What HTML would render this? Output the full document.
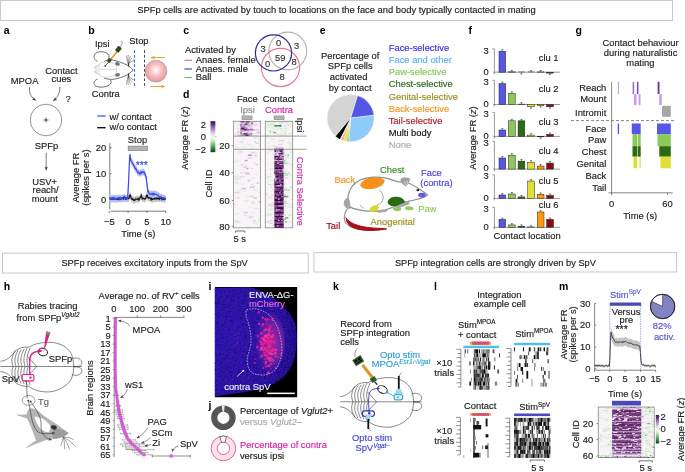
<!DOCTYPE html>
<html><head><meta charset="utf-8"><style>
html,body{margin:0;padding:0;background:#fff;width:685px;height:472px;overflow:hidden}
svg{display:block;font-family:"Liberation Sans",sans-serif;will-change:transform}
</style></head><body>
<svg width="685" height="472" viewBox="0 0 685 472">
<rect x="0.50" y="0.50" width="672.00" height="20.00" fill="none" stroke="#c9c9c9" stroke-width="1"/>
<text x="336.5" y="13.2" text-anchor="middle" font-size="9.37" fill="#222" stroke="#222" stroke-width="0.16">SPFp cells are activated by touch to locations on the face and body typically contacted in mating</text>
<rect x="2.50" y="253.20" width="305.80" height="19.80" fill="none" stroke="#c9c9c9" stroke-width="1"/>
<text x="154.6" y="266.4" text-anchor="middle" font-size="9.27" fill="#222" stroke="#222" stroke-width="0.16">SPFp receives excitatory inputs from the SpV</text>
<rect x="313.90" y="252.60" width="362.70" height="19.40" fill="none" stroke="#c9c9c9" stroke-width="1"/>
<text x="495.4" y="266.0" text-anchor="middle" font-size="9.25" fill="#222" stroke="#222" stroke-width="0.16">SPFp integration cells are strongly driven by SpV</text>
<text x="3.7" y="33.8" text-anchor="start" font-size="10.5" fill="#000" font-weight="bold">a</text>
<text x="88.2" y="33.8" text-anchor="start" font-size="10.5" fill="#000" font-weight="bold">b</text>
<text x="183.2" y="33.8" text-anchor="start" font-size="10.5" fill="#000" font-weight="bold">c</text>
<text x="182.9" y="98" text-anchor="start" font-size="10.5" fill="#000" font-weight="bold">d</text>
<text x="319.8" y="33.8" text-anchor="start" font-size="10.5" fill="#000" font-weight="bold">e</text>
<text x="468.4" y="33.8" text-anchor="start" font-size="10.5" fill="#000" font-weight="bold">f</text>
<text x="575.6" y="33.8" text-anchor="start" font-size="10.5" fill="#000" font-weight="bold">g</text>
<text x="3.8" y="290.2" text-anchor="start" font-size="10.5" fill="#000" font-weight="bold">h</text>
<text x="208.6" y="289.6" text-anchor="start" font-size="10.5" fill="#000" font-weight="bold">i</text>
<text x="208.4" y="409.2" text-anchor="start" font-size="10.5" fill="#000" font-weight="bold">j</text>
<text x="332.9" y="289.7" text-anchor="start" font-size="10.5" fill="#000" font-weight="bold">k</text>
<text x="434.0" y="289.6" text-anchor="start" font-size="10.5" fill="#000" font-weight="bold">l</text>
<text x="559.0" y="289.6" text-anchor="start" font-size="10.5" fill="#000" font-weight="bold">m</text>
<text x="10.8" y="84" text-anchor="start" font-size="9.4" fill="#222" stroke="#222" stroke-width="0.16">MPOA</text>
<text x="61.4" y="74" text-anchor="middle" font-size="9.4" fill="#222" stroke="#222" stroke-width="0.16">Contact</text>
<text x="61.4" y="82.4" text-anchor="middle" font-size="9.4" fill="#222" stroke="#222" stroke-width="0.16">cues</text>
<text x="65.4" y="101.7" text-anchor="start" font-size="9.4" fill="#222" stroke="#222" stroke-width="0.16">?</text>
<defs><marker id="ah" viewBox="0 0 6 6" refX="5" refY="3" markerWidth="4" markerHeight="4" orient="auto"><path d="M0,0 L6,3 L0,6 z" fill="#444"/></marker><marker id="ahs" viewBox="0 0 6 6" refX="5" refY="3" markerWidth="6" markerHeight="6" orient="auto"><path d="M0,0.5 L6,3 L0,5.5 L1.5,3 z" fill="#444"/></marker></defs>
<path d="M29.5,87.2 Q28.5,96 35.6,100.2" fill="none" stroke="#444" stroke-width="0.7" marker-end="url(#ahs)"/>
<path d="M59.8,86.6 Q60.5,95 53.6,100.6" fill="none" stroke="#444" stroke-width="0.7" marker-end="url(#ahs)"/>
<circle cx="46" cy="120" r="15.8" fill="none" stroke="#666" stroke-width="0.7"/>
<line x1="43.6" y1="120" x2="48.4" y2="120" stroke="#222" stroke-width="0.8"/>
<line x1="46" y1="117.6" x2="46" y2="122.4" stroke="#222" stroke-width="0.8"/>
<text x="46.6" y="148.5" text-anchor="middle" font-size="9.4" fill="#222" stroke="#222" stroke-width="0.16">SPFp</text>
<line x1="46.2" y1="152.8" x2="46.2" y2="170" stroke="#444" stroke-width="0.7" marker-end="url(#ahs)"/>
<text x="44.6" y="184.7" text-anchor="middle" font-size="9.4" fill="#222" stroke="#222" stroke-width="0.16">USV+</text>
<text x="45.6" y="193.4" text-anchor="middle" font-size="9.4" fill="#222" stroke="#222" stroke-width="0.16">reach/</text>
<text x="44.8" y="201.7" text-anchor="middle" font-size="9.4" fill="#222" stroke="#222" stroke-width="0.16">mount</text>
<text x="95.0" y="46.8" text-anchor="start" font-size="9.4" fill="#222" stroke="#222" stroke-width="0.16">Ipsi</text>
<text x="129.3" y="44.3" text-anchor="start" font-size="9.4" fill="#222" stroke="#222" stroke-width="0.16">Stop</text>
<text x="91.7" y="96.6" text-anchor="start" font-size="9.4" fill="#222" stroke="#222" stroke-width="0.16">Contra</text>
<path d="M97.5,61.5 C93.5,59.5 92.8,55 96,53 C99.5,51 105,51.3 108,54 C109.6,55.6 109.3,58.5 107.5,60.5" fill="#fff" stroke="#333" stroke-width="0.7"/>
<path d="M97.5,79 C93.5,80.5 92.8,84.5 96,86.2 C99.5,87.8 105,87.5 109,85.2 C111.5,83.8 111.5,81.5 110.5,80" fill="#fff" stroke="#333" stroke-width="0.7"/>
<path d="M104,61.5 C106,60.5 108.5,59.5 111,59.7 C117,60.8 123,63 127,65 C129.5,66.5 131.5,68.2 133.3,70 C131.5,71.8 129.5,73.5 127,75 C123,77 118,78.6 113.2,79.3 C110,79.6 106.5,79 104,78" fill="#fff" stroke="#333" stroke-width="0.7"/>
<g fill="none" stroke="#b4b4b4" stroke-width="0.5">
<path d="M100,63 C104,61.5 110,61.5 114,63.5 C116.5,65 116.8,68 116.6,69.4 C116.8,71 116.5,74 114,75.5 C110,77.5 104,77.5 100,76"/>
<path d="M100,69.4 L116.6,69.4 M100,63 C98.5,66 98.5,72.8 100,76 M93.2,68 C95,67 97,66 98.8,64.5 M93.2,71 C95,72 97,73 98.8,74.5"/>
<path d="M96,65.5 C95,68 95,71 96,73.5 M97.5,64.5 C96.5,68 96.5,71 97.5,74.5"/>
</g>
<ellipse cx="117.5" cy="63.9" rx="2.4" ry="1.7" fill="#707070" transform="rotate(15 117.5 63.9)"/>
<ellipse cx="117.5" cy="74.9" rx="2.4" ry="1.7" fill="#707070" transform="rotate(-15 117.5 74.9)"/>
<path d="M128.6,66.2 C128.2,62 125.4,56.7 127.0,55.2" fill="none" stroke="#222" stroke-width="0.4"/>
<path d="M128.6,66.2 C128.2,62 127.2,56.5 128.8,55.0" fill="none" stroke="#222" stroke-width="0.4"/>
<path d="M128.6,66.2 C128.2,62 129.2,57.3 130.8,55.8" fill="none" stroke="#222" stroke-width="0.4"/>
<path d="M128.6,66.2 C128.2,62 131.0,59.1 132.6,57.6" fill="none" stroke="#222" stroke-width="0.4"/>
<path d="M128.6,66.2 C128.2,62 132.4,61.5 134.0,60.0" fill="none" stroke="#222" stroke-width="0.4"/>
<path d="M128.6,73.8 C128.2,78 125.4,83.3 127.0,84.8" fill="none" stroke="#222" stroke-width="0.4"/>
<path d="M128.6,73.8 C128.2,78 127.2,83.5 128.8,85.0" fill="none" stroke="#222" stroke-width="0.4"/>
<path d="M128.6,73.8 C128.2,78 129.2,82.7 130.8,84.2" fill="none" stroke="#222" stroke-width="0.4"/>
<path d="M128.6,73.8 C128.2,78 131.0,80.9 132.6,82.4" fill="none" stroke="#222" stroke-width="0.4"/>
<path d="M128.6,73.8 C128.2,78 132.4,78.5 134.0,80.0" fill="none" stroke="#222" stroke-width="0.4"/>
<line x1="109.8" y1="60.3" x2="118.0" y2="50.8" stroke="#e0962a" stroke-width="1.6"/>
<rect x="-2.2" y="-3" width="4.4" height="6" rx="1" fill="#2a4a22" transform="translate(118.4 49.3) rotate(40)"/>
<rect x="-1.6" y="-2" width="3.2" height="4" fill="#2a4a22" transform="translate(109.4 60.6) rotate(40)"/>
<line x1="108.6" y1="62.2" x2="105.2" y2="66.0" stroke="#222" stroke-width="0.7"/>
<circle cx="105.1" cy="66.1" r="0.8" fill="#222"/>
<path d="M120.2,46.8 C121.5,45 122.6,43 122.3,41.8 C122,40.8 121,40.9 120.7,41.6" fill="none" stroke="#444" stroke-width="0.5"/>
<line x1="134.5" y1="50.2" x2="134.5" y2="88.0" stroke="#3d6cf0" stroke-width="1.1" stroke-dasharray="2.8,1.9"/>
<line x1="144.5" y1="50.2" x2="144.5" y2="88.0" stroke="#333" stroke-width="0.9" stroke-dasharray="2.8,1.9"/>
<defs><radialGradient id="ball" cx="0.5" cy="0.45" r="0.55"><stop offset="0" stop-color="#fff"/><stop offset="0.5" stop-color="#f7c0c4"/><stop offset="1" stop-color="#ec959c"/></radialGradient></defs>
<circle cx="156" cy="71.2" r="10.9" fill="url(#ball)" stroke="#909090" stroke-width="0.5"/>
<defs><marker id="aho" viewBox="0 0 6 6" refX="5" refY="3" markerWidth="4.5" markerHeight="4.5" orient="auto"><path d="M0,0.5 L6,3 L0,5.5 L1.5,3 z" fill="#f0a030"/></marker></defs>
<line x1="165.0" y1="57.6" x2="151.2" y2="57.6" stroke="#f0a030" stroke-width="1.0" marker-end="url(#aho)"/>
<line x1="150.4" y1="86.5" x2="164.6" y2="86.5" stroke="#f0a030" stroke-width="1.0" marker-end="url(#aho)"/>
<line x1="97.2" y1="116" x2="105.6" y2="116" stroke="#3d6cf0" stroke-width="1.4"/>
<text x="109.5" y="119.9" text-anchor="start" font-size="9.4" fill="#222" stroke="#222" stroke-width="0.16">w/ contact</text>
<line x1="97.2" y1="127.7" x2="105.6" y2="127.7" stroke="#111" stroke-width="1.4"/>
<text x="109.5" y="130.3" text-anchor="start" font-size="9.4" fill="#222" stroke="#222" stroke-width="0.16">w/o contact</text>
<text x="137.5" y="142.9" text-anchor="middle" font-size="9.4" fill="#222" stroke="#222" stroke-width="0.16">Stop</text>
<rect x="128.20" y="146.10" width="19.10" height="4.60" fill="#b3b3b3" stroke="#7a7a7a" stroke-width="0.6"/>
<line x1="109.8" y1="143.3" x2="109.8" y2="209.5" stroke="#444" stroke-width="0.7"/>
<line x1="109.8" y1="147.7" x2="111.6" y2="147.7" stroke="#444" stroke-width="0.7"/>
<text x="106.3" y="151.0" text-anchor="end" font-size="9.4" fill="#222" stroke="#222" stroke-width="0.16">20</text>
<line x1="109.8" y1="173.7" x2="111.6" y2="173.7" stroke="#444" stroke-width="0.7"/>
<text x="106.3" y="177.0" text-anchor="end" font-size="9.4" fill="#222" stroke="#222" stroke-width="0.16">10</text>
<line x1="109.8" y1="199.7" x2="111.6" y2="199.7" stroke="#444" stroke-width="0.7"/>
<text x="106.3" y="203.0" text-anchor="end" font-size="9.4" fill="#222" stroke="#222" stroke-width="0.16">0</text>
<line x1="110.6" y1="211.2" x2="166" y2="211.2" stroke="#444" stroke-width="0.7"/>
<line x1="109.3" y1="211.2" x2="109.3" y2="213" stroke="#444" stroke-width="0.7"/>
<text x="109.3" y="225" text-anchor="middle" font-size="9.4" fill="#222" stroke="#222" stroke-width="0.16">−5</text>
<line x1="128.1" y1="211.2" x2="128.1" y2="213" stroke="#444" stroke-width="0.7"/>
<text x="128.1" y="225" text-anchor="middle" font-size="9.4" fill="#222" stroke="#222" stroke-width="0.16">0</text>
<line x1="146.89999999999998" y1="211.2" x2="146.89999999999998" y2="213" stroke="#444" stroke-width="0.7"/>
<text x="146.89999999999998" y="225" text-anchor="middle" font-size="9.4" fill="#222" stroke="#222" stroke-width="0.16">5</text>
<line x1="165.7" y1="211.2" x2="165.7" y2="213" stroke="#444" stroke-width="0.7"/>
<text x="165.7" y="225" text-anchor="middle" font-size="9.4" fill="#222" stroke="#222" stroke-width="0.16">10</text>
<text x="138.3" y="237.2" text-anchor="middle" font-size="9.4" fill="#222" stroke="#222" stroke-width="0.16">Time (s)</text>
<text transform="translate(78.50,177.6) rotate(-90)" text-anchor="middle" font-size="9.4" fill="#222" stroke="#222" stroke-width="0.16">Average FR</text>
<text transform="translate(89.30,177.6) rotate(-90)" text-anchor="middle" font-size="9.4" fill="#222" stroke="#222" stroke-width="0.16">(spikes per s)</text>
<polygon points="109.3,195.1 109.8,194.8 110.2,195.3 110.7,194.8 111.2,194.8 111.6,195.9 112.1,195.9 112.6,195.0 113.1,194.6 113.5,195.7 114.0,195.4 114.5,195.2 114.9,195.7 115.4,195.7 115.9,195.8 116.3,195.7 116.8,195.4 117.3,195.8 117.8,195.6 118.2,195.0 118.7,196.1 119.2,195.2 119.6,194.8 120.1,195.5 120.6,195.5 121.0,194.6 121.5,195.4 122.0,195.4 122.5,195.0 122.9,194.5 123.4,195.4 123.9,194.5 124.3,193.5 124.8,194.0 125.3,195.4 125.8,194.6 126.2,195.6 126.7,195.3 127.2,194.8 127.6,194.3 128.1,194.9 128.6,195.2 129.0,194.7 129.5,192.6 130.0,191.6 130.4,192.3 130.9,193.8 131.4,195.7 131.9,195.9 132.3,195.4 132.8,196.0 133.3,196.0 133.7,197.1 134.2,197.2 134.7,196.7 135.2,195.7 135.6,196.3 136.1,195.9 136.6,195.7 137.0,195.8 137.5,195.9 138.0,195.2 138.4,196.4 138.9,196.8 139.4,195.4 139.8,194.6 140.3,193.6 140.8,193.6 141.3,192.0 141.7,193.2 142.2,195.5 142.7,195.1 143.1,194.9 143.6,195.2 144.1,195.4 144.5,195.7 145.0,195.6 145.5,195.5 146.0,194.5 146.4,192.5 146.9,191.7 147.4,192.0 147.8,194.4 148.3,194.2 148.8,194.8 149.2,194.5 149.7,194.6 150.2,194.7 150.7,195.3 151.1,196.3 151.6,195.2 152.1,196.2 152.5,196.1 153.0,195.5 153.5,195.6 153.9,195.7 154.4,194.9 154.9,195.3 155.4,195.7 155.8,195.7 156.3,194.7 156.8,195.3 157.2,194.7 157.7,195.3 158.2,195.5 158.6,195.0 159.1,194.6 159.6,195.6 160.1,194.7 160.5,194.5 161.0,194.7 161.5,194.7 161.9,196.0 162.4,195.1 162.9,194.8 163.3,196.1 163.8,195.8 164.3,195.8 164.8,195.4 165.2,195.6 165.7,195.6 165.7,202.3 165.2,202.4 164.8,202.2 164.3,202.6 163.8,202.5 163.3,202.8 162.9,201.5 162.4,201.9 161.9,202.8 161.5,201.5 161.0,201.5 160.5,201.3 160.1,201.5 159.6,202.4 159.1,201.4 158.6,201.8 158.2,202.3 157.7,202.1 157.2,201.5 156.8,202.0 156.3,201.5 155.8,202.5 155.4,202.4 154.9,202.1 154.4,201.6 153.9,202.5 153.5,202.4 153.0,202.2 152.5,202.9 152.1,203.0 151.6,202.0 151.1,203.1 150.7,202.1 150.2,201.5 149.7,201.4 149.2,201.3 148.8,201.5 148.3,200.9 147.8,201.1 147.4,198.8 146.9,198.5 146.4,199.2 146.0,201.3 145.5,202.2 145.0,202.3 144.5,202.4 144.1,202.1 143.6,201.9 143.1,201.7 142.7,201.9 142.2,202.3 141.7,200.0 141.3,198.7 140.8,200.4 140.3,200.4 139.8,201.4 139.4,202.1 138.9,203.5 138.4,203.2 138.0,201.9 137.5,202.6 137.0,202.5 136.6,202.5 136.1,202.7 135.6,203.0 135.2,202.4 134.7,203.5 134.2,203.9 133.7,203.8 133.3,202.8 132.8,202.7 132.3,202.1 131.9,202.6 131.4,202.5 130.9,200.6 130.4,199.0 130.0,198.4 129.5,199.4 129.0,201.5 128.6,202.0 128.1,201.7 127.6,201.1 127.2,201.5 126.7,202.1 126.2,202.4 125.8,201.4 125.3,202.1 124.8,200.7 124.3,200.2 123.9,201.2 123.4,202.2 122.9,201.3 122.5,201.8 122.0,202.2 121.5,202.2 121.0,201.3 120.6,202.3 120.1,202.2 119.6,201.6 119.2,201.9 118.7,202.8 118.2,201.7 117.8,202.4 117.3,202.6 116.8,202.2 116.3,202.5 115.9,202.5 115.4,202.4 114.9,202.5 114.5,202.0 114.0,202.2 113.5,202.5 113.1,201.3 112.6,201.7 112.1,202.7 111.6,202.7 111.2,201.5 110.7,201.6 110.2,202.1 109.8,201.5 109.3,201.8" fill="#c4c4c4"/>
<polygon points="109.3,195.6 109.8,195.2 110.2,195.4 110.7,195.1 111.2,195.1 111.6,195.8 112.1,195.9 112.6,194.8 113.1,195.5 113.5,195.6 114.0,194.6 114.5,195.2 114.9,194.8 115.4,195.2 115.9,195.0 116.3,195.6 116.8,195.0 117.3,194.7 117.8,195.1 118.2,194.8 118.7,194.9 119.2,195.7 119.6,194.8 120.1,195.0 120.6,195.4 121.0,195.7 121.5,194.6 122.0,195.1 122.5,194.8 122.9,194.6 123.4,194.8 123.9,194.5 124.3,195.2 124.8,194.7 125.3,195.1 125.8,194.5 126.2,194.5 126.7,195.6 127.2,195.5 127.6,195.4 128.1,187.0 128.6,178.5 129.0,168.1 129.5,156.8 130.0,151.0 130.4,154.8 130.9,157.4 131.4,157.9 131.9,158.8 132.3,159.3 132.8,160.5 133.3,161.1 133.7,162.1 134.2,162.7 134.7,163.9 135.2,165.3 135.6,165.2 136.1,165.8 136.6,166.7 137.0,167.9 137.5,168.5 138.0,169.4 138.4,168.8 138.9,169.4 139.4,170.0 139.8,170.5 140.3,169.4 140.8,168.9 141.3,169.7 141.7,168.4 142.2,168.5 142.7,168.9 143.1,168.9 143.6,168.6 144.1,168.7 144.5,170.1 145.0,170.4 145.5,172.3 146.0,172.7 146.4,176.4 146.9,180.2 147.4,184.6 147.8,188.2 148.3,188.0 148.8,189.4 149.2,190.2 149.7,190.0 150.2,191.0 150.7,190.8 151.1,190.6 151.6,190.4 152.1,191.1 152.5,191.3 153.0,190.2 153.5,191.0 153.9,190.2 154.4,190.4 154.9,191.1 155.4,191.1 155.8,191.0 156.3,190.9 156.8,191.3 157.2,191.7 157.7,191.9 158.2,191.8 158.6,192.7 159.1,193.2 159.6,193.1 160.1,194.1 160.5,194.1 161.0,193.3 161.5,194.0 161.9,194.1 162.4,194.9 162.9,194.5 163.3,194.4 163.8,195.2 164.3,194.5 164.8,194.6 165.2,195.5 165.7,194.9 165.7,201.6 165.2,202.2 164.8,201.4 164.3,201.3 163.8,202.0 163.3,201.1 162.9,201.2 162.4,201.7 161.9,200.9 161.5,200.8 161.0,200.1 160.5,200.8 160.1,200.8 159.6,199.9 159.1,199.9 158.6,199.5 158.2,198.6 157.7,198.7 157.2,198.5 156.8,198.1 156.3,197.7 155.8,197.8 155.4,197.8 154.9,197.9 154.4,197.1 153.9,197.0 153.5,197.8 153.0,197.0 152.5,198.0 152.1,197.8 151.6,197.2 151.1,197.4 150.7,197.6 150.2,197.7 149.7,196.8 149.2,197.0 148.8,196.2 148.3,194.8 147.8,194.9 147.4,191.4 146.9,187.0 146.4,183.1 146.0,179.4 145.5,179.1 145.0,177.1 144.5,176.8 144.1,175.5 143.6,175.4 143.1,175.7 142.7,175.6 142.2,175.3 141.7,175.1 141.3,176.4 140.8,175.7 140.3,176.2 139.8,177.2 139.4,176.7 138.9,176.1 138.4,175.6 138.0,176.1 137.5,175.2 137.0,174.7 136.6,173.4 136.1,172.6 135.6,171.9 135.2,172.1 134.7,170.6 134.2,169.4 133.7,168.8 133.3,167.8 132.8,167.3 132.3,166.1 131.9,165.6 131.4,164.7 130.9,164.1 130.4,161.5 130.0,157.7 129.5,163.6 129.0,174.8 128.6,185.3 128.1,193.8 127.6,202.1 127.2,202.3 126.7,202.3 126.2,201.3 125.8,201.2 125.3,201.9 124.8,201.4 124.3,202.0 123.9,201.3 123.4,201.6 122.9,201.4 122.5,201.6 122.0,201.9 121.5,201.4 121.0,202.5 120.6,202.1 120.1,201.8 119.6,201.6 119.2,202.5 118.7,201.7 118.2,201.6 117.8,201.9 117.3,201.4 116.8,201.8 116.3,202.4 115.9,201.8 115.4,202.0 114.9,201.5 114.5,202.0 114.0,201.3 113.5,202.3 113.1,202.3 112.6,201.6 112.1,202.6 111.6,202.6 111.2,201.9 110.7,201.9 110.2,202.2 109.8,202.0 109.3,202.4" fill="#b4bcf6"/>
<polyline points="109.3,198.5 109.8,198.2 110.2,198.7 110.7,198.2 111.2,198.2 111.6,199.3 112.1,199.3 112.6,198.4 113.1,197.9 113.5,199.1 114.0,198.8 114.5,198.6 114.9,199.1 115.4,199.0 115.9,199.1 116.3,199.1 116.8,198.8 117.3,199.2 117.8,199.0 118.2,198.3 118.7,199.4 119.2,198.5 119.6,198.2 120.1,198.8 120.6,198.9 121.0,198.0 121.5,198.8 122.0,198.8 122.5,198.4 122.9,197.9 123.4,198.8 123.9,197.8 124.3,196.8 124.8,197.4 125.3,198.7 125.8,198.0 126.2,199.0 126.7,198.7 127.2,198.1 127.6,197.7 128.1,198.3 128.6,198.6 129.0,198.1 129.5,196.0 130.0,195.0 130.4,195.6 130.9,197.2 131.4,199.1 131.9,199.3 132.3,198.8 132.8,199.3 133.3,199.4 133.7,200.5 134.2,200.6 134.7,200.1 135.2,199.1 135.6,199.6 136.1,199.3 136.6,199.1 137.0,199.2 137.5,199.3 138.0,198.5 138.4,199.8 138.9,200.1 139.4,198.7 139.8,198.0 140.3,197.0 140.8,197.0 141.3,195.4 141.7,196.6 142.2,198.9 142.7,198.5 143.1,198.3 143.6,198.6 144.1,198.7 144.5,199.1 145.0,198.9 145.5,198.8 146.0,197.9 146.4,195.8 146.9,195.1 147.4,195.4 147.8,197.7 148.3,197.5 148.8,198.2 149.2,197.9 149.7,198.0 150.2,198.1 150.7,198.7 151.1,199.7 151.6,198.6 152.1,199.6 152.5,199.5 153.0,198.9 153.5,199.0 153.9,199.1 154.4,198.2 154.9,198.7 155.4,199.0 155.8,199.1 156.3,198.1 156.8,198.6 157.2,198.1 157.7,198.7 158.2,198.9 158.6,198.4 159.1,198.0 159.6,199.0 160.1,198.1 160.5,197.9 161.0,198.1 161.5,198.1 161.9,199.4 162.4,198.5 162.9,198.2 163.3,199.5 163.8,199.1 164.3,199.2 164.8,198.8 165.2,199.0 165.7,199.0" fill="none" stroke="#1a1a1a" stroke-width="1.3"/>
<polyline points="109.3,199.0 109.8,198.6 110.2,198.8 110.7,198.5 111.2,198.5 111.6,199.2 112.1,199.3 112.6,198.2 113.1,198.9 113.5,198.9 114.0,197.9 114.5,198.6 114.9,198.1 115.4,198.6 115.9,198.4 116.3,199.0 116.8,198.4 117.3,198.1 117.8,198.5 118.2,198.2 118.7,198.3 119.2,199.1 119.6,198.2 120.1,198.4 120.6,198.8 121.0,199.1 121.5,198.0 122.0,198.5 122.5,198.2 122.9,198.0 123.4,198.2 123.9,197.9 124.3,198.6 124.8,198.0 125.3,198.5 125.8,197.9 126.2,197.9 126.7,198.9 127.2,198.9 127.6,198.8 128.1,190.4 128.6,181.9 129.0,171.5 129.5,160.2 130.0,154.3 130.4,158.1 130.9,160.7 131.4,161.3 131.9,162.2 132.3,162.7 132.8,163.9 133.3,164.4 133.7,165.4 134.2,166.0 134.7,167.2 135.2,168.7 135.6,168.6 136.1,169.2 136.6,170.1 137.0,171.3 137.5,171.9 138.0,172.7 138.4,172.2 138.9,172.7 139.4,173.3 139.8,173.9 140.3,172.8 140.8,172.3 141.3,173.1 141.7,171.8 142.2,171.9 142.7,172.2 143.1,172.3 143.6,172.0 144.1,172.1 144.5,173.5 145.0,173.7 145.5,175.7 146.0,176.0 146.4,179.8 146.9,183.6 147.4,188.0 147.8,191.6 148.3,191.4 148.8,192.8 149.2,193.6 149.7,193.4 150.2,194.4 150.7,194.2 151.1,194.0 151.6,193.8 152.1,194.4 152.5,194.6 153.0,193.6 153.5,194.4 153.9,193.6 154.4,193.8 154.9,194.5 155.4,194.4 155.8,194.4 156.3,194.3 156.8,194.7 157.2,195.1 157.7,195.3 158.2,195.2 158.6,196.1 159.1,196.5 159.6,196.5 160.1,197.4 160.5,197.5 161.0,196.7 161.5,197.4 161.9,197.5 162.4,198.3 162.9,197.9 163.3,197.8 163.8,198.6 164.3,197.9 164.8,198.0 165.2,198.9 165.7,198.2" fill="none" stroke="#3348ee" stroke-width="1.2"/>
<text x="141.8" y="169.4" text-anchor="middle" font-size="10.5" fill="#3348ee" stroke="#3348ee" stroke-width="0.16">***</text>
<text x="184.9" y="53.2" text-anchor="start" font-size="9.4" fill="#222" stroke="#222" stroke-width="0.16">Activated by</text>
<line x1="184.4" y1="60.3" x2="192" y2="60.3" stroke="#e8788a" stroke-width="1.2"/>
<text x="195.8" y="63.0" text-anchor="start" font-size="9.4" fill="#222" stroke="#222" stroke-width="0.16">Anaes. female</text>
<line x1="184.4" y1="69.0" x2="192" y2="69.0" stroke="#3355bb" stroke-width="1.2"/>
<text x="195.8" y="71.6" text-anchor="start" font-size="9.4" fill="#222" stroke="#222" stroke-width="0.16">Anaes. male</text>
<line x1="184.4" y1="77.5" x2="192" y2="77.5" stroke="#999" stroke-width="1.2"/>
<text x="195.8" y="80.2" text-anchor="start" font-size="9.4" fill="#222" stroke="#222" stroke-width="0.16">Ball</text>
<circle cx="287.8" cy="51" r="18.9" fill="none" stroke="#b0b0b0" stroke-width="1.1"/>
<circle cx="280.5" cy="67.5" r="19.1" fill="none" stroke="#e8788a" stroke-width="1.1"/>
<circle cx="273.5" cy="52.9" r="18.1" fill="none" stroke="#2d2d9c" stroke-width="1.2"/>
<text x="263.2" y="52" text-anchor="middle" font-size="9.4" fill="#333" stroke="#333" stroke-width="0.16">3</text>
<text x="278.6" y="46" text-anchor="middle" font-size="9.4" fill="#333" stroke="#333" stroke-width="0.16">0</text>
<text x="296.7" y="49.3" text-anchor="middle" font-size="9.4" fill="#333" stroke="#333" stroke-width="0.16">3</text>
<text x="280.2" y="61" text-anchor="middle" font-size="9.4" fill="#333" stroke="#333" stroke-width="0.16">59</text>
<text x="267.5" y="67.2" text-anchor="middle" font-size="9.4" fill="#333" stroke="#333" stroke-width="0.16">0</text>
<text x="294.2" y="65" text-anchor="middle" font-size="9.4" fill="#333" stroke="#333" stroke-width="0.16">8</text>
<text x="282" y="79.6" text-anchor="middle" font-size="9.4" fill="#333" stroke="#333" stroke-width="0.16">8</text>
<text x="247.3" y="101.8" text-anchor="middle" font-size="9.4" fill="#222" stroke="#222" stroke-width="0.16">Face</text>
<text x="278.8" y="101.8" text-anchor="middle" font-size="9.4" fill="#222" stroke="#222" stroke-width="0.16">Contact</text>
<text x="247.5" y="112.7" text-anchor="middle" font-size="9.4" fill="#888" stroke="#888" stroke-width="0.16">Ipsi</text>
<text x="279" y="112.7" text-anchor="middle" font-size="9.4" fill="#d41fa8" stroke="#d41fa8" stroke-width="0.16">Contra</text>
<rect x="242.00" y="115.90" width="10.10" height="3.80" fill="#b3b3b3" stroke="#7a7a7a" stroke-width="0.5"/>
<rect x="274.00" y="115.90" width="10.10" height="3.80" fill="#b3b3b3" stroke="#7a7a7a" stroke-width="0.5"/>
<defs><linearGradient id="prgn" x1="0" y1="0" x2="0" y2="1"><stop offset="0" stop-color="#40004b"/><stop offset="0.2" stop-color="#8c6bb1"/><stop offset="0.4" stop-color="#e7d4e8"/><stop offset="0.5" stop-color="#f7f7f7"/><stop offset="0.6" stop-color="#d9f0d3"/><stop offset="0.8" stop-color="#5aae61"/><stop offset="1" stop-color="#00441b"/></linearGradient></defs>
<rect x="210.50" y="121.20" width="4.80" height="31.00" fill="url(#prgn)" stroke="none" stroke-width="0.8"/>
<line x1="215.3" y1="124.7" x2="216.5" y2="124.7" stroke="#666" stroke-width="0.5"/>
<text x="206" y="128.0" text-anchor="end" font-size="9.4" fill="#222" stroke="#222" stroke-width="0.16">2</text>
<line x1="215.3" y1="136.5" x2="216.5" y2="136.5" stroke="#666" stroke-width="0.5"/>
<text x="206" y="139.8" text-anchor="end" font-size="9.4" fill="#222" stroke="#222" stroke-width="0.16">0</text>
<line x1="215.3" y1="149.2" x2="216.5" y2="149.2" stroke="#666" stroke-width="0.5"/>
<text x="206" y="152.5" text-anchor="end" font-size="9.4" fill="#222" stroke="#222" stroke-width="0.16">−2</text>
<text transform="translate(187.70,138) rotate(-90)" text-anchor="middle" font-size="9.4" fill="#222" stroke="#222" stroke-width="0.16">Average FR (<tspan font-style="italic">z</tspan>)</text>
<text transform="translate(211.90,183.5) rotate(-90)" text-anchor="middle" font-size="9.4" fill="#222" stroke="#222" stroke-width="0.16">Cell ID</text>
<text x="229.8" y="149.0" text-anchor="end" font-size="9.4" fill="#222" stroke="#222" stroke-width="0.16">20</text>
<line x1="231.6" y1="145.7" x2="233.5" y2="145.7" stroke="#444" stroke-width="0.6"/>
<text x="229.8" y="176.0" text-anchor="end" font-size="9.4" fill="#222" stroke="#222" stroke-width="0.16">40</text>
<line x1="231.6" y1="172.7" x2="233.5" y2="172.7" stroke="#444" stroke-width="0.6"/>
<text x="229.8" y="203.8" text-anchor="end" font-size="9.4" fill="#222" stroke="#222" stroke-width="0.16">60</text>
<line x1="231.6" y1="200.5" x2="233.5" y2="200.5" stroke="#444" stroke-width="0.6"/>
<text x="229.8" y="229.70000000000002" text-anchor="end" font-size="9.4" fill="#222" stroke="#222" stroke-width="0.16">80</text>
<line x1="231.6" y1="226.4" x2="233.5" y2="226.4" stroke="#444" stroke-width="0.6"/>
<rect x="233.50" y="121.20" width="27.20" height="106.70" fill="#f8f4f7" stroke="none" stroke-width="0.8"/>
<rect x="240.55" y="121.20" width="1.06" height="1.38" fill="#5b1567"/>
<rect x="241.56" y="121.20" width="2.06" height="1.38" fill="#40004b"/>
<rect x="243.57" y="121.20" width="1.06" height="1.38" fill="#5b1567"/>
<rect x="245.59" y="121.20" width="1.06" height="1.38" fill="#5b1567"/>
<rect x="246.60" y="121.20" width="3.07" height="1.38" fill="#40004b"/>
<rect x="249.62" y="121.20" width="2.06" height="1.38" fill="#d4bcdc"/>
<rect x="251.63" y="121.20" width="1.06" height="1.38" fill="#e8f4e5"/>
<rect x="252.64" y="121.20" width="4.08" height="1.38" fill="#e7d4e8"/>
<rect x="235.51" y="122.53" width="1.06" height="1.38" fill="#e8f4e5"/>
<rect x="240.55" y="122.53" width="2.06" height="1.38" fill="#d4bcdc"/>
<rect x="243.57" y="122.53" width="1.06" height="1.38" fill="#c2a5cf"/>
<rect x="244.58" y="122.53" width="1.06" height="1.38" fill="#e7d4e8"/>
<rect x="245.59" y="122.53" width="1.06" height="1.38" fill="#762a83"/>
<rect x="246.60" y="122.53" width="1.06" height="1.38" fill="#9c68a9"/>
<rect x="247.60" y="122.53" width="2.06" height="1.38" fill="#c2a5cf"/>
<rect x="249.62" y="122.53" width="1.06" height="1.38" fill="#e7d4e8"/>
<rect x="250.63" y="122.53" width="1.06" height="1.38" fill="#c2a5cf"/>
<rect x="251.63" y="122.53" width="1.06" height="1.38" fill="#40004b"/>
<rect x="238.54" y="123.87" width="2.06" height="1.38" fill="#e7d4e8"/>
<rect x="240.55" y="123.87" width="1.06" height="1.38" fill="#40004b"/>
<rect x="241.56" y="123.87" width="1.06" height="1.38" fill="#e7d4e8"/>
<rect x="242.57" y="123.87" width="1.06" height="1.38" fill="#9c68a9"/>
<rect x="243.57" y="123.87" width="1.06" height="1.38" fill="#d4bcdc"/>
<rect x="244.58" y="123.87" width="1.06" height="1.38" fill="#40004b"/>
<rect x="245.59" y="123.87" width="2.06" height="1.38" fill="#762a83"/>
<rect x="247.60" y="123.87" width="1.06" height="1.38" fill="#9c68a9"/>
<rect x="248.61" y="123.87" width="1.06" height="1.38" fill="#d9f0d3"/>
<rect x="249.62" y="123.87" width="1.06" height="1.38" fill="#c2a5cf"/>
<rect x="250.63" y="123.87" width="1.06" height="1.38" fill="#e7d4e8"/>
<rect x="251.63" y="123.87" width="1.06" height="1.38" fill="#c2a5cf"/>
<rect x="252.64" y="123.87" width="1.06" height="1.38" fill="#e7d4e8"/>
<rect x="253.65" y="123.87" width="2.06" height="1.38" fill="#d4bcdc"/>
<rect x="255.66" y="123.87" width="2.06" height="1.38" fill="#e7d4e8"/>
<rect x="237.53" y="125.20" width="1.06" height="1.38" fill="#d9f0d3"/>
<rect x="238.54" y="125.20" width="1.06" height="1.38" fill="#e8f4e5"/>
<rect x="239.54" y="125.20" width="1.06" height="1.38" fill="#d9f0d3"/>
<rect x="240.55" y="125.20" width="1.06" height="1.38" fill="#762a83"/>
<rect x="241.56" y="125.20" width="2.06" height="1.38" fill="#c2a5cf"/>
<rect x="243.57" y="125.20" width="1.06" height="1.38" fill="#9c68a9"/>
<rect x="244.58" y="125.20" width="1.06" height="1.38" fill="#c2a5cf"/>
<rect x="247.60" y="125.20" width="1.06" height="1.38" fill="#c2a5cf"/>
<rect x="248.61" y="125.20" width="1.06" height="1.38" fill="#9c68a9"/>
<rect x="249.62" y="125.20" width="1.06" height="1.38" fill="#d4bcdc"/>
<rect x="250.63" y="125.20" width="1.06" height="1.38" fill="#c2a5cf"/>
<rect x="251.63" y="125.20" width="1.06" height="1.38" fill="#d4bcdc"/>
<rect x="256.67" y="125.20" width="1.06" height="1.38" fill="#e7d4e8"/>
<rect x="240.55" y="126.53" width="5.09" height="1.38" fill="#9c68a9"/>
<rect x="245.59" y="126.53" width="2.06" height="1.38" fill="#c2a5cf"/>
<rect x="247.60" y="126.53" width="4.08" height="1.38" fill="#e7d4e8"/>
<rect x="251.63" y="126.53" width="1.06" height="1.38" fill="#e8f4e5"/>
<rect x="236.52" y="127.87" width="1.06" height="1.38" fill="#e7d4e8"/>
<rect x="239.54" y="127.87" width="1.06" height="1.38" fill="#e7d4e8"/>
<rect x="240.55" y="127.87" width="1.06" height="1.38" fill="#762a83"/>
<rect x="241.56" y="127.87" width="3.07" height="1.38" fill="#40004b"/>
<rect x="244.58" y="127.87" width="1.06" height="1.38" fill="#c2a5cf"/>
<rect x="245.59" y="127.87" width="1.06" height="1.38" fill="#762a83"/>
<rect x="246.60" y="127.87" width="1.06" height="1.38" fill="#9c68a9"/>
<rect x="247.60" y="127.87" width="2.06" height="1.38" fill="#e7d4e8"/>
<rect x="249.62" y="127.87" width="1.06" height="1.38" fill="#c2a5cf"/>
<rect x="250.63" y="127.87" width="1.06" height="1.38" fill="#d4bcdc"/>
<rect x="251.63" y="127.87" width="1.06" height="1.38" fill="#c2a5cf"/>
<rect x="240.55" y="129.20" width="1.06" height="1.38" fill="#40004b"/>
<rect x="241.56" y="129.20" width="1.06" height="1.38" fill="#9c68a9"/>
<rect x="242.57" y="129.20" width="1.06" height="1.38" fill="#5b1567"/>
<rect x="243.57" y="129.20" width="3.07" height="1.38" fill="#40004b"/>
<rect x="246.60" y="129.20" width="1.06" height="1.38" fill="#762a83"/>
<rect x="247.60" y="129.20" width="1.06" height="1.38" fill="#40004b"/>
<rect x="248.61" y="129.20" width="1.06" height="1.38" fill="#9c68a9"/>
<rect x="249.62" y="129.20" width="1.06" height="1.38" fill="#5b1567"/>
<rect x="250.63" y="129.20" width="1.06" height="1.38" fill="#9c68a9"/>
<rect x="251.63" y="129.20" width="1.06" height="1.38" fill="#5b1567"/>
<rect x="252.64" y="129.20" width="1.06" height="1.38" fill="#d4bcdc"/>
<rect x="253.65" y="129.20" width="1.06" height="1.38" fill="#9c68a9"/>
<rect x="254.66" y="129.20" width="2.06" height="1.38" fill="#e7d4e8"/>
<rect x="256.67" y="129.20" width="2.06" height="1.38" fill="#d4bcdc"/>
<rect x="237.53" y="130.54" width="2.06" height="1.38" fill="#e7d4e8"/>
<rect x="240.55" y="130.54" width="2.06" height="1.38" fill="#c2a5cf"/>
<rect x="242.57" y="130.54" width="1.06" height="1.38" fill="#d4bcdc"/>
<rect x="243.57" y="130.54" width="1.06" height="1.38" fill="#c2a5cf"/>
<rect x="247.60" y="130.54" width="1.06" height="1.38" fill="#c2a5cf"/>
<rect x="248.61" y="130.54" width="3.07" height="1.38" fill="#e7d4e8"/>
<rect x="257.68" y="130.54" width="2.06" height="1.38" fill="#e7d4e8"/>
<rect x="236.52" y="131.87" width="4.08" height="1.38" fill="#e7d4e8"/>
<rect x="240.55" y="131.87" width="1.06" height="1.38" fill="#762a83"/>
<rect x="241.56" y="131.87" width="1.06" height="1.38" fill="#c2a5cf"/>
<rect x="244.58" y="131.87" width="1.06" height="1.38" fill="#e7d4e8"/>
<rect x="245.59" y="131.87" width="1.06" height="1.38" fill="#c2a5cf"/>
<rect x="246.60" y="131.87" width="1.06" height="1.38" fill="#d4bcdc"/>
<rect x="247.60" y="131.87" width="1.06" height="1.38" fill="#c2a5cf"/>
<rect x="249.62" y="131.87" width="1.06" height="1.38" fill="#d4bcdc"/>
<rect x="250.63" y="131.87" width="2.06" height="1.38" fill="#e7d4e8"/>
<rect x="256.67" y="131.87" width="1.06" height="1.38" fill="#c2a5cf"/>
<rect x="257.68" y="131.87" width="2.06" height="1.38" fill="#d4bcdc"/>
<rect x="234.51" y="133.20" width="1.06" height="1.38" fill="#d4bcdc"/>
<rect x="235.51" y="133.20" width="1.06" height="1.38" fill="#efe6f0"/>
<rect x="236.52" y="133.20" width="1.06" height="1.38" fill="#d9f0d3"/>
<rect x="237.53" y="133.20" width="1.06" height="1.38" fill="#e7d4e8"/>
<rect x="240.55" y="133.20" width="1.06" height="1.38" fill="#762a83"/>
<rect x="242.57" y="133.20" width="1.06" height="1.38" fill="#9c68a9"/>
<rect x="243.57" y="133.20" width="2.06" height="1.38" fill="#40004b"/>
<rect x="245.59" y="133.20" width="2.06" height="1.38" fill="#5b1567"/>
<rect x="247.60" y="133.20" width="2.06" height="1.38" fill="#c2a5cf"/>
<rect x="249.62" y="133.20" width="1.06" height="1.38" fill="#9c68a9"/>
<rect x="250.63" y="133.20" width="1.06" height="1.38" fill="#762a83"/>
<rect x="251.63" y="133.20" width="1.06" height="1.38" fill="#d4bcdc"/>
<rect x="252.64" y="133.20" width="4.08" height="1.38" fill="#d9f0d3"/>
<rect x="237.53" y="134.54" width="3.07" height="1.38" fill="#d4bcdc"/>
<rect x="240.55" y="134.54" width="1.06" height="1.38" fill="#9c68a9"/>
<rect x="241.56" y="134.54" width="1.06" height="1.38" fill="#c2a5cf"/>
<rect x="242.57" y="134.54" width="1.06" height="1.38" fill="#762a83"/>
<rect x="243.57" y="134.54" width="1.06" height="1.38" fill="#c2a5cf"/>
<rect x="244.58" y="134.54" width="2.06" height="1.38" fill="#5b1567"/>
<rect x="246.60" y="134.54" width="2.06" height="1.38" fill="#40004b"/>
<rect x="248.61" y="134.54" width="1.06" height="1.38" fill="#762a83"/>
<rect x="249.62" y="134.54" width="1.06" height="1.38" fill="#d4bcdc"/>
<rect x="250.63" y="134.54" width="1.06" height="1.38" fill="#9c68a9"/>
<rect x="251.63" y="134.54" width="1.06" height="1.38" fill="#d4bcdc"/>
<rect x="253.65" y="134.54" width="5.09" height="1.38" fill="#d9f0d3"/>
<rect x="258.69" y="135.87" width="1.06" height="1.38" fill="#e7d4e8"/>
<rect x="259.69" y="135.87" width="1.06" height="1.38" fill="#efe6f0"/>
<rect x="253.65" y="137.21" width="3.07" height="1.38" fill="#e7d4e8"/>
<rect x="258.69" y="137.21" width="2.06" height="1.38" fill="#d9f0d3"/>
<rect x="241.56" y="138.54" width="4.08" height="1.38" fill="#d9f0d3"/>
<rect x="257.68" y="139.87" width="3.07" height="1.38" fill="#d9f0d3"/>
<rect x="239.54" y="141.21" width="4.08" height="1.38" fill="#e7d4e8"/>
<rect x="246.60" y="141.21" width="1.06" height="1.38" fill="#e7d4e8"/>
<rect x="254.66" y="141.21" width="1.06" height="1.38" fill="#d4bcdc"/>
<rect x="255.66" y="142.54" width="1.06" height="1.38" fill="#d4bcdc"/>
<rect x="256.67" y="142.54" width="1.06" height="1.38" fill="#e7d4e8"/>
<rect x="257.68" y="142.54" width="1.06" height="1.38" fill="#d4bcdc"/>
<rect x="247.60" y="143.87" width="3.07" height="1.38" fill="#d9f0d3"/>
<rect x="251.63" y="145.21" width="2.06" height="1.38" fill="#d9f0d3"/>
<rect x="258.69" y="145.21" width="2.06" height="1.38" fill="#e7d4e8"/>
<rect x="236.52" y="146.54" width="1.06" height="1.38" fill="#d4bcdc"/>
<rect x="242.57" y="146.54" width="1.06" height="1.38" fill="#e8f4e5"/>
<rect x="243.57" y="146.54" width="1.06" height="1.38" fill="#d9f0d3"/>
<rect x="244.58" y="146.54" width="2.06" height="1.38" fill="#e8f4e5"/>
<rect x="250.63" y="147.88" width="3.07" height="1.38" fill="#e8f4e5"/>
<rect x="238.54" y="150.54" width="3.07" height="1.38" fill="#e7d4e8"/>
<rect x="238.54" y="151.88" width="4.08" height="1.38" fill="#d9f0d3"/>
<rect x="250.63" y="151.88" width="5.09" height="1.38" fill="#e7d4e8"/>
<rect x="256.67" y="151.88" width="1.06" height="1.38" fill="#d9f0d3"/>
<rect x="257.68" y="151.88" width="2.06" height="1.38" fill="#e8f4e5"/>
<rect x="259.69" y="151.88" width="1.06" height="1.38" fill="#d9f0d3"/>
<rect x="247.60" y="154.54" width="1.06" height="1.38" fill="#d4bcdc"/>
<rect x="248.61" y="154.54" width="1.06" height="1.38" fill="#9c68a9"/>
<rect x="249.62" y="154.54" width="1.06" height="1.38" fill="#762a83"/>
<rect x="250.63" y="154.54" width="2.06" height="1.38" fill="#d4bcdc"/>
<rect x="254.66" y="154.54" width="2.06" height="1.38" fill="#e7d4e8"/>
<rect x="256.67" y="154.54" width="2.06" height="1.38" fill="#efe6f0"/>
<rect x="254.66" y="155.88" width="2.06" height="1.38" fill="#d9f0d3"/>
<rect x="259.69" y="155.88" width="1.06" height="1.38" fill="#e7d4e8"/>
<rect x="247.60" y="157.21" width="5.09" height="1.38" fill="#e7d4e8"/>
<rect x="259.69" y="158.55" width="1.06" height="1.38" fill="#d4bcdc"/>
<rect x="236.52" y="159.88" width="2.06" height="1.38" fill="#d9f0d3"/>
<rect x="244.58" y="159.88" width="3.07" height="1.38" fill="#c2a5cf"/>
<rect x="233.50" y="161.21" width="4.08" height="1.38" fill="#d9f0d3"/>
<rect x="253.65" y="162.55" width="1.06" height="1.38" fill="#efe6f0"/>
<rect x="254.66" y="162.55" width="1.06" height="1.38" fill="#e7d4e8"/>
<rect x="240.55" y="163.88" width="3.07" height="1.38" fill="#e7d4e8"/>
<rect x="255.66" y="163.88" width="1.06" height="1.38" fill="#e7d4e8"/>
<rect x="256.67" y="163.88" width="1.06" height="1.38" fill="#d4bcdc"/>
<rect x="238.54" y="165.21" width="5.09" height="1.38" fill="#e8f4e5"/>
<rect x="245.59" y="165.21" width="1.06" height="1.38" fill="#d4bcdc"/>
<rect x="242.57" y="166.55" width="1.06" height="1.38" fill="#e8f4e5"/>
<rect x="243.57" y="166.55" width="1.06" height="1.38" fill="#d4bcdc"/>
<rect x="244.58" y="166.55" width="1.06" height="1.38" fill="#e7d4e8"/>
<rect x="245.59" y="166.55" width="1.06" height="1.38" fill="#d4bcdc"/>
<rect x="246.60" y="166.55" width="1.06" height="1.38" fill="#e8f4e5"/>
<rect x="248.61" y="166.55" width="1.06" height="1.38" fill="#e8f4e5"/>
<rect x="246.60" y="167.88" width="1.06" height="1.38" fill="#9c68a9"/>
<rect x="247.60" y="167.88" width="1.06" height="1.38" fill="#d4bcdc"/>
<rect x="250.63" y="167.88" width="2.06" height="1.38" fill="#e7d4e8"/>
<rect x="241.56" y="169.22" width="1.06" height="1.38" fill="#d9f0d3"/>
<rect x="242.57" y="169.22" width="1.06" height="1.38" fill="#e8f4e5"/>
<rect x="243.57" y="169.22" width="1.06" height="1.38" fill="#d9f0d3"/>
<rect x="259.69" y="170.55" width="1.06" height="1.38" fill="#d9f0d3"/>
<rect x="240.55" y="171.88" width="2.06" height="1.38" fill="#e7d4e8"/>
<rect x="244.58" y="171.88" width="4.08" height="1.38" fill="#e7d4e8"/>
<rect x="244.58" y="173.22" width="1.06" height="1.38" fill="#e7d4e8"/>
<rect x="245.59" y="173.22" width="4.08" height="1.38" fill="#d4bcdc"/>
<rect x="255.66" y="173.22" width="1.06" height="1.38" fill="#e7d4e8"/>
<rect x="235.51" y="174.55" width="3.07" height="1.38" fill="#d9f0d3"/>
<rect x="233.50" y="175.88" width="4.08" height="1.38" fill="#d9f0d3"/>
<rect x="239.54" y="175.88" width="5.09" height="1.38" fill="#e7d4e8"/>
<rect x="236.52" y="177.22" width="4.08" height="1.38" fill="#d9f0d3"/>
<rect x="251.63" y="177.22" width="3.07" height="1.38" fill="#d9f0d3"/>
<rect x="234.51" y="178.55" width="3.07" height="1.38" fill="#e7d4e8"/>
<rect x="238.54" y="178.55" width="1.06" height="1.38" fill="#e8f4e5"/>
<rect x="239.54" y="178.55" width="1.06" height="1.38" fill="#d9f0d3"/>
<rect x="240.55" y="178.55" width="1.06" height="1.38" fill="#e8f4e5"/>
<rect x="247.60" y="179.88" width="2.06" height="1.38" fill="#d4bcdc"/>
<rect x="249.62" y="179.88" width="1.06" height="1.38" fill="#e7d4e8"/>
<rect x="233.50" y="181.22" width="4.08" height="1.38" fill="#d9f0d3"/>
<rect x="235.51" y="182.55" width="3.07" height="1.38" fill="#d9f0d3"/>
<rect x="256.67" y="182.55" width="2.06" height="1.38" fill="#d4bcdc"/>
<rect x="239.54" y="183.89" width="2.06" height="1.38" fill="#e8f4e5"/>
<rect x="241.56" y="183.89" width="1.06" height="1.38" fill="#d9f0d3"/>
<rect x="242.57" y="183.89" width="2.06" height="1.38" fill="#e8f4e5"/>
<rect x="251.63" y="183.89" width="1.06" height="1.38" fill="#d4bcdc"/>
<rect x="252.64" y="183.89" width="1.06" height="1.38" fill="#e7d4e8"/>
<rect x="250.63" y="185.22" width="1.06" height="1.38" fill="#d9f0d3"/>
<rect x="251.63" y="185.22" width="3.07" height="1.38" fill="#e8f4e5"/>
<rect x="254.66" y="185.22" width="1.06" height="1.38" fill="#d9f0d3"/>
<rect x="249.62" y="186.55" width="2.06" height="1.38" fill="#d4bcdc"/>
<rect x="251.63" y="186.55" width="1.06" height="1.38" fill="#e7d4e8"/>
<rect x="252.64" y="186.55" width="2.06" height="1.38" fill="#d4bcdc"/>
<rect x="259.69" y="186.55" width="1.06" height="1.38" fill="#e7d4e8"/>
<rect x="241.56" y="187.89" width="4.08" height="1.38" fill="#d4bcdc"/>
<rect x="259.69" y="187.89" width="1.06" height="1.38" fill="#d9f0d3"/>
<rect x="239.54" y="189.22" width="1.06" height="1.38" fill="#e7d4e8"/>
<rect x="252.64" y="189.22" width="5.09" height="1.38" fill="#d9f0d3"/>
<rect x="236.52" y="190.56" width="2.06" height="1.38" fill="#d9f0d3"/>
<rect x="243.57" y="190.56" width="1.06" height="1.38" fill="#e7d4e8"/>
<rect x="244.58" y="190.56" width="1.06" height="1.38" fill="#efe6f0"/>
<rect x="234.51" y="191.89" width="5.09" height="1.38" fill="#e7d4e8"/>
<rect x="258.69" y="191.89" width="2.06" height="1.38" fill="#e7d4e8"/>
<rect x="249.62" y="194.56" width="4.08" height="1.38" fill="#e8f4e5"/>
<rect x="234.51" y="195.89" width="2.06" height="1.38" fill="#e8f4e5"/>
<rect x="245.59" y="195.89" width="3.07" height="1.38" fill="#d9f0d3"/>
<rect x="249.62" y="195.89" width="4.08" height="1.38" fill="#e7d4e8"/>
<rect x="259.69" y="195.89" width="1.06" height="1.38" fill="#e7d4e8"/>
<rect x="236.52" y="197.22" width="3.07" height="1.38" fill="#e7d4e8"/>
<rect x="253.65" y="197.22" width="3.07" height="1.38" fill="#d4bcdc"/>
<rect x="244.58" y="199.89" width="4.08" height="1.38" fill="#d9f0d3"/>
<rect x="245.59" y="201.23" width="2.06" height="1.38" fill="#e8f4e5"/>
<rect x="251.63" y="201.23" width="2.06" height="1.38" fill="#e7d4e8"/>
<rect x="258.69" y="201.23" width="2.06" height="1.38" fill="#d4bcdc"/>
<rect x="251.63" y="202.56" width="1.06" height="1.38" fill="#efe6f0"/>
<rect x="252.64" y="202.56" width="2.06" height="1.38" fill="#e7d4e8"/>
<rect x="233.50" y="203.89" width="2.06" height="1.38" fill="#e7d4e8"/>
<rect x="248.61" y="206.56" width="1.06" height="1.38" fill="#d9f0d3"/>
<rect x="249.62" y="206.56" width="2.06" height="1.38" fill="#e8f4e5"/>
<rect x="237.53" y="207.89" width="2.06" height="1.38" fill="#e8f4e5"/>
<rect x="254.66" y="207.89" width="2.06" height="1.38" fill="#e7d4e8"/>
<rect x="257.68" y="207.89" width="1.06" height="1.38" fill="#e7d4e8"/>
<rect x="258.69" y="207.89" width="2.06" height="1.38" fill="#efe6f0"/>
<rect x="259.69" y="210.56" width="1.06" height="1.38" fill="#d4bcdc"/>
<rect x="243.57" y="211.89" width="1.06" height="1.38" fill="#d4bcdc"/>
<rect x="244.58" y="211.89" width="1.06" height="1.38" fill="#e7d4e8"/>
<rect x="245.59" y="211.89" width="2.06" height="1.38" fill="#d4bcdc"/>
<rect x="249.62" y="211.89" width="2.06" height="1.38" fill="#e8f4e5"/>
<rect x="251.63" y="211.89" width="1.06" height="1.38" fill="#d9f0d3"/>
<rect x="253.65" y="211.89" width="1.06" height="1.38" fill="#d9f0d3"/>
<rect x="254.66" y="211.89" width="1.06" height="1.38" fill="#e8f4e5"/>
<rect x="235.51" y="213.23" width="3.07" height="1.38" fill="#d9f0d3"/>
<rect x="243.57" y="214.56" width="3.07" height="1.38" fill="#d9f0d3"/>
<rect x="248.61" y="215.90" width="3.07" height="1.38" fill="#e7d4e8"/>
<rect x="251.63" y="215.90" width="1.06" height="1.38" fill="#efe6f0"/>
<rect x="252.64" y="215.90" width="1.06" height="1.38" fill="#e7d4e8"/>
<rect x="247.60" y="217.23" width="1.06" height="1.38" fill="#efe6f0"/>
<rect x="248.61" y="217.23" width="4.08" height="1.38" fill="#e7d4e8"/>
<rect x="258.69" y="217.23" width="2.06" height="1.38" fill="#d9f0d3"/>
<rect x="234.51" y="219.90" width="3.07" height="1.38" fill="#d9f0d3"/>
<rect x="252.64" y="219.90" width="3.07" height="1.38" fill="#e7d4e8"/>
<rect x="257.68" y="219.90" width="2.06" height="1.38" fill="#d9f0d3"/>
<rect x="235.51" y="221.23" width="5.09" height="1.38" fill="#e7d4e8"/>
<rect x="252.64" y="221.23" width="1.06" height="1.38" fill="#e7d4e8"/>
<rect x="253.65" y="221.23" width="1.06" height="1.38" fill="#efe6f0"/>
<rect x="254.66" y="221.23" width="1.06" height="1.38" fill="#e7d4e8"/>
<rect x="255.66" y="221.23" width="1.06" height="1.38" fill="#efe6f0"/>
<rect x="253.65" y="222.56" width="1.06" height="1.38" fill="#d9f0d3"/>
<rect x="254.66" y="222.56" width="1.06" height="1.38" fill="#e8f4e5"/>
<rect x="255.66" y="222.56" width="1.06" height="1.38" fill="#d9f0d3"/>
<rect x="255.66" y="223.90" width="4.08" height="1.38" fill="#e8f4e5"/>
<rect x="259.69" y="223.90" width="1.06" height="1.38" fill="#d9f0d3"/>
<rect x="234.51" y="225.23" width="4.08" height="1.38" fill="#e8f4e5"/>
<rect x="245.59" y="226.57" width="4.08" height="1.38" fill="#d9f0d3"/>
<rect x="256.67" y="226.57" width="3.07" height="1.38" fill="#e8f4e5"/>
<rect x="265.20" y="121.20" width="27.60" height="106.70" fill="#f8f4f7" stroke="none" stroke-width="0.8"/>
<rect x="265.20" y="121.20" width="1.07" height="1.38" fill="#d9f0d3"/>
<rect x="266.22" y="121.20" width="1.07" height="1.38" fill="#c0e6ba"/>
<rect x="267.24" y="121.20" width="1.07" height="1.38" fill="#d9f0d3"/>
<rect x="268.27" y="121.20" width="1.07" height="1.38" fill="#c0e6ba"/>
<rect x="269.29" y="121.20" width="2.09" height="1.38" fill="#d9f0d3"/>
<rect x="272.36" y="121.20" width="4.14" height="1.38" fill="#d9f0d3"/>
<rect x="278.49" y="121.20" width="5.16" height="1.38" fill="#d9f0d3"/>
<rect x="283.60" y="121.20" width="5.16" height="1.38" fill="#e7d4e8"/>
<rect x="270.31" y="122.53" width="5.16" height="1.38" fill="#d9f0d3"/>
<rect x="279.51" y="122.53" width="1.07" height="1.38" fill="#d9f0d3"/>
<rect x="280.53" y="122.53" width="2.09" height="1.38" fill="#c0e6ba"/>
<rect x="282.58" y="122.53" width="1.07" height="1.38" fill="#d9f0d3"/>
<rect x="286.67" y="122.53" width="1.07" height="1.38" fill="#e8f4e5"/>
<rect x="265.20" y="123.87" width="1.07" height="1.38" fill="#d9f0d3"/>
<rect x="266.22" y="123.87" width="1.07" height="1.38" fill="#e8f4e5"/>
<rect x="267.24" y="123.87" width="3.12" height="1.38" fill="#d9f0d3"/>
<rect x="270.31" y="123.87" width="1.07" height="1.38" fill="#a6dba0"/>
<rect x="271.33" y="123.87" width="3.12" height="1.38" fill="#d9f0d3"/>
<rect x="279.51" y="123.87" width="1.07" height="1.38" fill="#d9f0d3"/>
<rect x="280.53" y="123.87" width="1.07" height="1.38" fill="#c0e6ba"/>
<rect x="286.67" y="123.87" width="3.12" height="1.38" fill="#e7d4e8"/>
<rect x="290.76" y="123.87" width="1.07" height="1.38" fill="#d9f0d3"/>
<rect x="291.78" y="123.87" width="1.07" height="1.38" fill="#e8f4e5"/>
<rect x="266.22" y="125.20" width="1.07" height="1.38" fill="#e8f4e5"/>
<rect x="267.24" y="125.20" width="1.07" height="1.38" fill="#d9f0d3"/>
<rect x="268.27" y="125.20" width="1.07" height="1.38" fill="#e8f4e5"/>
<rect x="270.31" y="125.20" width="1.07" height="1.38" fill="#d9f0d3"/>
<rect x="274.40" y="125.20" width="7.21" height="1.38" fill="#1b7837"/>
<rect x="281.56" y="125.20" width="1.07" height="1.38" fill="#e8f4e5"/>
<rect x="283.60" y="125.20" width="2.09" height="1.38" fill="#e7d4e8"/>
<rect x="287.69" y="125.20" width="4.14" height="1.38" fill="#d9f0d3"/>
<rect x="266.22" y="126.53" width="1.07" height="1.38" fill="#d9f0d3"/>
<rect x="267.24" y="126.53" width="1.07" height="1.38" fill="#e8f4e5"/>
<rect x="268.27" y="126.53" width="2.09" height="1.38" fill="#d9f0d3"/>
<rect x="271.33" y="126.53" width="2.09" height="1.38" fill="#d9f0d3"/>
<rect x="276.44" y="126.53" width="2.09" height="1.38" fill="#d9f0d3"/>
<rect x="271.33" y="127.87" width="1.07" height="1.38" fill="#e8f4e5"/>
<rect x="272.36" y="127.87" width="4.14" height="1.38" fill="#d9f0d3"/>
<rect x="277.47" y="127.87" width="1.07" height="1.38" fill="#e7d4e8"/>
<rect x="279.51" y="127.87" width="3.12" height="1.38" fill="#e7d4e8"/>
<rect x="284.62" y="127.87" width="2.09" height="1.38" fill="#c0e6ba"/>
<rect x="286.67" y="127.87" width="2.09" height="1.38" fill="#e8f4e5"/>
<rect x="276.44" y="129.20" width="1.07" height="1.38" fill="#d9f0d3"/>
<rect x="268.27" y="130.54" width="1.07" height="1.38" fill="#d9f0d3"/>
<rect x="269.29" y="130.54" width="2.09" height="1.38" fill="#a6dba0"/>
<rect x="271.33" y="130.54" width="1.07" height="1.38" fill="#d9f0d3"/>
<rect x="272.36" y="130.54" width="1.07" height="1.38" fill="#c0e6ba"/>
<rect x="280.53" y="130.54" width="2.09" height="1.38" fill="#d9f0d3"/>
<rect x="282.58" y="130.54" width="1.07" height="1.38" fill="#e8f4e5"/>
<rect x="283.60" y="130.54" width="3.12" height="1.38" fill="#d9f0d3"/>
<rect x="291.78" y="130.54" width="1.07" height="1.38" fill="#e8f4e5"/>
<rect x="269.29" y="131.87" width="1.07" height="1.38" fill="#e8f4e5"/>
<rect x="270.31" y="131.87" width="1.07" height="1.38" fill="#c0e6ba"/>
<rect x="271.33" y="131.87" width="1.07" height="1.38" fill="#e8f4e5"/>
<rect x="272.36" y="131.87" width="1.07" height="1.38" fill="#d9f0d3"/>
<rect x="273.38" y="131.87" width="1.07" height="1.38" fill="#c2a5cf"/>
<rect x="274.40" y="131.87" width="1.07" height="1.38" fill="#762a83"/>
<rect x="283.60" y="131.87" width="2.09" height="1.38" fill="#d9f0d3"/>
<rect x="290.76" y="131.87" width="1.07" height="1.38" fill="#e8f4e5"/>
<rect x="291.78" y="131.87" width="1.07" height="1.38" fill="#d9f0d3"/>
<rect x="274.40" y="133.20" width="6.18" height="1.38" fill="#d9f0d3"/>
<rect x="281.56" y="133.20" width="1.07" height="1.38" fill="#e7d4e8"/>
<rect x="284.62" y="133.20" width="2.09" height="1.38" fill="#e7d4e8"/>
<rect x="287.69" y="133.20" width="4.14" height="1.38" fill="#d9f0d3"/>
<rect x="265.20" y="134.54" width="5.16" height="1.38" fill="#d9f0d3"/>
<rect x="273.38" y="134.54" width="1.07" height="1.38" fill="#d9f0d3"/>
<rect x="274.40" y="134.54" width="1.07" height="1.38" fill="#e8f4e5"/>
<rect x="279.51" y="134.54" width="6.18" height="1.38" fill="#d9f0d3"/>
<rect x="288.71" y="134.54" width="1.07" height="1.38" fill="#d9f0d3"/>
<rect x="265.20" y="135.87" width="3.12" height="1.38" fill="#d9f0d3"/>
<rect x="284.62" y="135.87" width="1.07" height="1.38" fill="#d9f0d3"/>
<rect x="285.64" y="135.87" width="4.14" height="1.38" fill="#e8f4e5"/>
<rect x="268.27" y="137.21" width="1.07" height="1.38" fill="#e8f4e5"/>
<rect x="270.31" y="138.54" width="4.14" height="1.38" fill="#d9f0d3"/>
<rect x="274.40" y="138.54" width="1.07" height="1.38" fill="#e8f4e5"/>
<rect x="290.76" y="138.54" width="2.09" height="1.38" fill="#e8f4e5"/>
<rect x="278.49" y="139.87" width="6.18" height="1.38" fill="#e7d4e8"/>
<rect x="287.69" y="139.87" width="1.07" height="1.38" fill="#d9f0d3"/>
<rect x="288.71" y="141.21" width="2.09" height="1.38" fill="#d9f0d3"/>
<rect x="290.76" y="141.21" width="2.09" height="1.38" fill="#e8f4e5"/>
<rect x="268.27" y="142.54" width="1.07" height="1.38" fill="#e7d4e8"/>
<rect x="279.51" y="142.54" width="4.14" height="1.38" fill="#e8f4e5"/>
<rect x="286.67" y="142.54" width="1.07" height="1.38" fill="#d9f0d3"/>
<rect x="287.69" y="142.54" width="1.07" height="1.38" fill="#e8f4e5"/>
<rect x="288.71" y="142.54" width="2.09" height="1.38" fill="#d9f0d3"/>
<rect x="278.49" y="143.87" width="4.14" height="1.38" fill="#e7d4e8"/>
<rect x="290.76" y="143.87" width="2.09" height="1.38" fill="#d9f0d3"/>
<rect x="272.36" y="145.21" width="3.12" height="1.38" fill="#d9f0d3"/>
<rect x="276.44" y="145.21" width="1.07" height="1.38" fill="#e7d4e8"/>
<rect x="288.71" y="145.21" width="1.07" height="1.38" fill="#d9f0d3"/>
<rect x="289.73" y="145.21" width="2.09" height="1.38" fill="#e8f4e5"/>
<rect x="268.27" y="146.54" width="3.12" height="1.38" fill="#d9f0d3"/>
<rect x="274.40" y="146.54" width="9.25" height="1.38" fill="#e7d4e8"/>
<rect x="289.73" y="146.54" width="1.07" height="1.38" fill="#d9f0d3"/>
<rect x="290.76" y="146.54" width="2.09" height="1.38" fill="#e8f4e5"/>
<rect x="274.40" y="147.88" width="9.25" height="1.38" fill="#c2a5cf"/>
<rect x="268.27" y="149.21" width="4.14" height="1.38" fill="#e7d4e8"/>
<rect x="274.40" y="149.21" width="1.07" height="1.38" fill="#40004b"/>
<rect x="275.42" y="149.21" width="1.07" height="1.38" fill="#5b1567"/>
<rect x="276.44" y="149.21" width="1.07" height="1.38" fill="#40004b"/>
<rect x="277.47" y="149.21" width="1.07" height="1.38" fill="#d4bcdc"/>
<rect x="278.49" y="149.21" width="5.16" height="1.38" fill="#40004b"/>
<rect x="270.31" y="150.54" width="1.07" height="1.38" fill="#d9f0d3"/>
<rect x="274.40" y="150.54" width="2.09" height="1.38" fill="#40004b"/>
<rect x="276.44" y="150.54" width="1.07" height="1.38" fill="#d4bcdc"/>
<rect x="277.47" y="150.54" width="1.07" height="1.38" fill="#40004b"/>
<rect x="278.49" y="150.54" width="1.07" height="1.38" fill="#e7d4e8"/>
<rect x="279.51" y="150.54" width="3.12" height="1.38" fill="#40004b"/>
<rect x="282.58" y="150.54" width="1.07" height="1.38" fill="#c2a5cf"/>
<rect x="283.60" y="150.54" width="1.07" height="1.38" fill="#e7d4e8"/>
<rect x="266.22" y="151.88" width="1.07" height="1.38" fill="#e8f4e5"/>
<rect x="267.24" y="151.88" width="1.07" height="1.38" fill="#d9f0d3"/>
<rect x="268.27" y="151.88" width="1.07" height="1.38" fill="#e8f4e5"/>
<rect x="274.40" y="151.88" width="4.14" height="1.38" fill="#d4bcdc"/>
<rect x="278.49" y="151.88" width="1.07" height="1.38" fill="#c2a5cf"/>
<rect x="279.51" y="151.88" width="1.07" height="1.38" fill="#d4bcdc"/>
<rect x="280.53" y="151.88" width="2.09" height="1.38" fill="#9c68a9"/>
<rect x="282.58" y="151.88" width="1.07" height="1.38" fill="#762a83"/>
<rect x="283.60" y="151.88" width="1.07" height="1.38" fill="#e7d4e8"/>
<rect x="287.69" y="151.88" width="2.09" height="1.38" fill="#e8f4e5"/>
<rect x="289.73" y="151.88" width="1.07" height="1.38" fill="#d9f0d3"/>
<rect x="290.76" y="151.88" width="2.09" height="1.38" fill="#e8f4e5"/>
<rect x="272.36" y="153.21" width="1.07" height="1.38" fill="#e7d4e8"/>
<rect x="274.40" y="153.21" width="1.07" height="1.38" fill="#e7d4e8"/>
<rect x="275.42" y="153.21" width="1.07" height="1.38" fill="#40004b"/>
<rect x="276.44" y="153.21" width="2.09" height="1.38" fill="#e7d4e8"/>
<rect x="278.49" y="153.21" width="5.16" height="1.38" fill="#40004b"/>
<rect x="283.60" y="153.21" width="1.07" height="1.38" fill="#d9f0d3"/>
<rect x="272.36" y="154.54" width="1.07" height="1.38" fill="#d9f0d3"/>
<rect x="273.38" y="154.54" width="1.07" height="1.38" fill="#e8f4e5"/>
<rect x="274.40" y="154.54" width="1.07" height="1.38" fill="#9c68a9"/>
<rect x="275.42" y="154.54" width="1.07" height="1.38" fill="#c2a5cf"/>
<rect x="276.44" y="154.54" width="1.07" height="1.38" fill="#e7d4e8"/>
<rect x="277.47" y="154.54" width="1.07" height="1.38" fill="#d4bcdc"/>
<rect x="278.49" y="154.54" width="3.12" height="1.38" fill="#9c68a9"/>
<rect x="281.56" y="154.54" width="1.07" height="1.38" fill="#c2a5cf"/>
<rect x="282.58" y="154.54" width="1.07" height="1.38" fill="#e7d4e8"/>
<rect x="283.60" y="154.54" width="1.07" height="1.38" fill="#a6dba0"/>
<rect x="284.62" y="154.54" width="3.12" height="1.38" fill="#c0e6ba"/>
<rect x="287.69" y="154.54" width="1.07" height="1.38" fill="#60aa6c"/>
<rect x="274.40" y="155.88" width="4.14" height="1.38" fill="#40004b"/>
<rect x="278.49" y="155.88" width="2.09" height="1.38" fill="#5b1567"/>
<rect x="280.53" y="155.88" width="1.07" height="1.38" fill="#d4bcdc"/>
<rect x="281.56" y="155.88" width="2.09" height="1.38" fill="#5b1567"/>
<rect x="265.20" y="157.21" width="1.07" height="1.38" fill="#e8f4e5"/>
<rect x="273.38" y="157.21" width="1.07" height="1.38" fill="#d9f0d3"/>
<rect x="274.40" y="157.21" width="2.09" height="1.38" fill="#40004b"/>
<rect x="276.44" y="157.21" width="1.07" height="1.38" fill="#e7d4e8"/>
<rect x="277.47" y="157.21" width="2.09" height="1.38" fill="#40004b"/>
<rect x="280.53" y="157.21" width="1.07" height="1.38" fill="#5b1567"/>
<rect x="281.56" y="157.21" width="1.07" height="1.38" fill="#efe6f0"/>
<rect x="282.58" y="157.21" width="1.07" height="1.38" fill="#762a83"/>
<rect x="283.60" y="157.21" width="1.07" height="1.38" fill="#d9f0d3"/>
<rect x="285.64" y="157.21" width="4.14" height="1.38" fill="#d9f0d3"/>
<rect x="274.40" y="158.55" width="1.07" height="1.38" fill="#762a83"/>
<rect x="275.42" y="158.55" width="1.07" height="1.38" fill="#5b1567"/>
<rect x="276.44" y="158.55" width="6.18" height="1.38" fill="#40004b"/>
<rect x="282.58" y="158.55" width="1.07" height="1.38" fill="#762a83"/>
<rect x="274.40" y="159.88" width="1.07" height="1.38" fill="#d4bcdc"/>
<rect x="275.42" y="159.88" width="1.07" height="1.38" fill="#c2a5cf"/>
<rect x="276.44" y="159.88" width="1.07" height="1.38" fill="#d4bcdc"/>
<rect x="277.47" y="159.88" width="2.09" height="1.38" fill="#9c68a9"/>
<rect x="279.51" y="159.88" width="1.07" height="1.38" fill="#c2a5cf"/>
<rect x="280.53" y="159.88" width="3.12" height="1.38" fill="#d4bcdc"/>
<rect x="283.60" y="159.88" width="1.07" height="1.38" fill="#60aa6c"/>
<rect x="284.62" y="159.88" width="1.07" height="1.38" fill="#a6dba0"/>
<rect x="274.40" y="161.21" width="3.12" height="1.38" fill="#40004b"/>
<rect x="277.47" y="161.21" width="1.07" height="1.38" fill="#5b1567"/>
<rect x="278.49" y="161.21" width="1.07" height="1.38" fill="#40004b"/>
<rect x="279.51" y="161.21" width="2.09" height="1.38" fill="#762a83"/>
<rect x="281.56" y="161.21" width="2.09" height="1.38" fill="#40004b"/>
<rect x="283.60" y="161.21" width="2.09" height="1.38" fill="#c0e6ba"/>
<rect x="274.40" y="162.55" width="3.12" height="1.38" fill="#40004b"/>
<rect x="277.47" y="162.55" width="1.07" height="1.38" fill="#efe6f0"/>
<rect x="278.49" y="162.55" width="1.07" height="1.38" fill="#5b1567"/>
<rect x="279.51" y="162.55" width="3.12" height="1.38" fill="#40004b"/>
<rect x="282.58" y="162.55" width="1.07" height="1.38" fill="#5b1567"/>
<rect x="283.60" y="162.55" width="1.07" height="1.38" fill="#60aa6c"/>
<rect x="284.62" y="162.55" width="1.07" height="1.38" fill="#a6dba0"/>
<rect x="285.64" y="162.55" width="1.07" height="1.38" fill="#c0e6ba"/>
<rect x="286.67" y="162.55" width="1.07" height="1.38" fill="#a6dba0"/>
<rect x="287.69" y="162.55" width="1.07" height="1.38" fill="#c0e6ba"/>
<rect x="266.22" y="163.88" width="4.14" height="1.38" fill="#e8f4e5"/>
<rect x="271.33" y="163.88" width="2.09" height="1.38" fill="#d9f0d3"/>
<rect x="274.40" y="163.88" width="2.09" height="1.38" fill="#762a83"/>
<rect x="276.44" y="163.88" width="3.12" height="1.38" fill="#5b1567"/>
<rect x="279.51" y="163.88" width="1.07" height="1.38" fill="#9c68a9"/>
<rect x="280.53" y="163.88" width="1.07" height="1.38" fill="#d4bcdc"/>
<rect x="281.56" y="163.88" width="2.09" height="1.38" fill="#9c68a9"/>
<rect x="283.60" y="163.88" width="3.12" height="1.38" fill="#d9f0d3"/>
<rect x="290.76" y="163.88" width="2.09" height="1.38" fill="#e7d4e8"/>
<rect x="274.40" y="165.21" width="9.25" height="1.38" fill="#40004b"/>
<rect x="274.40" y="166.55" width="4.14" height="1.38" fill="#5b1567"/>
<rect x="278.49" y="166.55" width="3.12" height="1.38" fill="#40004b"/>
<rect x="281.56" y="166.55" width="1.07" height="1.38" fill="#5b1567"/>
<rect x="282.58" y="166.55" width="1.07" height="1.38" fill="#40004b"/>
<rect x="270.31" y="167.88" width="4.14" height="1.38" fill="#d9f0d3"/>
<rect x="274.40" y="167.88" width="8.23" height="1.38" fill="#40004b"/>
<rect x="282.58" y="167.88" width="1.07" height="1.38" fill="#5b1567"/>
<rect x="283.60" y="167.88" width="1.07" height="1.38" fill="#d9f0d3"/>
<rect x="284.62" y="167.88" width="2.09" height="1.38" fill="#e8f4e5"/>
<rect x="290.76" y="167.88" width="2.09" height="1.38" fill="#e8f4e5"/>
<rect x="269.29" y="169.22" width="1.07" height="1.38" fill="#e7d4e8"/>
<rect x="274.40" y="169.22" width="1.07" height="1.38" fill="#762a83"/>
<rect x="275.42" y="169.22" width="1.07" height="1.38" fill="#9c68a9"/>
<rect x="276.44" y="169.22" width="2.09" height="1.38" fill="#762a83"/>
<rect x="278.49" y="169.22" width="1.07" height="1.38" fill="#9c68a9"/>
<rect x="279.51" y="169.22" width="1.07" height="1.38" fill="#5b1567"/>
<rect x="280.53" y="169.22" width="1.07" height="1.38" fill="#762a83"/>
<rect x="281.56" y="169.22" width="1.07" height="1.38" fill="#5b1567"/>
<rect x="282.58" y="169.22" width="1.07" height="1.38" fill="#e7d4e8"/>
<rect x="274.40" y="170.55" width="1.07" height="1.38" fill="#40004b"/>
<rect x="275.42" y="170.55" width="2.09" height="1.38" fill="#5b1567"/>
<rect x="277.47" y="170.55" width="1.07" height="1.38" fill="#762a83"/>
<rect x="278.49" y="170.55" width="1.07" height="1.38" fill="#5b1567"/>
<rect x="279.51" y="170.55" width="2.09" height="1.38" fill="#40004b"/>
<rect x="281.56" y="170.55" width="1.07" height="1.38" fill="#5b1567"/>
<rect x="282.58" y="170.55" width="1.07" height="1.38" fill="#9c68a9"/>
<rect x="283.60" y="170.55" width="3.12" height="1.38" fill="#d9f0d3"/>
<rect x="274.40" y="171.88" width="1.07" height="1.38" fill="#40004b"/>
<rect x="275.42" y="171.88" width="1.07" height="1.38" fill="#5b1567"/>
<rect x="276.44" y="171.88" width="1.07" height="1.38" fill="#40004b"/>
<rect x="277.47" y="171.88" width="2.09" height="1.38" fill="#762a83"/>
<rect x="279.51" y="171.88" width="1.07" height="1.38" fill="#d4bcdc"/>
<rect x="280.53" y="171.88" width="1.07" height="1.38" fill="#762a83"/>
<rect x="281.56" y="171.88" width="1.07" height="1.38" fill="#9c68a9"/>
<rect x="282.58" y="171.88" width="1.07" height="1.38" fill="#762a83"/>
<rect x="283.60" y="171.88" width="2.09" height="1.38" fill="#d9f0d3"/>
<rect x="287.69" y="171.88" width="2.09" height="1.38" fill="#e7d4e8"/>
<rect x="269.29" y="173.22" width="2.09" height="1.38" fill="#d9f0d3"/>
<rect x="274.40" y="173.22" width="9.25" height="1.38" fill="#40004b"/>
<rect x="283.60" y="173.22" width="1.07" height="1.38" fill="#a6dba0"/>
<rect x="284.62" y="173.22" width="1.07" height="1.38" fill="#60aa6c"/>
<rect x="285.64" y="173.22" width="4.14" height="1.38" fill="#c0e6ba"/>
<rect x="274.40" y="174.55" width="1.07" height="1.38" fill="#e7d4e8"/>
<rect x="275.42" y="174.55" width="1.07" height="1.38" fill="#40004b"/>
<rect x="276.44" y="174.55" width="1.07" height="1.38" fill="#5b1567"/>
<rect x="277.47" y="174.55" width="2.09" height="1.38" fill="#40004b"/>
<rect x="279.51" y="174.55" width="2.09" height="1.38" fill="#5b1567"/>
<rect x="281.56" y="174.55" width="2.09" height="1.38" fill="#40004b"/>
<rect x="283.60" y="174.55" width="3.12" height="1.38" fill="#c0e6ba"/>
<rect x="286.67" y="174.55" width="1.07" height="1.38" fill="#a6dba0"/>
<rect x="289.73" y="174.55" width="3.12" height="1.38" fill="#e8f4e5"/>
<rect x="266.22" y="175.88" width="6.18" height="1.38" fill="#d9f0d3"/>
<rect x="274.40" y="175.88" width="1.07" height="1.38" fill="#d4bcdc"/>
<rect x="275.42" y="175.88" width="4.14" height="1.38" fill="#40004b"/>
<rect x="279.51" y="175.88" width="1.07" height="1.38" fill="#5b1567"/>
<rect x="280.53" y="175.88" width="1.07" height="1.38" fill="#40004b"/>
<rect x="281.56" y="175.88" width="2.09" height="1.38" fill="#5b1567"/>
<rect x="265.20" y="177.22" width="2.09" height="1.38" fill="#d9f0d3"/>
<rect x="267.24" y="177.22" width="1.07" height="1.38" fill="#e8f4e5"/>
<rect x="268.27" y="177.22" width="2.09" height="1.38" fill="#d9f0d3"/>
<rect x="274.40" y="177.22" width="1.07" height="1.38" fill="#efe6f0"/>
<rect x="275.42" y="177.22" width="1.07" height="1.38" fill="#5b1567"/>
<rect x="276.44" y="177.22" width="2.09" height="1.38" fill="#40004b"/>
<rect x="278.49" y="177.22" width="1.07" height="1.38" fill="#5b1567"/>
<rect x="279.51" y="177.22" width="4.14" height="1.38" fill="#40004b"/>
<rect x="283.60" y="177.22" width="4.14" height="1.38" fill="#e7d4e8"/>
<rect x="274.40" y="178.55" width="1.07" height="1.38" fill="#762a83"/>
<rect x="275.42" y="178.55" width="1.07" height="1.38" fill="#e7d4e8"/>
<rect x="276.44" y="178.55" width="5.16" height="1.38" fill="#762a83"/>
<rect x="281.56" y="178.55" width="1.07" height="1.38" fill="#5b1567"/>
<rect x="282.58" y="178.55" width="1.07" height="1.38" fill="#762a83"/>
<rect x="269.29" y="179.88" width="5.16" height="1.38" fill="#d9f0d3"/>
<rect x="274.40" y="179.88" width="1.07" height="1.38" fill="#40004b"/>
<rect x="275.42" y="179.88" width="1.07" height="1.38" fill="#d4bcdc"/>
<rect x="276.44" y="179.88" width="3.12" height="1.38" fill="#40004b"/>
<rect x="279.51" y="179.88" width="1.07" height="1.38" fill="#c2a5cf"/>
<rect x="280.53" y="179.88" width="3.12" height="1.38" fill="#40004b"/>
<rect x="265.20" y="181.22" width="1.07" height="1.38" fill="#d9f0d3"/>
<rect x="266.22" y="181.22" width="1.07" height="1.38" fill="#e8f4e5"/>
<rect x="267.24" y="181.22" width="1.07" height="1.38" fill="#d9f0d3"/>
<rect x="274.40" y="181.22" width="1.07" height="1.38" fill="#40004b"/>
<rect x="275.42" y="181.22" width="2.09" height="1.38" fill="#5b1567"/>
<rect x="277.47" y="181.22" width="1.07" height="1.38" fill="#40004b"/>
<rect x="278.49" y="181.22" width="1.07" height="1.38" fill="#5b1567"/>
<rect x="279.51" y="181.22" width="1.07" height="1.38" fill="#40004b"/>
<rect x="280.53" y="181.22" width="1.07" height="1.38" fill="#5b1567"/>
<rect x="281.56" y="181.22" width="1.07" height="1.38" fill="#40004b"/>
<rect x="282.58" y="181.22" width="1.07" height="1.38" fill="#5b1567"/>
<rect x="291.78" y="181.22" width="1.07" height="1.38" fill="#e7d4e8"/>
<rect x="274.40" y="182.55" width="2.09" height="1.38" fill="#40004b"/>
<rect x="276.44" y="182.55" width="1.07" height="1.38" fill="#5b1567"/>
<rect x="277.47" y="182.55" width="2.09" height="1.38" fill="#40004b"/>
<rect x="279.51" y="182.55" width="1.07" height="1.38" fill="#5b1567"/>
<rect x="280.53" y="182.55" width="3.12" height="1.38" fill="#40004b"/>
<rect x="283.60" y="182.55" width="2.09" height="1.38" fill="#e7d4e8"/>
<rect x="268.27" y="183.89" width="3.12" height="1.38" fill="#e7d4e8"/>
<rect x="271.33" y="183.89" width="1.07" height="1.38" fill="#efe6f0"/>
<rect x="272.36" y="183.89" width="2.09" height="1.38" fill="#e7d4e8"/>
<rect x="274.40" y="183.89" width="6.18" height="1.38" fill="#40004b"/>
<rect x="280.53" y="183.89" width="1.07" height="1.38" fill="#e7d4e8"/>
<rect x="281.56" y="183.89" width="2.09" height="1.38" fill="#40004b"/>
<rect x="274.40" y="185.22" width="1.07" height="1.38" fill="#5b1567"/>
<rect x="275.42" y="185.22" width="1.07" height="1.38" fill="#762a83"/>
<rect x="276.44" y="185.22" width="1.07" height="1.38" fill="#9c68a9"/>
<rect x="277.47" y="185.22" width="3.12" height="1.38" fill="#c2a5cf"/>
<rect x="280.53" y="185.22" width="1.07" height="1.38" fill="#9c68a9"/>
<rect x="281.56" y="185.22" width="1.07" height="1.38" fill="#5b1567"/>
<rect x="282.58" y="185.22" width="1.07" height="1.38" fill="#762a83"/>
<rect x="270.31" y="186.55" width="2.09" height="1.38" fill="#d9f0d3"/>
<rect x="274.40" y="186.55" width="9.25" height="1.38" fill="#40004b"/>
<rect x="284.62" y="186.55" width="2.09" height="1.38" fill="#d9f0d3"/>
<rect x="289.73" y="186.55" width="3.12" height="1.38" fill="#e7d4e8"/>
<rect x="274.40" y="187.89" width="2.09" height="1.38" fill="#9c68a9"/>
<rect x="276.44" y="187.89" width="2.09" height="1.38" fill="#5b1567"/>
<rect x="278.49" y="187.89" width="1.07" height="1.38" fill="#762a83"/>
<rect x="279.51" y="187.89" width="2.09" height="1.38" fill="#40004b"/>
<rect x="281.56" y="187.89" width="2.09" height="1.38" fill="#5b1567"/>
<rect x="283.60" y="187.89" width="1.07" height="1.38" fill="#e7d4e8"/>
<rect x="284.62" y="187.89" width="1.07" height="1.38" fill="#efe6f0"/>
<rect x="285.64" y="187.89" width="1.07" height="1.38" fill="#e7d4e8"/>
<rect x="274.40" y="189.22" width="1.07" height="1.38" fill="#40004b"/>
<rect x="275.42" y="189.22" width="2.09" height="1.38" fill="#5b1567"/>
<rect x="277.47" y="189.22" width="6.18" height="1.38" fill="#40004b"/>
<rect x="283.60" y="189.22" width="2.09" height="1.38" fill="#c0e6ba"/>
<rect x="285.64" y="189.22" width="1.07" height="1.38" fill="#60aa6c"/>
<rect x="286.67" y="189.22" width="1.07" height="1.38" fill="#c0e6ba"/>
<rect x="287.69" y="189.22" width="2.09" height="1.38" fill="#a6dba0"/>
<rect x="290.76" y="189.22" width="1.07" height="1.38" fill="#d9f0d3"/>
<rect x="291.78" y="189.22" width="1.07" height="1.38" fill="#e8f4e5"/>
<rect x="270.31" y="190.56" width="4.14" height="1.38" fill="#e8f4e5"/>
<rect x="274.40" y="190.56" width="6.18" height="1.38" fill="#40004b"/>
<rect x="280.53" y="190.56" width="1.07" height="1.38" fill="#5b1567"/>
<rect x="281.56" y="190.56" width="2.09" height="1.38" fill="#40004b"/>
<rect x="274.40" y="191.89" width="1.07" height="1.38" fill="#40004b"/>
<rect x="275.42" y="191.89" width="2.09" height="1.38" fill="#5b1567"/>
<rect x="277.47" y="191.89" width="2.09" height="1.38" fill="#40004b"/>
<rect x="279.51" y="191.89" width="1.07" height="1.38" fill="#c2a5cf"/>
<rect x="280.53" y="191.89" width="2.09" height="1.38" fill="#40004b"/>
<rect x="282.58" y="191.89" width="1.07" height="1.38" fill="#5b1567"/>
<rect x="283.60" y="191.89" width="1.07" height="1.38" fill="#d9f0d3"/>
<rect x="286.67" y="191.89" width="2.09" height="1.38" fill="#e8f4e5"/>
<rect x="288.71" y="191.89" width="1.07" height="1.38" fill="#d9f0d3"/>
<rect x="265.20" y="193.22" width="2.09" height="1.38" fill="#e7d4e8"/>
<rect x="267.24" y="193.22" width="1.07" height="1.38" fill="#efe6f0"/>
<rect x="274.40" y="193.22" width="1.07" height="1.38" fill="#5b1567"/>
<rect x="275.42" y="193.22" width="1.07" height="1.38" fill="#40004b"/>
<rect x="276.44" y="193.22" width="1.07" height="1.38" fill="#5b1567"/>
<rect x="277.47" y="193.22" width="2.09" height="1.38" fill="#40004b"/>
<rect x="279.51" y="193.22" width="2.09" height="1.38" fill="#5b1567"/>
<rect x="281.56" y="193.22" width="2.09" height="1.38" fill="#40004b"/>
<rect x="287.69" y="193.22" width="1.07" height="1.38" fill="#efe6f0"/>
<rect x="271.33" y="194.56" width="1.07" height="1.38" fill="#efe6f0"/>
<rect x="272.36" y="194.56" width="1.07" height="1.38" fill="#e7d4e8"/>
<rect x="273.38" y="194.56" width="1.07" height="1.38" fill="#efe6f0"/>
<rect x="274.40" y="194.56" width="2.09" height="1.38" fill="#40004b"/>
<rect x="276.44" y="194.56" width="1.07" height="1.38" fill="#5b1567"/>
<rect x="277.47" y="194.56" width="1.07" height="1.38" fill="#762a83"/>
<rect x="278.49" y="194.56" width="3.12" height="1.38" fill="#5b1567"/>
<rect x="281.56" y="194.56" width="2.09" height="1.38" fill="#40004b"/>
<rect x="283.60" y="194.56" width="2.09" height="1.38" fill="#a6dba0"/>
<rect x="267.24" y="195.89" width="4.14" height="1.38" fill="#e8f4e5"/>
<rect x="271.33" y="195.89" width="1.07" height="1.38" fill="#d9f0d3"/>
<rect x="272.36" y="195.89" width="1.07" height="1.38" fill="#e8f4e5"/>
<rect x="274.40" y="195.89" width="2.09" height="1.38" fill="#5b1567"/>
<rect x="276.44" y="195.89" width="5.16" height="1.38" fill="#40004b"/>
<rect x="281.56" y="195.89" width="1.07" height="1.38" fill="#9c68a9"/>
<rect x="282.58" y="195.89" width="1.07" height="1.38" fill="#762a83"/>
<rect x="283.60" y="195.89" width="1.07" height="1.38" fill="#1b7837"/>
<rect x="284.62" y="195.89" width="2.09" height="1.38" fill="#60aa6c"/>
<rect x="286.67" y="195.89" width="1.07" height="1.38" fill="#1b7837"/>
<rect x="287.69" y="195.89" width="1.07" height="1.38" fill="#a6dba0"/>
<rect x="267.24" y="197.22" width="1.07" height="1.38" fill="#e8f4e5"/>
<rect x="268.27" y="197.22" width="2.09" height="1.38" fill="#d9f0d3"/>
<rect x="270.31" y="197.22" width="1.07" height="1.38" fill="#e8f4e5"/>
<rect x="271.33" y="197.22" width="1.07" height="1.38" fill="#d9f0d3"/>
<rect x="274.40" y="197.22" width="1.07" height="1.38" fill="#40004b"/>
<rect x="276.44" y="197.22" width="7.21" height="1.38" fill="#40004b"/>
<rect x="274.40" y="198.56" width="4.14" height="1.38" fill="#40004b"/>
<rect x="278.49" y="198.56" width="1.07" height="1.38" fill="#e7d4e8"/>
<rect x="279.51" y="198.56" width="4.14" height="1.38" fill="#40004b"/>
<rect x="290.76" y="198.56" width="2.09" height="1.38" fill="#d9f0d3"/>
<rect x="274.40" y="199.89" width="9.25" height="1.38" fill="#40004b"/>
<rect x="283.60" y="199.89" width="2.09" height="1.38" fill="#e7d4e8"/>
<rect x="274.40" y="201.23" width="1.07" height="1.38" fill="#40004b"/>
<rect x="275.42" y="201.23" width="1.07" height="1.38" fill="#5b1567"/>
<rect x="276.44" y="201.23" width="2.09" height="1.38" fill="#40004b"/>
<rect x="278.49" y="201.23" width="1.07" height="1.38" fill="#e7d4e8"/>
<rect x="279.51" y="201.23" width="1.07" height="1.38" fill="#40004b"/>
<rect x="280.53" y="201.23" width="2.09" height="1.38" fill="#5b1567"/>
<rect x="282.58" y="201.23" width="1.07" height="1.38" fill="#40004b"/>
<rect x="283.60" y="201.23" width="1.07" height="1.38" fill="#a6dba0"/>
<rect x="284.62" y="201.23" width="1.07" height="1.38" fill="#c0e6ba"/>
<rect x="285.64" y="201.23" width="1.07" height="1.38" fill="#a6dba0"/>
<rect x="271.33" y="202.56" width="3.12" height="1.38" fill="#e7d4e8"/>
<rect x="274.40" y="202.56" width="9.25" height="1.38" fill="#40004b"/>
<rect x="283.60" y="202.56" width="1.07" height="1.38" fill="#c0e6ba"/>
<rect x="284.62" y="202.56" width="1.07" height="1.38" fill="#a6dba0"/>
<rect x="285.64" y="202.56" width="2.09" height="1.38" fill="#c0e6ba"/>
<rect x="287.69" y="202.56" width="1.07" height="1.38" fill="#d9f0d3"/>
<rect x="268.27" y="203.89" width="3.12" height="1.38" fill="#e7d4e8"/>
<rect x="271.33" y="203.89" width="1.07" height="1.38" fill="#efe6f0"/>
<rect x="272.36" y="203.89" width="2.09" height="1.38" fill="#e7d4e8"/>
<rect x="274.40" y="203.89" width="9.25" height="1.38" fill="#40004b"/>
<rect x="287.69" y="203.89" width="1.07" height="1.38" fill="#e8f4e5"/>
<rect x="288.71" y="203.89" width="2.09" height="1.38" fill="#d9f0d3"/>
<rect x="290.76" y="203.89" width="1.07" height="1.38" fill="#e8f4e5"/>
<rect x="291.78" y="203.89" width="1.07" height="1.38" fill="#d9f0d3"/>
<rect x="268.27" y="205.23" width="1.07" height="1.38" fill="#efe6f0"/>
<rect x="269.29" y="205.23" width="4.14" height="1.38" fill="#e7d4e8"/>
<rect x="274.40" y="205.23" width="1.07" height="1.38" fill="#5b1567"/>
<rect x="275.42" y="205.23" width="3.12" height="1.38" fill="#762a83"/>
<rect x="278.49" y="205.23" width="1.07" height="1.38" fill="#9c68a9"/>
<rect x="280.53" y="205.23" width="1.07" height="1.38" fill="#762a83"/>
<rect x="281.56" y="205.23" width="1.07" height="1.38" fill="#d4bcdc"/>
<rect x="282.58" y="205.23" width="1.07" height="1.38" fill="#9c68a9"/>
<rect x="283.60" y="205.23" width="1.07" height="1.38" fill="#c0e6ba"/>
<rect x="284.62" y="205.23" width="1.07" height="1.38" fill="#a6dba0"/>
<rect x="266.22" y="206.56" width="1.07" height="1.38" fill="#d9f0d3"/>
<rect x="274.40" y="206.56" width="1.07" height="1.38" fill="#40004b"/>
<rect x="275.42" y="206.56" width="1.07" height="1.38" fill="#5b1567"/>
<rect x="276.44" y="206.56" width="7.21" height="1.38" fill="#40004b"/>
<rect x="287.69" y="206.56" width="1.07" height="1.38" fill="#d9f0d3"/>
<rect x="288.71" y="206.56" width="1.07" height="1.38" fill="#e8f4e5"/>
<rect x="289.73" y="206.56" width="3.12" height="1.38" fill="#d9f0d3"/>
<rect x="271.33" y="207.89" width="2.09" height="1.38" fill="#d9f0d3"/>
<rect x="273.38" y="207.89" width="1.07" height="1.38" fill="#e8f4e5"/>
<rect x="274.40" y="207.89" width="2.09" height="1.38" fill="#5b1567"/>
<rect x="276.44" y="207.89" width="7.21" height="1.38" fill="#40004b"/>
<rect x="268.27" y="209.23" width="3.12" height="1.38" fill="#d9f0d3"/>
<rect x="271.33" y="209.23" width="1.07" height="1.38" fill="#e8f4e5"/>
<rect x="272.36" y="209.23" width="1.07" height="1.38" fill="#d9f0d3"/>
<rect x="274.40" y="209.23" width="1.07" height="1.38" fill="#40004b"/>
<rect x="275.42" y="209.23" width="1.07" height="1.38" fill="#5b1567"/>
<rect x="276.44" y="209.23" width="1.07" height="1.38" fill="#e7d4e8"/>
<rect x="277.47" y="209.23" width="1.07" height="1.38" fill="#762a83"/>
<rect x="278.49" y="209.23" width="1.07" height="1.38" fill="#d4bcdc"/>
<rect x="279.51" y="209.23" width="1.07" height="1.38" fill="#40004b"/>
<rect x="280.53" y="209.23" width="1.07" height="1.38" fill="#5b1567"/>
<rect x="281.56" y="209.23" width="2.09" height="1.38" fill="#40004b"/>
<rect x="274.40" y="210.56" width="1.07" height="1.38" fill="#762a83"/>
<rect x="275.42" y="210.56" width="1.07" height="1.38" fill="#9c68a9"/>
<rect x="276.44" y="210.56" width="1.07" height="1.38" fill="#5b1567"/>
<rect x="277.47" y="210.56" width="1.07" height="1.38" fill="#762a83"/>
<rect x="278.49" y="210.56" width="3.12" height="1.38" fill="#5b1567"/>
<rect x="281.56" y="210.56" width="1.07" height="1.38" fill="#9c68a9"/>
<rect x="282.58" y="210.56" width="1.07" height="1.38" fill="#5b1567"/>
<rect x="274.40" y="211.89" width="9.25" height="1.38" fill="#40004b"/>
<rect x="284.62" y="211.89" width="1.07" height="1.38" fill="#d9f0d3"/>
<rect x="267.24" y="213.23" width="6.18" height="1.38" fill="#d9f0d3"/>
<rect x="274.40" y="213.23" width="7.21" height="1.38" fill="#40004b"/>
<rect x="281.56" y="213.23" width="1.07" height="1.38" fill="#5b1567"/>
<rect x="282.58" y="213.23" width="1.07" height="1.38" fill="#40004b"/>
<rect x="266.22" y="214.56" width="5.16" height="1.38" fill="#d9f0d3"/>
<rect x="274.40" y="214.56" width="1.07" height="1.38" fill="#762a83"/>
<rect x="275.42" y="214.56" width="1.07" height="1.38" fill="#9c68a9"/>
<rect x="276.44" y="214.56" width="1.07" height="1.38" fill="#762a83"/>
<rect x="277.47" y="214.56" width="1.07" height="1.38" fill="#9c68a9"/>
<rect x="278.49" y="214.56" width="2.09" height="1.38" fill="#5b1567"/>
<rect x="280.53" y="214.56" width="1.07" height="1.38" fill="#9c68a9"/>
<rect x="281.56" y="214.56" width="1.07" height="1.38" fill="#762a83"/>
<rect x="282.58" y="214.56" width="1.07" height="1.38" fill="#d4bcdc"/>
<rect x="283.60" y="214.56" width="2.09" height="1.38" fill="#c0e6ba"/>
<rect x="287.69" y="214.56" width="5.16" height="1.38" fill="#d9f0d3"/>
<rect x="274.40" y="215.90" width="9.25" height="1.38" fill="#40004b"/>
<rect x="272.36" y="217.23" width="2.09" height="1.38" fill="#e7d4e8"/>
<rect x="274.40" y="217.23" width="1.07" height="1.38" fill="#9c68a9"/>
<rect x="275.42" y="217.23" width="4.14" height="1.38" fill="#40004b"/>
<rect x="279.51" y="217.23" width="1.07" height="1.38" fill="#5b1567"/>
<rect x="280.53" y="217.23" width="2.09" height="1.38" fill="#40004b"/>
<rect x="282.58" y="217.23" width="1.07" height="1.38" fill="#d4bcdc"/>
<rect x="283.60" y="217.23" width="1.07" height="1.38" fill="#a6dba0"/>
<rect x="284.62" y="217.23" width="1.07" height="1.38" fill="#c0e6ba"/>
<rect x="285.64" y="217.23" width="1.07" height="1.38" fill="#60aa6c"/>
<rect x="286.67" y="217.23" width="1.07" height="1.38" fill="#1b7837"/>
<rect x="287.69" y="217.23" width="1.07" height="1.38" fill="#a6dba0"/>
<rect x="274.40" y="218.56" width="1.07" height="1.38" fill="#40004b"/>
<rect x="275.42" y="218.56" width="1.07" height="1.38" fill="#5b1567"/>
<rect x="276.44" y="218.56" width="1.07" height="1.38" fill="#40004b"/>
<rect x="277.47" y="218.56" width="1.07" height="1.38" fill="#5b1567"/>
<rect x="278.49" y="218.56" width="5.16" height="1.38" fill="#40004b"/>
<rect x="283.60" y="218.56" width="1.07" height="1.38" fill="#c0e6ba"/>
<rect x="284.62" y="218.56" width="1.07" height="1.38" fill="#60aa6c"/>
<rect x="291.78" y="218.56" width="1.07" height="1.38" fill="#e7d4e8"/>
<rect x="269.29" y="219.90" width="5.16" height="1.38" fill="#e7d4e8"/>
<rect x="274.40" y="219.90" width="4.14" height="1.38" fill="#40004b"/>
<rect x="278.49" y="219.90" width="1.07" height="1.38" fill="#e7d4e8"/>
<rect x="279.51" y="219.90" width="2.09" height="1.38" fill="#40004b"/>
<rect x="281.56" y="219.90" width="1.07" height="1.38" fill="#d4bcdc"/>
<rect x="282.58" y="219.90" width="1.07" height="1.38" fill="#40004b"/>
<rect x="265.20" y="221.23" width="4.14" height="1.38" fill="#e7d4e8"/>
<rect x="274.40" y="221.23" width="9.25" height="1.38" fill="#40004b"/>
<rect x="283.60" y="221.23" width="1.07" height="1.38" fill="#c0e6ba"/>
<rect x="284.62" y="221.23" width="1.07" height="1.38" fill="#a6dba0"/>
<rect x="285.64" y="221.23" width="1.07" height="1.38" fill="#60aa6c"/>
<rect x="286.67" y="221.23" width="1.07" height="1.38" fill="#c0e6ba"/>
<rect x="287.69" y="221.23" width="1.07" height="1.38" fill="#d9f0d3"/>
<rect x="289.73" y="221.23" width="2.09" height="1.38" fill="#e7d4e8"/>
<rect x="269.29" y="222.56" width="4.14" height="1.38" fill="#e7d4e8"/>
<rect x="274.40" y="222.56" width="3.12" height="1.38" fill="#762a83"/>
<rect x="277.47" y="222.56" width="1.07" height="1.38" fill="#9c68a9"/>
<rect x="278.49" y="222.56" width="1.07" height="1.38" fill="#5b1567"/>
<rect x="279.51" y="222.56" width="4.14" height="1.38" fill="#762a83"/>
<rect x="274.40" y="223.90" width="9.25" height="1.38" fill="#40004b"/>
<rect x="272.36" y="225.23" width="2.09" height="1.38" fill="#e7d4e8"/>
<rect x="274.40" y="225.23" width="3.12" height="1.38" fill="#40004b"/>
<rect x="277.47" y="225.23" width="1.07" height="1.38" fill="#e7d4e8"/>
<rect x="278.49" y="225.23" width="5.16" height="1.38" fill="#40004b"/>
<rect x="290.76" y="225.23" width="2.09" height="1.38" fill="#e8f4e5"/>
<rect x="274.40" y="226.57" width="9.25" height="1.38" fill="#40004b"/>
<rect x="233.50" y="121.20" width="27.20" height="106.70" fill="none" stroke="#666" stroke-width="0.6"/>
<rect x="265.20" y="121.20" width="27.60" height="106.70" fill="none" stroke="#666" stroke-width="0.6"/>
<line x1="233.5" y1="136.1" x2="306.5" y2="136.1" stroke="#777" stroke-width="0.7"/>
<line x1="233.5" y1="149.3" x2="306.5" y2="149.3" stroke="#777" stroke-width="0.7"/>
<text transform="translate(296.90,125) rotate(90)" text-anchor="middle" font-size="9.4" fill="#222" stroke="#222" stroke-width="0.16">Ipsi</text>
<text transform="translate(296.90,191.2) rotate(90)" text-anchor="middle" font-size="9.4" fill="#d41fa8" stroke="#d41fa8" stroke-width="0.16">Contra Selective</text>
<path d="M235.6,232.8 L235.6,231 L244.8,231 L244.8,232.8" fill="none" stroke="#333" stroke-width="0.7"/>
<text x="239.7" y="242" text-anchor="middle" font-size="9.4" fill="#222" stroke="#222" stroke-width="0.16">5 s</text>
<text x="350.2" y="58.6" text-anchor="middle" font-size="9.4" fill="#222" stroke="#222" stroke-width="0.16">Percentage of</text>
<text x="350.2" y="69.3" text-anchor="middle" font-size="9.4" fill="#222" stroke="#222" stroke-width="0.16">SPFp cells</text>
<text x="348.59999999999997" y="80.0" text-anchor="middle" font-size="9.4" fill="#222" stroke="#222" stroke-width="0.16">activated</text>
<text x="350.2" y="90.5" text-anchor="middle" font-size="9.4" fill="#222" stroke="#222" stroke-width="0.16">by contact</text>
<text x="388.7" y="51.0" text-anchor="start" font-size="9.4" fill="#3b2ee0" stroke="#3b2ee0" stroke-width="0.16">Face-selective</text>
<text x="388.7" y="63.15" text-anchor="start" font-size="9.4" fill="#5eaef6" stroke="#5eaef6" stroke-width="0.16">Face and other</text>
<text x="388.7" y="75.3" text-anchor="start" font-size="9.4" fill="#86c95e" stroke="#86c95e" stroke-width="0.16">Paw-selective</text>
<text x="388.7" y="87.45" text-anchor="start" font-size="9.4" fill="#2b6a1c" stroke="#2b6a1c" stroke-width="0.16">Chest-selective</text>
<text x="388.7" y="99.6" text-anchor="start" font-size="9.4" fill="#9c8e22" stroke="#9c8e22" stroke-width="0.16">Genital-selective</text>
<text x="388.7" y="111.75" text-anchor="start" font-size="9.4" fill="#f7951e" stroke="#f7951e" stroke-width="0.16">Back-selective</text>
<text x="388.7" y="123.9" text-anchor="start" font-size="9.4" fill="#b01c2a" stroke="#b01c2a" stroke-width="0.16">Tail-selective</text>
<text x="388.7" y="136.05" text-anchor="start" font-size="9.4" fill="#111" stroke="#111" stroke-width="0.16">Multi body</text>
<text x="388.7" y="148.2" text-anchor="start" font-size="9.4" fill="#aaa" stroke="#aaa" stroke-width="0.16">None</text>
<path d="M350.6,118.1 L357.50,95.53 A23.6,23.6 0 0 1 374.02,115.22 Z" fill="#5555e6" stroke="#fff" stroke-width="0.4"/>
<path d="M350.6,118.1 L374.02,115.22 A23.6,23.6 0 0 1 348.95,141.64 Z" fill="#8ecbfb" stroke="#fff" stroke-width="0.4"/>
<path d="M350.6,118.1 L348.95,141.64 A23.6,23.6 0 0 1 347.32,141.47 Z" fill="#8ccc5a" stroke="#fff" stroke-width="0.4"/>
<path d="M350.6,118.1 L347.32,141.47 A23.6,23.6 0 0 1 346.50,141.34 Z" fill="#2e6a1a" stroke="#fff" stroke-width="0.4"/>
<path d="M350.6,118.1 L346.50,141.34 A23.6,23.6 0 0 1 343.31,140.54 Z" fill="#e4e43a" stroke="#fff" stroke-width="0.4"/>
<path d="M350.6,118.1 L343.31,140.54 A23.6,23.6 0 0 1 342.14,140.13 Z" fill="#f7951e" stroke="#fff" stroke-width="0.4"/>
<path d="M350.6,118.1 L342.14,140.13 A23.6,23.6 0 0 1 341.00,139.66 Z" fill="#d04040" stroke="#fff" stroke-width="0.4"/>
<path d="M350.6,118.1 L341.00,139.66 A23.6,23.6 0 0 1 339.89,139.13 Z" fill="#fff" stroke="#fff" stroke-width="0.4"/>
<path d="M350.6,118.1 L339.89,139.13 A23.6,23.6 0 0 1 335.43,136.18 Z" fill="#000" stroke="none" stroke-width="0.4"/>
<path d="M350.6,118.1 L335.43,136.18 A23.6,23.6 0 0 1 357.50,95.53 Z" fill="#d4d4d4" stroke="#fff" stroke-width="0.4"/>
<text x="392.2" y="172.7" text-anchor="middle" font-size="9.4" fill="#3a8a2a" stroke="#3a8a2a" stroke-width="0.16">Chest</text>
<text x="431.4" y="176.3" text-anchor="middle" font-size="9.4" fill="#4a3ee0" stroke="#4a3ee0" stroke-width="0.16">Face</text>
<text x="436.5" y="185.8" text-anchor="middle" font-size="9.4" fill="#4a3ee0" stroke="#4a3ee0" stroke-width="0.16">(contra)</text>
<text x="344.8" y="183.0" text-anchor="middle" font-size="9.4" fill="#f7951e" stroke="#f7951e" stroke-width="0.16">Back</text>
<text x="427.4" y="211.5" text-anchor="middle" font-size="9.4" fill="#8ccc5a" stroke="#8ccc5a" stroke-width="0.16">Paw</text>
<text x="333.2" y="228.5" text-anchor="middle" font-size="9.4" fill="#9a1020" stroke="#9a1020" stroke-width="0.16">Tail</text>
<text x="392.7" y="224.8" text-anchor="middle" font-size="9.4" fill="#9a9020" stroke="#9a9020" stroke-width="0.16">Anogenital</text>
<path d="M349,207 C344,212 343,219 346,223.5 C350,228 358,230 368,230.3 C376,230.5 382,229.6 387,228.6" fill="none" stroke="#9a9a9a" stroke-width="1.1"/>
<path d="M346.2,218.5 C346.5,224 351,227.5 359,229.3 C367,230.8 377,230.5 386.5,229 C378,228.5 368,228 360,226 C353,224 348.5,222 346.2,218.5 Z" fill="#a8101c" stroke="#a8101c" stroke-width="1.2"/>
<path d="M349,206 C347,200 347.5,193 352,186.5 C356,181 363,178 371,177.3 C379,176.8 387,177.8 394,180.6 C398,182 401,182.5 404,182 C409,182.5 414,185.5 419,189 C423,191.5 426.5,193.5 427.4,195 C425,197.5 421,198.5 416,199.5 C412,200.5 408,201.5 404.5,202 C400,204 396,206 392,207.5 C388,209.5 384,211 378,211.2 C371,211.6 364,211.4 358,209.6 C354,208.8 351,208 349,206 Z" fill="#fff" stroke="#8e8e8e" stroke-width="1.2"/>
<path d="M343.8,204.5 C343.4,200.5 345.5,198.2 348.2,197.8 C349.5,199 350.2,202 350.6,208.6 C347.6,209.2 344.8,207.8 343.8,204.5 Z" fill="#a4a4a4" stroke="none" stroke-width="0.8"/>
<path d="M400.6,181.6 C400,178.6 402,177.4 405.5,177.6 C408,177.6 410,178 410.2,179.5 C409.5,182 407.5,184.5 406,186.5 C404,185.5 402,184 400.6,181.6 Z" fill="#a0a0a0" stroke="none" stroke-width="0.8"/>
<path d="M404.5,181 L406,185.5 M407,180.5 L407.8,184" fill="none" stroke="#fff" stroke-width="0.5"/>
<path d="M379,189.5 C383,193 384.5,197.5 381.8,202 C380.5,204 378.5,205 376.5,205.2" fill="none" stroke="#9a9a9a" stroke-width="0.9"/>
<path d="M360,204.5 C361,206.5 362,207.5 364,208.3" fill="none" stroke="#9a9a9a" stroke-width="0.8"/>
<path d="M396,206.5 C400,204 404,202 408,201.5 L410,203.8 C406,205.5 402,207 398,208.2 Z" fill="#a4a4a4" stroke="none" stroke-width="0.8"/>
<path d="M377,210.8 C381,209.2 385,209 388,210.2 C387,212 383,212.6 378,212.4 Z" fill="#a4a4a4" stroke="none" stroke-width="0.8"/>
<path d="M360.2,185.8 C361,181 366,178.2 372.5,177.6 C378,177.2 383,178 384.5,180.5 C385,183.5 381,186.5 375,188.5 C369,190 363,189.5 360.2,185.8 Z" fill="#f7901a" stroke="none" stroke-width="0.8"/>
<path d="M387.6,202.5 C388,198.5 392,196.6 397,196.8 C401,197 404.5,199.5 405.2,202.3 C402,203.5 399,204.5 396.5,206 C392,206.6 388.2,205.5 387.6,202.5 Z" fill="#2a6a14" stroke="none" stroke-width="0.8"/>
<ellipse cx="397.1" cy="209" rx="4.3" ry="1.9" fill="#8ccc5a" transform="rotate(5 397.1 209)"/>
<ellipse cx="409.2" cy="208.3" rx="4.4" ry="1.9" fill="#8ccc5a" transform="rotate(5 409.2 208.3)"/>
<ellipse cx="374.2" cy="208.6" rx="5" ry="3" fill="#d8d830" transform="rotate(-25 374.2 208.6)"/>
<ellipse cx="421.9" cy="195.1" rx="3.8" ry="2.3" fill="#5a5ae8"/>
<ellipse cx="417.9" cy="190.1" rx="1.5" ry="1.2" fill="#222"/>
<line x1="494.4" y1="48.9" x2="494.4" y2="74.2" stroke="#555" stroke-width="0.6"/>
<line x1="492.4" y1="48.9" x2="494.4" y2="48.9" stroke="#555" stroke-width="0.6"/>
<line x1="493.3" y1="72.2" x2="560.1" y2="72.2" stroke="#555" stroke-width="0.6"/>
<text x="488.6" y="53.5" text-anchor="end" font-size="9.4" fill="#222" stroke="#222" stroke-width="0.16">3</text>
<text x="488.6" y="74.5" text-anchor="end" font-size="9.4" fill="#222" stroke="#222" stroke-width="0.16">0</text>
<rect x="499.00" y="51.23" width="6.70" height="20.97" fill="#5656e8" stroke="#222" stroke-width="0.5"/>
<line x1="502.35" y1="51.23" x2="502.35" y2="49.797999999999995" stroke="#333" stroke-width="0.6"/>
<line x1="501.35" y1="49.797999999999995" x2="503.35" y2="49.797999999999995" stroke="#333" stroke-width="0.6"/>
<rect x="508.50" y="71.81" width="6.70" height="0.39" fill="#8cc85a" stroke="#222" stroke-width="0.5"/>
<line x1="511.85" y1="71.81166666666667" x2="511.85" y2="70.37966666666667" stroke="#333" stroke-width="0.6"/>
<line x1="510.85" y1="70.37966666666667" x2="512.85" y2="70.37966666666667" stroke="#333" stroke-width="0.6"/>
<line x1="518.1" y1="71.9" x2="524.8000000000001" y2="71.9" stroke="#444" stroke-width="0.6"/>
<line x1="521.45" y1="72.433" x2="521.45" y2="73.86500000000001" stroke="#333" stroke-width="0.6"/>
<line x1="520.45" y1="73.86500000000001" x2="522.45" y2="73.86500000000001" stroke="#333" stroke-width="0.6"/>
<line x1="527.7" y1="71.9" x2="534.4000000000001" y2="71.9" stroke="#444" stroke-width="0.6"/>
<line x1="531.0500000000001" y1="72.04466666666667" x2="531.0500000000001" y2="70.61266666666667" stroke="#333" stroke-width="0.6"/>
<line x1="530.0500000000001" y1="70.61266666666667" x2="532.0500000000001" y2="70.61266666666667" stroke="#333" stroke-width="0.6"/>
<rect x="537.30" y="71.89" width="6.70" height="0.31" fill="#ff9a10" stroke="#222" stroke-width="0.5"/>
<line x1="540.65" y1="71.88933333333334" x2="540.65" y2="70.45733333333334" stroke="#333" stroke-width="0.6"/>
<line x1="539.65" y1="70.45733333333334" x2="541.65" y2="70.45733333333334" stroke="#333" stroke-width="0.6"/>
<rect x="546.70" y="72.20" width="6.70" height="0.93" fill="#8a0a10" stroke="#222" stroke-width="0.5"/>
<line x1="550.0500000000001" y1="73.132" x2="550.0500000000001" y2="74.56400000000001" stroke="#333" stroke-width="0.6"/>
<line x1="549.0500000000001" y1="74.56400000000001" x2="551.0500000000001" y2="74.56400000000001" stroke="#333" stroke-width="0.6"/>
<text x="558.6" y="60.599999999999994" text-anchor="end" font-size="9.4" fill="#222" stroke="#222" stroke-width="0.16">clu 1</text>
<line x1="494.4" y1="80.3" x2="494.4" y2="106.5" stroke="#555" stroke-width="0.6"/>
<line x1="492.4" y1="80.3" x2="494.4" y2="80.3" stroke="#555" stroke-width="0.6"/>
<line x1="493.3" y1="104.5" x2="560.1" y2="104.5" stroke="#555" stroke-width="0.6"/>
<text x="488.6" y="84.89999999999999" text-anchor="end" font-size="9.4" fill="#222" stroke="#222" stroke-width="0.16">3</text>
<text x="488.6" y="106.8" text-anchor="end" font-size="9.4" fill="#222" stroke="#222" stroke-width="0.16">0</text>
<rect x="499.00" y="83.53" width="6.70" height="20.97" fill="#5656e8" stroke="#222" stroke-width="0.5"/>
<line x1="502.35" y1="83.52666666666666" x2="502.35" y2="82.05866666666665" stroke="#333" stroke-width="0.6"/>
<line x1="501.35" y1="82.05866666666665" x2="503.35" y2="82.05866666666665" stroke="#333" stroke-width="0.6"/>
<rect x="508.50" y="93.21" width="6.70" height="11.29" fill="#8cc85a" stroke="#222" stroke-width="0.5"/>
<line x1="511.85" y1="93.20666666666666" x2="511.85" y2="91.73866666666666" stroke="#333" stroke-width="0.6"/>
<line x1="510.85" y1="91.73866666666666" x2="512.85" y2="91.73866666666666" stroke="#333" stroke-width="0.6"/>
<rect x="518.10" y="104.10" width="6.70" height="0.40" fill="#2d6a14" stroke="#222" stroke-width="0.5"/>
<line x1="521.45" y1="104.09666666666666" x2="521.45" y2="102.62866666666666" stroke="#333" stroke-width="0.6"/>
<line x1="520.45" y1="102.62866666666666" x2="522.45" y2="102.62866666666666" stroke="#333" stroke-width="0.6"/>
<rect x="527.70" y="104.50" width="6.70" height="2.26" fill="#e0e034" stroke="#222" stroke-width="0.5"/>
<line x1="531.0500000000001" y1="106.75866666666667" x2="531.0500000000001" y2="108.22666666666667" stroke="#333" stroke-width="0.6"/>
<line x1="530.0500000000001" y1="108.22666666666667" x2="532.0500000000001" y2="108.22666666666667" stroke="#333" stroke-width="0.6"/>
<rect x="537.30" y="104.50" width="6.70" height="1.21" fill="#ff9a10" stroke="#222" stroke-width="0.5"/>
<line x1="540.65" y1="105.71" x2="540.65" y2="107.178" stroke="#333" stroke-width="0.6"/>
<line x1="539.65" y1="107.178" x2="541.65" y2="107.178" stroke="#333" stroke-width="0.6"/>
<rect x="546.70" y="104.50" width="6.70" height="2.26" fill="#8a0a10" stroke="#222" stroke-width="0.5"/>
<line x1="550.0500000000001" y1="106.75866666666667" x2="550.0500000000001" y2="108.22666666666667" stroke="#333" stroke-width="0.6"/>
<line x1="549.0500000000001" y1="108.22666666666667" x2="551.0500000000001" y2="108.22666666666667" stroke="#333" stroke-width="0.6"/>
<text x="558.6" y="92.0" text-anchor="end" font-size="9.4" fill="#222" stroke="#222" stroke-width="0.16">clu 2</text>
<line x1="494.4" y1="112.4" x2="494.4" y2="138.4" stroke="#555" stroke-width="0.6"/>
<line x1="492.4" y1="112.4" x2="494.4" y2="112.4" stroke="#555" stroke-width="0.6"/>
<line x1="493.3" y1="136.4" x2="560.1" y2="136.4" stroke="#555" stroke-width="0.6"/>
<text x="488.6" y="117.0" text-anchor="end" font-size="9.4" fill="#222" stroke="#222" stroke-width="0.16">3</text>
<text x="488.6" y="138.70000000000002" text-anchor="end" font-size="9.4" fill="#222" stroke="#222" stroke-width="0.16">0</text>
<rect x="499.00" y="130.00" width="6.70" height="6.40" fill="#5656e8" stroke="#222" stroke-width="0.5"/>
<line x1="502.35" y1="130.0" x2="502.35" y2="128.54" stroke="#333" stroke-width="0.6"/>
<line x1="501.35" y1="128.54" x2="503.35" y2="128.54" stroke="#333" stroke-width="0.6"/>
<rect x="508.50" y="120.80" width="6.70" height="15.60" fill="#8cc85a" stroke="#222" stroke-width="0.5"/>
<line x1="511.85" y1="120.80000000000001" x2="511.85" y2="119.34000000000002" stroke="#333" stroke-width="0.6"/>
<line x1="510.85" y1="119.34000000000002" x2="512.85" y2="119.34000000000002" stroke="#333" stroke-width="0.6"/>
<rect x="518.10" y="120.80" width="6.70" height="15.60" fill="#2d6a14" stroke="#222" stroke-width="0.5"/>
<line x1="521.45" y1="120.80000000000001" x2="521.45" y2="119.34000000000002" stroke="#333" stroke-width="0.6"/>
<line x1="520.45" y1="119.34000000000002" x2="522.45" y2="119.34000000000002" stroke="#333" stroke-width="0.6"/>
<rect x="527.70" y="135.12" width="6.70" height="1.28" fill="#e0e034" stroke="#222" stroke-width="0.5"/>
<line x1="531.0500000000001" y1="135.12" x2="531.0500000000001" y2="133.66" stroke="#333" stroke-width="0.6"/>
<line x1="530.0500000000001" y1="133.66" x2="532.0500000000001" y2="133.66" stroke="#333" stroke-width="0.6"/>
<rect x="537.30" y="136.40" width="6.70" height="0.40" fill="#ff9a10" stroke="#222" stroke-width="0.5"/>
<line x1="540.65" y1="136.8" x2="540.65" y2="138.26000000000002" stroke="#333" stroke-width="0.6"/>
<line x1="539.65" y1="138.26000000000002" x2="541.65" y2="138.26000000000002" stroke="#333" stroke-width="0.6"/>
<rect x="546.70" y="134.40" width="6.70" height="2.00" fill="#8a0a10" stroke="#222" stroke-width="0.5"/>
<line x1="550.0500000000001" y1="134.4" x2="550.0500000000001" y2="132.94" stroke="#333" stroke-width="0.6"/>
<line x1="549.0500000000001" y1="132.94" x2="551.0500000000001" y2="132.94" stroke="#333" stroke-width="0.6"/>
<text x="558.6" y="125.3" text-anchor="end" font-size="9.4" fill="#222" stroke="#222" stroke-width="0.16">clu 3</text>
<line x1="494.4" y1="141.3" x2="494.4" y2="171.1" stroke="#555" stroke-width="0.6"/>
<line x1="492.4" y1="141.3" x2="494.4" y2="141.3" stroke="#555" stroke-width="0.6"/>
<line x1="493.3" y1="169.1" x2="560.1" y2="169.1" stroke="#555" stroke-width="0.6"/>
<text x="488.6" y="145.9" text-anchor="end" font-size="9.4" fill="#222" stroke="#222" stroke-width="0.16">3</text>
<text x="488.6" y="171.4" text-anchor="end" font-size="9.4" fill="#222" stroke="#222" stroke-width="0.16">0</text>
<rect x="499.00" y="157.98" width="6.70" height="11.12" fill="#5656e8" stroke="#222" stroke-width="0.5"/>
<line x1="502.35" y1="157.98" x2="502.35" y2="156.368" stroke="#333" stroke-width="0.6"/>
<line x1="501.35" y1="156.368" x2="503.35" y2="156.368" stroke="#333" stroke-width="0.6"/>
<rect x="508.50" y="155.20" width="6.70" height="13.90" fill="#8cc85a" stroke="#222" stroke-width="0.5"/>
<line x1="511.85" y1="155.2" x2="511.85" y2="153.588" stroke="#333" stroke-width="0.6"/>
<line x1="510.85" y1="153.588" x2="512.85" y2="153.588" stroke="#333" stroke-width="0.6"/>
<rect x="518.10" y="161.13" width="6.70" height="7.97" fill="#2d6a14" stroke="#222" stroke-width="0.5"/>
<line x1="521.45" y1="161.13066666666666" x2="521.45" y2="159.51866666666666" stroke="#333" stroke-width="0.6"/>
<line x1="520.45" y1="159.51866666666666" x2="522.45" y2="159.51866666666666" stroke="#333" stroke-width="0.6"/>
<rect x="527.70" y="162.24" width="6.70" height="6.86" fill="#e0e034" stroke="#222" stroke-width="0.5"/>
<line x1="531.0500000000001" y1="162.24266666666668" x2="531.0500000000001" y2="160.63066666666668" stroke="#333" stroke-width="0.6"/>
<line x1="530.0500000000001" y1="160.63066666666668" x2="532.0500000000001" y2="160.63066666666668" stroke="#333" stroke-width="0.6"/>
<rect x="537.30" y="166.04" width="6.70" height="3.06" fill="#ff9a10" stroke="#222" stroke-width="0.5"/>
<line x1="540.65" y1="166.042" x2="540.65" y2="164.43" stroke="#333" stroke-width="0.6"/>
<line x1="539.65" y1="164.43" x2="541.65" y2="164.43" stroke="#333" stroke-width="0.6"/>
<rect x="546.70" y="163.08" width="6.70" height="6.02" fill="#8a0a10" stroke="#222" stroke-width="0.5"/>
<line x1="550.0500000000001" y1="163.07666666666665" x2="550.0500000000001" y2="161.46466666666666" stroke="#333" stroke-width="0.6"/>
<line x1="549.0500000000001" y1="161.46466666666666" x2="551.0500000000001" y2="161.46466666666666" stroke="#333" stroke-width="0.6"/>
<text x="558.6" y="154.4" text-anchor="end" font-size="9.4" fill="#222" stroke="#222" stroke-width="0.16">clu 4</text>
<line x1="494.4" y1="174.7" x2="494.4" y2="200.4" stroke="#555" stroke-width="0.6"/>
<line x1="492.4" y1="174.7" x2="494.4" y2="174.7" stroke="#555" stroke-width="0.6"/>
<line x1="493.3" y1="198.4" x2="560.1" y2="198.4" stroke="#555" stroke-width="0.6"/>
<text x="488.6" y="179.29999999999998" text-anchor="end" font-size="9.4" fill="#222" stroke="#222" stroke-width="0.16">3</text>
<text x="488.6" y="200.70000000000002" text-anchor="end" font-size="9.4" fill="#222" stroke="#222" stroke-width="0.16">0</text>
<rect x="499.00" y="195.00" width="6.70" height="3.40" fill="#5656e8" stroke="#222" stroke-width="0.5"/>
<line x1="502.35" y1="195.00300000000001" x2="502.35" y2="193.555" stroke="#333" stroke-width="0.6"/>
<line x1="501.35" y1="193.555" x2="503.35" y2="193.555" stroke="#333" stroke-width="0.6"/>
<rect x="508.50" y="193.98" width="6.70" height="4.42" fill="#8cc85a" stroke="#222" stroke-width="0.5"/>
<line x1="511.85" y1="193.976" x2="511.85" y2="192.528" stroke="#333" stroke-width="0.6"/>
<line x1="510.85" y1="192.528" x2="512.85" y2="192.528" stroke="#333" stroke-width="0.6"/>
<rect x="518.10" y="196.90" width="6.70" height="1.50" fill="#2d6a14" stroke="#222" stroke-width="0.5"/>
<line x1="521.45" y1="196.899" x2="521.45" y2="195.451" stroke="#333" stroke-width="0.6"/>
<line x1="520.45" y1="195.451" x2="522.45" y2="195.451" stroke="#333" stroke-width="0.6"/>
<rect x="527.70" y="181.02" width="6.70" height="17.38" fill="#e0e034" stroke="#222" stroke-width="0.5"/>
<line x1="531.0500000000001" y1="181.01999999999998" x2="531.0500000000001" y2="179.57199999999997" stroke="#333" stroke-width="0.6"/>
<line x1="530.0500000000001" y1="179.57199999999997" x2="532.0500000000001" y2="179.57199999999997" stroke="#333" stroke-width="0.6"/>
<rect x="537.30" y="194.29" width="6.70" height="4.11" fill="#ff9a10" stroke="#222" stroke-width="0.5"/>
<line x1="540.65" y1="194.292" x2="540.65" y2="192.844" stroke="#333" stroke-width="0.6"/>
<line x1="539.65" y1="192.844" x2="541.65" y2="192.844" stroke="#333" stroke-width="0.6"/>
<rect x="546.70" y="195.40" width="6.70" height="3.00" fill="#8a0a10" stroke="#222" stroke-width="0.5"/>
<line x1="550.0500000000001" y1="195.398" x2="550.0500000000001" y2="193.95" stroke="#333" stroke-width="0.6"/>
<line x1="549.0500000000001" y1="193.95" x2="551.0500000000001" y2="193.95" stroke="#333" stroke-width="0.6"/>
<text x="558.6" y="184.3" text-anchor="end" font-size="9.4" fill="#222" stroke="#222" stroke-width="0.16">clu 5</text>
<line x1="494.4" y1="207.3" x2="494.4" y2="229.3" stroke="#555" stroke-width="0.6"/>
<line x1="492.4" y1="207.3" x2="494.4" y2="207.3" stroke="#555" stroke-width="0.6"/>
<line x1="493.3" y1="227.3" x2="560.1" y2="227.3" stroke="#555" stroke-width="0.6"/>
<text x="488.6" y="211.9" text-anchor="end" font-size="9.4" fill="#222" stroke="#222" stroke-width="0.16">3</text>
<text x="488.6" y="229.60000000000002" text-anchor="end" font-size="9.4" fill="#222" stroke="#222" stroke-width="0.16">0</text>
<rect x="499.00" y="219.30" width="6.70" height="8.00" fill="#5656e8" stroke="#222" stroke-width="0.5"/>
<line x1="502.35" y1="219.3" x2="502.35" y2="218.0" stroke="#333" stroke-width="0.6"/>
<line x1="501.35" y1="218.0" x2="503.35" y2="218.0" stroke="#333" stroke-width="0.6"/>
<rect x="508.50" y="224.90" width="6.70" height="2.40" fill="#8cc85a" stroke="#222" stroke-width="0.5"/>
<line x1="511.85" y1="224.9" x2="511.85" y2="223.6" stroke="#333" stroke-width="0.6"/>
<line x1="510.85" y1="223.6" x2="512.85" y2="223.6" stroke="#333" stroke-width="0.6"/>
<rect x="518.10" y="226.17" width="6.70" height="1.13" fill="#2d6a14" stroke="#222" stroke-width="0.5"/>
<line x1="521.45" y1="226.16666666666669" x2="521.45" y2="224.86666666666667" stroke="#333" stroke-width="0.6"/>
<line x1="520.45" y1="224.86666666666667" x2="522.45" y2="224.86666666666667" stroke="#333" stroke-width="0.6"/>
<rect x="527.70" y="226.97" width="6.70" height="0.33" fill="#e0e034" stroke="#222" stroke-width="0.5"/>
<line x1="531.0500000000001" y1="226.96666666666667" x2="531.0500000000001" y2="225.66666666666666" stroke="#333" stroke-width="0.6"/>
<line x1="530.0500000000001" y1="225.66666666666666" x2="532.0500000000001" y2="225.66666666666666" stroke="#333" stroke-width="0.6"/>
<rect x="537.30" y="211.97" width="6.70" height="15.33" fill="#ff9a10" stroke="#222" stroke-width="0.5"/>
<line x1="540.65" y1="211.96666666666667" x2="540.65" y2="210.66666666666666" stroke="#333" stroke-width="0.6"/>
<line x1="539.65" y1="210.66666666666666" x2="541.65" y2="210.66666666666666" stroke="#333" stroke-width="0.6"/>
<rect x="546.70" y="219.30" width="6.70" height="8.00" fill="#8a0a10" stroke="#222" stroke-width="0.5"/>
<line x1="550.0500000000001" y1="219.3" x2="550.0500000000001" y2="218.0" stroke="#333" stroke-width="0.6"/>
<line x1="549.0500000000001" y1="218.0" x2="551.0500000000001" y2="218.0" stroke="#333" stroke-width="0.6"/>
<text x="558.6" y="208.4" text-anchor="end" font-size="9.4" fill="#222" stroke="#222" stroke-width="0.16">clu 6</text>
<text transform="translate(475.50,138) rotate(-90)" text-anchor="middle" font-size="9.4" fill="#222" stroke="#222" stroke-width="0.16">Average FR (<tspan font-style="italic">z</tspan>)</text>
<text x="527.0" y="239.2" text-anchor="middle" font-size="9.4" fill="#222" stroke="#222" stroke-width="0.16">Contact location</text>
<text x="640.6" y="45.5" text-anchor="middle" font-size="9.4" fill="#222" stroke="#222" stroke-width="0.16">Contact behaviour</text>
<text x="640.6" y="56.2" text-anchor="middle" font-size="9.4" fill="#222" stroke="#222" stroke-width="0.16">during naturalistic</text>
<text x="640.4" y="65.8" text-anchor="middle" font-size="9.4" fill="#222" stroke="#222" stroke-width="0.16">mating</text>
<text x="606.3" y="90.5" text-anchor="end" font-size="9.4" fill="#222" stroke="#222" stroke-width="0.16">Reach</text>
<text x="606.3" y="102.1" text-anchor="end" font-size="9.4" fill="#222" stroke="#222" stroke-width="0.16">Mount</text>
<text x="606.3" y="116.1" text-anchor="end" font-size="9.4" fill="#222" stroke="#222" stroke-width="0.16">Intromit</text>
<text x="606.3" y="132.0" text-anchor="end" font-size="9.4" fill="#222" stroke="#222" stroke-width="0.16">Face</text>
<text x="606.3" y="143.20000000000002" text-anchor="end" font-size="9.4" fill="#222" stroke="#222" stroke-width="0.16">Paw</text>
<text x="606.3" y="155.3" text-anchor="end" font-size="9.4" fill="#222" stroke="#222" stroke-width="0.16">Chest</text>
<text x="606.3" y="166.5" text-anchor="end" font-size="9.4" fill="#222" stroke="#222" stroke-width="0.16">Genital</text>
<text x="606.3" y="178.60000000000002" text-anchor="end" font-size="9.4" fill="#222" stroke="#222" stroke-width="0.16">Back</text>
<text x="606.3" y="191.4" text-anchor="end" font-size="9.4" fill="#222" stroke="#222" stroke-width="0.16">Tail</text>
<line x1="611.6" y1="81.8" x2="611.6" y2="193.2" stroke="#555" stroke-width="0.7"/>
<line x1="608.5" y1="192.8" x2="672.6" y2="192.8" stroke="#555" stroke-width="0.7"/>
<line x1="611.6" y1="192.8" x2="611.6" y2="195" stroke="#555" stroke-width="0.7"/>
<line x1="667.5" y1="192.8" x2="667.5" y2="195" stroke="#555" stroke-width="0.7"/>
<line x1="571" y1="120.6" x2="676" y2="120.6" stroke="#666" stroke-width="0.8" stroke-dasharray="3,2"/>
<text x="611.6" y="207.1" text-anchor="middle" font-size="9.4" fill="#222" stroke="#222" stroke-width="0.16">0</text>
<text x="667.5" y="207.1" text-anchor="middle" font-size="9.4" fill="#222" stroke="#222" stroke-width="0.16">60</text>
<text x="640.2" y="218.6" text-anchor="middle" font-size="9.4" fill="#222" stroke="#222" stroke-width="0.16">Time (s)</text>
<rect x="617.90" y="81.80" width="0.90" height="12.30" fill="#b48ed8" stroke="none" stroke-width="0.8"/>
<rect x="632.60" y="81.80" width="1.60" height="12.30" fill="#9a70c8" stroke="none" stroke-width="0.8"/>
<rect x="636.90" y="81.80" width="1.60" height="12.30" fill="#7a50b0" stroke="none" stroke-width="0.8"/>
<rect x="657.60" y="81.80" width="1.90" height="12.30" fill="#6a3aa0" stroke="none" stroke-width="0.8"/>
<rect x="633.90" y="94.20" width="2.60" height="10.90" fill="#c89af0" stroke="none" stroke-width="0.8"/>
<rect x="638.60" y="94.20" width="1.90" height="10.90" fill="#c89af0" stroke="none" stroke-width="0.8"/>
<rect x="659.20" y="94.20" width="2.60" height="10.90" fill="#c89af0" stroke="none" stroke-width="0.8"/>
<rect x="662.00" y="105.80" width="8.80" height="11.00" fill="#a6a6a6" stroke="none" stroke-width="0.8"/>
<rect x="617.70" y="123.50" width="1.40" height="10.60" fill="#5656e8" stroke="none" stroke-width="0.8"/>
<rect x="631.80" y="123.50" width="8.90" height="10.60" fill="#5656e8" stroke="none" stroke-width="0.8"/>
<rect x="657.00" y="123.50" width="13.80" height="10.60" fill="#5656e8" stroke="none" stroke-width="0.8"/>
<rect x="632.50" y="134.10" width="4.50" height="12.10" fill="#8cc85a" stroke="none" stroke-width="0.8"/>
<rect x="637.60" y="134.10" width="3.10" height="12.10" fill="#8cc85a" stroke="none" stroke-width="0.8"/>
<rect x="657.50" y="134.10" width="13.30" height="12.10" fill="#8cc85a" stroke="none" stroke-width="0.8"/>
<rect x="632.50" y="146.20" width="4.50" height="10.50" fill="#2d6a14" stroke="none" stroke-width="0.8"/>
<rect x="637.60" y="146.20" width="3.10" height="10.50" fill="#2d6a14" stroke="none" stroke-width="0.8"/>
<rect x="659.30" y="146.20" width="11.50" height="10.50" fill="#2d6a14" stroke="none" stroke-width="0.8"/>
<rect x="633.40" y="156.70" width="3.60" height="11.60" fill="#e0e034" stroke="none" stroke-width="0.8"/>
<rect x="639.50" y="156.70" width="1.20" height="11.60" fill="#e0e034" stroke="none" stroke-width="0.8"/>
<rect x="660.50" y="156.70" width="10.30" height="11.60" fill="#e0e034" stroke="none" stroke-width="0.8"/>
<text x="47.6" y="308.7" text-anchor="middle" font-size="9.4" fill="#222" stroke="#222" stroke-width="0.16">Rabies tracing</text>
<text x="48.0" y="321.0" text-anchor="middle" font-size="9.4" fill="#222" stroke="#222" stroke-width="0.16">from SPFp<tspan font-size="6.4" font-style="italic" dy="-3.6">Vglut2</tspan></text>
<g transform="translate(-339.8,-35.3)" fill="none" stroke="#3a3a3a" stroke-width="0.6">
<path d="M368.5,382.5 C375,378.5 385,377 393,377.8 C401,379 407,382.5 410.5,388 C412.5,392 413.5,397 413.6,402 C413.5,407 412.5,411.5 410.5,415.5 C406.5,421.5 399,425.5 391,427 C383,428 374,426 368.5,421.5"/>
<path d="M411.5,394.2 C415,392.5 420,393 421.5,397 C422.3,400 420.5,402 413.6,402 M413.6,402 C420.5,402 422.3,404 421.5,407 C420,411 415,411.5 411.5,409.5"/>
<path d="M352,401.8 L421.7,401.8 M340.2,401.8 L352,401.8"/>
<path d="M367.6,392 L376.5,401.8 L367.6,411.5"/>
<path d="M356,385.5 C359,383.5 363,381.8 368.5,382.5 M356,418.5 C359,420.5 363,422 368.5,421.5"/>
<path d="M340.2,396.6 C346,396 350,393 356,385.5 M340.2,406.8 C346,407.5 350,410 356,418.5"/>
<path d="M355.0,386.0 C351.0,392.0 351.0,397.0 353.0,401.8 C351.0,406.5 351.0,411.5 355.0,417.6"/>
<path d="M358.0,385.4 C354.0,392.0 354.0,397.0 356.0,401.8 C354.0,406.5 354.0,411.5 358.0,418.2"/>
<path d="M361.0,384.8 C357.0,392.0 357.0,397.0 359.0,401.8 C357.0,406.5 357.0,411.5 361.0,418.8"/>
<path d="M364.0,384.2 C360.0,392.0 360.0,397.0 362.0,401.8 C360.0,406.5 360.0,411.5 364.0,419.4"/>
<path d="M367.0,383.0 C363.0,392.0 363.0,397.0 365.0,401.8 C363.0,406.5 363.0,411.5 367.0,420.6"/>
<path d="M370.0,383.0 C366.0,392.0 366.0,397.0 368.0,401.8 C366.0,406.5 366.0,411.5 370.0,420.6"/>
</g>
<ellipse cx="42.8" cy="352" rx="4.8" ry="3.8" fill="none" stroke="#111" stroke-width="0.9" transform="rotate(15 42.8 352)"/>
<text x="48.7" y="361.9" text-anchor="start" font-size="9.4" fill="#222" stroke="#222" stroke-width="0.16">SPFp</text>
<path d="M46.2,331.2 L50.4,332.4 L43.6,352.2 Z" fill="#d81f7e" stroke="none" stroke-width="0.8"/>
<path d="M46.2,331.2 L50.4,332.4 L49.6,335.2 L45.7,334.0 Z" fill="#8a8a8a" stroke="none" stroke-width="0.8"/>
<path d="M29.7,377.6 L29.7,360 C29.7,354 33,351 41.3,350.8" fill="none" stroke="#e0188a" stroke-width="1.3" marker-end="url(#ahm)"/>
<defs><marker id="ahm" viewBox="0 0 6 6" refX="4" refY="3" markerWidth="3" markerHeight="3" orient="auto"><path d="M0,0 L6,3 L0,6 z" fill="#e0188a"/></marker></defs>
<rect x="22.2" y="374.5" width="11.7" height="6.4" rx="1.5" fill="#fff" stroke="#e0188a" stroke-width="1.1"/>
<circle cx="30.5" cy="377.6" r="1.2" fill="#e0188a"/>
<text x="1.7" y="381.8" text-anchor="start" font-size="9.4" fill="#222" stroke="#222" stroke-width="0.16">SpV</text>
<ellipse cx="28.6" cy="400.4" rx="6.4" ry="4.9" fill="none" stroke="#666" stroke-width="0.6"/>
<text x="38.1" y="404.6" text-anchor="start" font-size="9.4" fill="#666" stroke="#666" stroke-width="0.16">Tg</text>
<path d="M15.7,414.7 L26.5,414.5 C27,411 28.5,408.5 31,408.2 C35,408 39,411 43,415.3 C50,420 60,426 68.5,433 C66,436.5 60,438.5 53.5,439 C50,439.5 47,440 45.5,440.2 C39,442.5 31,446 25.2,448.4 C29,445 33,442.5 36,440.5 C33,432 30,424 27,418.5 C23,417 19,416 15.7,414.7 Z" fill="#b4b4b4" stroke="none" stroke-width="0.8"/>
<path d="M53,428.5 C58,428.5 64,430 68.5,433 C65,436.5 59,438.5 53.5,438.8 C52.5,435 52.5,431 53,428.5 Z" fill="#9c9c9c" stroke="none" stroke-width="0.8"/>
<path d="M34.5,416.5 C40,417 46,420 49.5,424.5 C51,427.5 50.5,430.5 48.5,432.2 C44,432 40.5,429.5 38.5,426 C36.5,423 35.2,419.8 34.5,416.5 Z" fill="#fff" stroke="none" stroke-width="0.8"/>
<ellipse cx="53.8" cy="427.4" rx="3" ry="2.1" fill="#333" transform="rotate(15 53.8 427.4)"/>
<path d="M63.4,436.9 Q69.0,436.7 73.5,439.5" fill="none" stroke="#333" stroke-width="0.45"/>
<path d="M63.4,436.9 Q70.2,440.5 76,447.1" fill="none" stroke="#333" stroke-width="0.45"/>
<path d="M63.4,436.9 Q67.0,441.8 69.7,449.6" fill="none" stroke="#333" stroke-width="0.45"/>
<path d="M63.4,436.9 Q64.5,441.4 64.6,449" fill="none" stroke="#333" stroke-width="0.45"/>
<path d="M63.4,436.9 Q62.6,439.9 60.8,445.8" fill="none" stroke="#333" stroke-width="0.45"/>
<line x1="26.5" y1="380.9" x2="27.2" y2="398.5" stroke="#333" stroke-width="0.6"/>
<path d="M28.3,400.6 C31,412 31.2,424 37,431 C41,434.5 48,434 54.6,433" fill="none" stroke="#333" stroke-width="0.6" marker-end="url(#ahs)"/>
<path d="M30,401 C36,409 42,417 41,426 C41,433 44,438 51.5,439.8" fill="none" stroke="#333" stroke-width="0.6" marker-end="url(#ahs)"/>
<circle cx="28.3" cy="400.6" r="0.9" fill="#333"/><circle cx="30.6" cy="401.4" r="0.9" fill="#333"/>
<text x="149.2" y="298.6" text-anchor="middle" font-size="9.4" fill="#222" stroke="#222" stroke-width="0.16">Average no. of RV<tspan font-size="6" dy="-3.4">+</tspan><tspan dy="3.4"> cells</tspan></text>
<text x="113.9" y="311.8" text-anchor="middle" font-size="9.4" fill="#222" stroke="#222" stroke-width="0.16">0</text>
<text x="137.2" y="311.8" text-anchor="middle" font-size="9.4" fill="#222" stroke="#222" stroke-width="0.16">100</text>
<text x="160.6" y="311.8" text-anchor="middle" font-size="9.4" fill="#222" stroke="#222" stroke-width="0.16">200</text>
<text x="183.9" y="311.8" text-anchor="middle" font-size="9.4" fill="#222" stroke="#222" stroke-width="0.16">300</text>
<line x1="113.9" y1="317.4" x2="184.3" y2="317.4" stroke="#555" stroke-width="0.7"/>
<line x1="137.2" y1="317.4" x2="137.2" y2="315.4" stroke="#555" stroke-width="0.7"/>
<line x1="160.6" y1="317.4" x2="160.6" y2="315.4" stroke="#555" stroke-width="0.7"/>
<line x1="183.9" y1="317.4" x2="183.9" y2="315.4" stroke="#555" stroke-width="0.7"/>
<line x1="114.2" y1="317.4" x2="114.2" y2="457.2" stroke="#777" stroke-width="0.8"/>
<text x="110.6" y="321.8" text-anchor="end" font-size="9.4" fill="#222" stroke="#222" stroke-width="0.16">1</text>
<line x1="112.6" y1="318.5" x2="114.2" y2="318.5" stroke="#555" stroke-width="0.5"/>
<text x="110.6" y="330.32" text-anchor="end" font-size="9.4" fill="#222" stroke="#222" stroke-width="0.16">5</text>
<line x1="112.6" y1="327.02" x2="114.2" y2="327.02" stroke="#555" stroke-width="0.5"/>
<text x="110.6" y="338.84000000000003" text-anchor="end" font-size="9.4" fill="#222" stroke="#222" stroke-width="0.16">9</text>
<line x1="112.6" y1="335.54" x2="114.2" y2="335.54" stroke="#555" stroke-width="0.5"/>
<text x="110.6" y="347.36" text-anchor="end" font-size="9.4" fill="#222" stroke="#222" stroke-width="0.16">13</text>
<line x1="112.6" y1="344.06" x2="114.2" y2="344.06" stroke="#555" stroke-width="0.5"/>
<text x="110.6" y="355.88" text-anchor="end" font-size="9.4" fill="#222" stroke="#222" stroke-width="0.16">17</text>
<line x1="112.6" y1="352.58" x2="114.2" y2="352.58" stroke="#555" stroke-width="0.5"/>
<text x="110.6" y="364.40000000000003" text-anchor="end" font-size="9.4" fill="#222" stroke="#222" stroke-width="0.16">21</text>
<line x1="112.6" y1="361.1" x2="114.2" y2="361.1" stroke="#555" stroke-width="0.5"/>
<text x="110.6" y="372.92" text-anchor="end" font-size="9.4" fill="#222" stroke="#222" stroke-width="0.16">25</text>
<line x1="112.6" y1="369.62" x2="114.2" y2="369.62" stroke="#555" stroke-width="0.5"/>
<text x="110.6" y="381.44" text-anchor="end" font-size="9.4" fill="#222" stroke="#222" stroke-width="0.16">29</text>
<line x1="112.6" y1="378.14" x2="114.2" y2="378.14" stroke="#555" stroke-width="0.5"/>
<text x="110.6" y="389.96" text-anchor="end" font-size="9.4" fill="#222" stroke="#222" stroke-width="0.16">33</text>
<line x1="112.6" y1="386.65999999999997" x2="114.2" y2="386.65999999999997" stroke="#555" stroke-width="0.5"/>
<text x="110.6" y="398.48" text-anchor="end" font-size="9.4" fill="#222" stroke="#222" stroke-width="0.16">37</text>
<line x1="112.6" y1="395.18" x2="114.2" y2="395.18" stroke="#555" stroke-width="0.5"/>
<text x="110.6" y="407.0" text-anchor="end" font-size="9.4" fill="#222" stroke="#222" stroke-width="0.16">41</text>
<line x1="112.6" y1="403.7" x2="114.2" y2="403.7" stroke="#555" stroke-width="0.5"/>
<text x="110.6" y="415.52000000000004" text-anchor="end" font-size="9.4" fill="#222" stroke="#222" stroke-width="0.16">45</text>
<line x1="112.6" y1="412.22" x2="114.2" y2="412.22" stroke="#555" stroke-width="0.5"/>
<text x="110.6" y="424.04" text-anchor="end" font-size="9.4" fill="#222" stroke="#222" stroke-width="0.16">49</text>
<line x1="112.6" y1="420.74" x2="114.2" y2="420.74" stroke="#555" stroke-width="0.5"/>
<text x="110.6" y="432.56" text-anchor="end" font-size="9.4" fill="#222" stroke="#222" stroke-width="0.16">53</text>
<line x1="112.6" y1="429.26" x2="114.2" y2="429.26" stroke="#555" stroke-width="0.5"/>
<text x="110.6" y="441.08" text-anchor="end" font-size="9.4" fill="#222" stroke="#222" stroke-width="0.16">57</text>
<line x1="112.6" y1="437.78" x2="114.2" y2="437.78" stroke="#555" stroke-width="0.5"/>
<text x="110.6" y="449.6" text-anchor="end" font-size="9.4" fill="#222" stroke="#222" stroke-width="0.16">61</text>
<line x1="112.6" y1="446.3" x2="114.2" y2="446.3" stroke="#555" stroke-width="0.5"/>
<text x="110.6" y="458.12" text-anchor="end" font-size="9.4" fill="#222" stroke="#222" stroke-width="0.16">65</text>
<line x1="112.6" y1="454.82" x2="114.2" y2="454.82" stroke="#555" stroke-width="0.5"/>
<text transform="translate(92.50,388) rotate(-90)" text-anchor="middle" font-size="9.4" fill="#222" stroke="#222" stroke-width="0.16">Brain regions</text>
<line x1="114.48731951610891" y1="395.18" x2="118.7126804838911" y2="395.18" stroke="#777" stroke-width="0.5"/>
<line x1="114.48731951610891" y1="394.28000000000003" x2="114.48731951610891" y2="396.08" stroke="#777" stroke-width="0.5"/>
<line x1="118.7126804838911" y1="394.28000000000003" x2="118.7126804838911" y2="396.08" stroke="#777" stroke-width="0.5"/>
<line x1="115.42656601843284" y1="405.83" x2="120.82343398156716" y2="405.83" stroke="#777" stroke-width="0.5"/>
<line x1="115.42656601843284" y1="404.93" x2="115.42656601843284" y2="406.72999999999996" stroke="#777" stroke-width="0.5"/>
<line x1="120.82343398156716" y1="404.93" x2="120.82343398156716" y2="406.72999999999996" stroke="#777" stroke-width="0.5"/>
<line x1="115.02364926237406" y1="410.09" x2="122.52635073762595" y2="410.09" stroke="#777" stroke-width="0.5"/>
<line x1="115.02364926237406" y1="409.19" x2="115.02364926237406" y2="410.98999999999995" stroke="#777" stroke-width="0.5"/>
<line x1="122.52635073762595" y1="409.19" x2="122.52635073762595" y2="410.98999999999995" stroke="#777" stroke-width="0.5"/>
<line x1="115.79639642832676" y1="412.22" x2="122.40360357167326" y2="412.22" stroke="#777" stroke-width="0.5"/>
<line x1="115.79639642832676" y1="411.32000000000005" x2="115.79639642832676" y2="413.12" stroke="#777" stroke-width="0.5"/>
<line x1="122.40360357167326" y1="411.32000000000005" x2="122.40360357167326" y2="413.12" stroke="#777" stroke-width="0.5"/>
<line x1="116.0593587111461" y1="414.35" x2="123.29064128885389" y2="414.35" stroke="#777" stroke-width="0.5"/>
<line x1="116.0593587111461" y1="413.45000000000005" x2="116.0593587111461" y2="415.25" stroke="#777" stroke-width="0.5"/>
<line x1="123.29064128885389" y1="413.45000000000005" x2="123.29064128885389" y2="415.25" stroke="#777" stroke-width="0.5"/>
<line x1="117.23032871561665" y1="416.48" x2="123.26967128438335" y2="416.48" stroke="#777" stroke-width="0.5"/>
<line x1="117.23032871561665" y1="415.58000000000004" x2="117.23032871561665" y2="417.38" stroke="#777" stroke-width="0.5"/>
<line x1="123.26967128438335" y1="415.58000000000004" x2="123.26967128438335" y2="417.38" stroke="#777" stroke-width="0.5"/>
<line x1="117.20577645098334" y1="418.61" x2="124.44422354901667" y2="418.61" stroke="#777" stroke-width="0.5"/>
<line x1="117.20577645098334" y1="417.71000000000004" x2="117.20577645098334" y2="419.51" stroke="#777" stroke-width="0.5"/>
<line x1="124.44422354901667" y1="417.71000000000004" x2="124.44422354901667" y2="419.51" stroke="#777" stroke-width="0.5"/>
<line x1="117.6042795128532" y1="425.0" x2="127.59572048714682" y2="425.0" stroke="#777" stroke-width="0.5"/>
<line x1="117.6042795128532" y1="424.1" x2="117.6042795128532" y2="425.9" stroke="#777" stroke-width="0.5"/>
<line x1="127.59572048714682" y1="424.1" x2="127.59572048714682" y2="425.9" stroke="#777" stroke-width="0.5"/>
<line x1="118.27382121930083" y1="427.13" x2="128.12617878069918" y2="427.13" stroke="#777" stroke-width="0.5"/>
<line x1="118.27382121930083" y1="426.23" x2="118.27382121930083" y2="428.03" stroke="#777" stroke-width="0.5"/>
<line x1="128.12617878069918" y1="426.23" x2="128.12617878069918" y2="428.03" stroke="#777" stroke-width="0.5"/>
<line x1="119.5973377066962" y1="429.26" x2="128.00266229330379" y2="429.26" stroke="#777" stroke-width="0.5"/>
<line x1="119.5973377066962" y1="428.36" x2="119.5973377066962" y2="430.15999999999997" stroke="#777" stroke-width="0.5"/>
<line x1="128.00266229330379" y1="428.36" x2="128.00266229330379" y2="430.15999999999997" stroke="#777" stroke-width="0.5"/>
<line x1="120.5767782461629" y1="433.52" x2="130.4232217538371" y2="433.52" stroke="#777" stroke-width="0.5"/>
<line x1="120.5767782461629" y1="432.62" x2="120.5767782461629" y2="434.41999999999996" stroke="#777" stroke-width="0.5"/>
<line x1="130.4232217538371" y1="432.62" x2="130.4232217538371" y2="434.41999999999996" stroke="#777" stroke-width="0.5"/>
<line x1="122.22444968324155" y1="439.90999999999997" x2="135.5088836500918" y2="439.90999999999997" stroke="#777" stroke-width="0.5"/>
<line x1="122.22444968324155" y1="439.01" x2="122.22444968324155" y2="440.80999999999995" stroke="#777" stroke-width="0.5"/>
<line x1="135.5088836500918" y1="439.01" x2="135.5088836500918" y2="440.80999999999995" stroke="#777" stroke-width="0.5"/>
<line x1="124.11658761745744" y1="442.03999999999996" x2="136.95007904920922" y2="442.03999999999996" stroke="#777" stroke-width="0.5"/>
<line x1="124.11658761745744" y1="441.14" x2="124.11658761745744" y2="442.93999999999994" stroke="#777" stroke-width="0.5"/>
<line x1="136.95007904920922" y1="441.14" x2="136.95007904920922" y2="442.93999999999994" stroke="#777" stroke-width="0.5"/>
<line x1="120.188535998368" y1="444.16999999999996" x2="144.21146400163198" y2="444.16999999999996" stroke="#777" stroke-width="0.5"/>
<line x1="120.188535998368" y1="443.27" x2="120.188535998368" y2="445.06999999999994" stroke="#777" stroke-width="0.5"/>
<line x1="144.21146400163198" y1="443.27" x2="144.21146400163198" y2="445.06999999999994" stroke="#777" stroke-width="0.5"/>
<line x1="122.4501535315242" y1="446.3" x2="146.94984646847578" y2="446.3" stroke="#777" stroke-width="0.5"/>
<line x1="122.4501535315242" y1="445.40000000000003" x2="122.4501535315242" y2="447.2" stroke="#777" stroke-width="0.5"/>
<line x1="146.94984646847578" y1="445.40000000000003" x2="146.94984646847578" y2="447.2" stroke="#777" stroke-width="0.5"/>
<line x1="132.45821509791642" y1="450.56" x2="145.94178490208355" y2="450.56" stroke="#777" stroke-width="0.5"/>
<line x1="132.45821509791642" y1="449.66" x2="132.45821509791642" y2="451.46" stroke="#777" stroke-width="0.5"/>
<line x1="145.94178490208355" y1="449.66" x2="145.94178490208355" y2="451.46" stroke="#777" stroke-width="0.5"/>
<line x1="134.58144713568896" y1="452.69" x2="147.81855286431102" y2="452.69" stroke="#777" stroke-width="0.5"/>
<line x1="134.58144713568896" y1="451.79" x2="134.58144713568896" y2="453.59" stroke="#777" stroke-width="0.5"/>
<line x1="147.81855286431102" y1="451.79" x2="147.81855286431102" y2="453.59" stroke="#777" stroke-width="0.5"/>
<line x1="136.9479613488458" y1="454.82" x2="151.0520386511542" y2="454.82" stroke="#777" stroke-width="0.5"/>
<line x1="136.9479613488458" y1="453.92" x2="136.9479613488458" y2="455.71999999999997" stroke="#777" stroke-width="0.5"/>
<line x1="151.0520386511542" y1="453.92" x2="151.0520386511542" y2="455.71999999999997" stroke="#777" stroke-width="0.5"/>
<rect x="125.60" y="443.30" width="14.20" height="6.40" fill="#d4d4d4" stroke="#999" stroke-width="0.5"/>
<line x1="126" y1="449.7" x2="154" y2="449.7" stroke="#777" stroke-width="0.5"/>
<line x1="154" y1="448.8" x2="154" y2="450.6" stroke="#777" stroke-width="0.5"/>
<circle cx="115.80" cy="318.50" r="1.3" fill="#e060e0" stroke="#a833a8" stroke-width="0.35"/>
<circle cx="115.70" cy="320.63" r="1.3" fill="#e060e0" stroke="#a833a8" stroke-width="0.35"/>
<circle cx="115.60" cy="322.76" r="1.3" fill="#e060e0" stroke="#a833a8" stroke-width="0.35"/>
<circle cx="115.50" cy="324.89" r="1.3" fill="#e060e0" stroke="#a833a8" stroke-width="0.35"/>
<circle cx="115.40" cy="327.02" r="1.3" fill="#e060e0" stroke="#a833a8" stroke-width="0.35"/>
<circle cx="115.39" cy="329.15" r="1.3" fill="#e060e0" stroke="#a833a8" stroke-width="0.35"/>
<circle cx="115.38" cy="331.28" r="1.3" fill="#e060e0" stroke="#a833a8" stroke-width="0.35"/>
<circle cx="115.36" cy="333.41" r="1.3" fill="#e060e0" stroke="#a833a8" stroke-width="0.35"/>
<circle cx="115.35" cy="335.54" r="1.3" fill="#e060e0" stroke="#a833a8" stroke-width="0.35"/>
<circle cx="115.34" cy="337.67" r="1.3" fill="#e060e0" stroke="#a833a8" stroke-width="0.35"/>
<circle cx="115.33" cy="339.80" r="1.3" fill="#e060e0" stroke="#a833a8" stroke-width="0.35"/>
<circle cx="115.31" cy="341.93" r="1.3" fill="#e060e0" stroke="#a833a8" stroke-width="0.35"/>
<circle cx="115.30" cy="344.06" r="1.3" fill="#e060e0" stroke="#a833a8" stroke-width="0.35"/>
<circle cx="115.29" cy="346.19" r="1.3" fill="#e060e0" stroke="#a833a8" stroke-width="0.35"/>
<circle cx="115.28" cy="348.32" r="1.3" fill="#e060e0" stroke="#a833a8" stroke-width="0.35"/>
<circle cx="115.26" cy="350.45" r="1.3" fill="#e060e0" stroke="#a833a8" stroke-width="0.35"/>
<circle cx="115.25" cy="352.58" r="1.3" fill="#e060e0" stroke="#a833a8" stroke-width="0.35"/>
<circle cx="115.24" cy="354.71" r="1.3" fill="#e060e0" stroke="#a833a8" stroke-width="0.35"/>
<circle cx="115.23" cy="356.84" r="1.3" fill="#e060e0" stroke="#a833a8" stroke-width="0.35"/>
<circle cx="115.21" cy="358.97" r="1.3" fill="#e060e0" stroke="#a833a8" stroke-width="0.35"/>
<circle cx="115.20" cy="361.10" r="1.3" fill="#e060e0" stroke="#a833a8" stroke-width="0.35"/>
<circle cx="115.23" cy="363.23" r="1.3" fill="#e060e0" stroke="#a833a8" stroke-width="0.35"/>
<circle cx="115.27" cy="365.36" r="1.3" fill="#e060e0" stroke="#a833a8" stroke-width="0.35"/>
<circle cx="115.30" cy="367.49" r="1.3" fill="#e060e0" stroke="#a833a8" stroke-width="0.35"/>
<circle cx="115.33" cy="369.62" r="1.3" fill="#e060e0" stroke="#a833a8" stroke-width="0.35"/>
<circle cx="115.37" cy="371.75" r="1.3" fill="#e060e0" stroke="#a833a8" stroke-width="0.35"/>
<circle cx="115.40" cy="373.88" r="1.3" fill="#e060e0" stroke="#a833a8" stroke-width="0.35"/>
<circle cx="115.43" cy="376.01" r="1.3" fill="#e060e0" stroke="#a833a8" stroke-width="0.35"/>
<circle cx="115.47" cy="378.14" r="1.3" fill="#e060e0" stroke="#a833a8" stroke-width="0.35"/>
<circle cx="115.50" cy="380.27" r="1.3" fill="#e060e0" stroke="#a833a8" stroke-width="0.35"/>
<circle cx="115.53" cy="382.40" r="1.3" fill="#e060e0" stroke="#a833a8" stroke-width="0.35"/>
<circle cx="115.57" cy="384.53" r="1.3" fill="#e060e0" stroke="#a833a8" stroke-width="0.35"/>
<circle cx="115.60" cy="386.66" r="1.3" fill="#e060e0" stroke="#a833a8" stroke-width="0.35"/>
<circle cx="115.85" cy="388.79" r="1.3" fill="#e060e0" stroke="#a833a8" stroke-width="0.35"/>
<circle cx="116.10" cy="390.92" r="1.3" fill="#e060e0" stroke="#a833a8" stroke-width="0.35"/>
<circle cx="116.35" cy="393.05" r="1.3" fill="#e060e0" stroke="#a833a8" stroke-width="0.35"/>
<circle cx="116.60" cy="395.18" r="1.3" fill="#e060e0" stroke="#a833a8" stroke-width="0.35"/>
<circle cx="116.90" cy="397.31" r="1.3" fill="#e060e0" stroke="#a833a8" stroke-width="0.35"/>
<circle cx="117.20" cy="399.44" r="1.3" fill="#e060e0" stroke="#a833a8" stroke-width="0.35"/>
<circle cx="117.50" cy="401.57" r="1.55" fill="#e060e0" stroke="#a833a8" stroke-width="0.35"/>
<circle cx="117.80" cy="403.70" r="1.55" fill="#e060e0" stroke="#a833a8" stroke-width="0.35"/>
<circle cx="118.12" cy="405.83" r="1.55" fill="#e060e0" stroke="#a833a8" stroke-width="0.35"/>
<circle cx="118.45" cy="407.96" r="1.55" fill="#e060e0" stroke="#a833a8" stroke-width="0.35"/>
<circle cx="118.78" cy="410.09" r="1.55" fill="#e060e0" stroke="#a833a8" stroke-width="0.35"/>
<circle cx="119.10" cy="412.22" r="1.55" fill="#e060e0" stroke="#a833a8" stroke-width="0.35"/>
<circle cx="119.67" cy="414.35" r="1.55" fill="#e060e0" stroke="#a833a8" stroke-width="0.35"/>
<circle cx="120.25" cy="416.48" r="1.55" fill="#e060e0" stroke="#a833a8" stroke-width="0.35"/>
<circle cx="120.83" cy="418.61" r="1.55" fill="#e060e0" stroke="#a833a8" stroke-width="0.35"/>
<circle cx="121.40" cy="420.74" r="1.55" fill="#e060e0" stroke="#a833a8" stroke-width="0.35"/>
<circle cx="122.00" cy="422.87" r="1.55" fill="#e060e0" stroke="#a833a8" stroke-width="0.35"/>
<circle cx="122.60" cy="425.00" r="1.55" fill="#e060e0" stroke="#a833a8" stroke-width="0.35"/>
<circle cx="123.20" cy="427.13" r="1.55" fill="#e060e0" stroke="#a833a8" stroke-width="0.35"/>
<circle cx="123.80" cy="429.26" r="1.55" fill="#e060e0" stroke="#a833a8" stroke-width="0.35"/>
<circle cx="124.65" cy="431.39" r="1.55" fill="#e060e0" stroke="#a833a8" stroke-width="0.35"/>
<circle cx="125.50" cy="433.52" r="1.55" fill="#e060e0" stroke="#a833a8" stroke-width="0.35"/>
<circle cx="126.35" cy="435.65" r="1.55" fill="#e060e0" stroke="#a833a8" stroke-width="0.35"/>
<circle cx="127.20" cy="437.78" r="1.55" fill="#e060e0" stroke="#a833a8" stroke-width="0.35"/>
<circle cx="128.87" cy="439.91" r="1.55" fill="#e060e0" stroke="#a833a8" stroke-width="0.35"/>
<circle cx="130.53" cy="442.04" r="1.55" fill="#e060e0" stroke="#a833a8" stroke-width="0.35"/>
<circle cx="132.20" cy="444.17" r="1.55" fill="#e060e0" stroke="#a833a8" stroke-width="0.35"/>
<circle cx="134.70" cy="446.30" r="1.55" fill="#e060e0" stroke="#a833a8" stroke-width="0.35"/>
<circle cx="137.20" cy="448.43" r="1.55" fill="#e060e0" stroke="#a833a8" stroke-width="0.35"/>
<circle cx="139.20" cy="450.56" r="1.55" fill="#e060e0" stroke="#a833a8" stroke-width="0.35"/>
<circle cx="141.20" cy="452.69" r="1.55" fill="#e060e0" stroke="#a833a8" stroke-width="0.35"/>
<circle cx="144.00" cy="454.82" r="1.55" fill="#e060e0" stroke="#a833a8" stroke-width="0.35"/>
<line x1="152.3" y1="456" x2="190.3" y2="456" stroke="#444" stroke-width="0.6"/>
<line x1="152.3" y1="454.6" x2="152.3" y2="457.4" stroke="#444" stroke-width="0.6"/>
<line x1="190.3" y1="454.6" x2="190.3" y2="457.4" stroke="#444" stroke-width="0.6"/>
<circle cx="171.3" cy="456" r="1.6" fill="#e070e0" stroke="#b030b0" stroke-width="0.4"/>
<text x="125.0" y="388.2" text-anchor="start" font-size="9.4" fill="#222" stroke="#222" stroke-width="0.16">wS1</text>
<path d="M127.4,389 C126,393 124,396 120.6,397.6" fill="none" stroke="#444" stroke-width="0.6" marker-end="url(#ahs)"/>
<text x="147.6" y="425.4" text-anchor="start" font-size="9.4" fill="#222" stroke="#222" stroke-width="0.16">PAG</text>
<path d="M147.6,428 C145,432 141,436 137,438" fill="none" stroke="#444" stroke-width="0.6" marker-end="url(#ahs)"/>
<text x="151.6" y="435.6" text-anchor="start" font-size="9.4" fill="#222" stroke="#222" stroke-width="0.16">SCm</text>
<path d="M150.5,437.5 C148,440 145,442 141.5,443" fill="none" stroke="#444" stroke-width="0.6" marker-end="url(#ahs)"/>
<text x="152.3" y="446.3" text-anchor="start" font-size="9.4" fill="#222" stroke="#222" stroke-width="0.16">Zi</text>
<path d="M151,444.5 C149,445 147,445.5 145,445.8" fill="none" stroke="#444" stroke-width="0.6" marker-end="url(#ahs)"/>
<text x="180.0" y="446.8" text-anchor="start" font-size="9.4" fill="#222" stroke="#222" stroke-width="0.16">SpV</text>
<path d="M178,446 C175,447 173,449 172.2,451.5" fill="none" stroke="#444" stroke-width="0.6" marker-end="url(#ahs)"/>
<text x="132.6" y="333.3" text-anchor="start" font-size="9.4" fill="#222" stroke="#222" stroke-width="0.16">MPOA</text>
<path d="M129.8,326 C127,322.5 123,321 118.6,320.8" fill="none" stroke="#444" stroke-width="0.6" marker-end="url(#ahs)"/>
<defs><clipPath id="iclip"><rect x="214.8" y="287.0" width="82.6" height="110.5"/></clipPath><radialGradient id="tis" cx="0.25" cy="0.45" r="0.8"><stop offset="0" stop-color="#3016b0"/><stop offset="0.7" stop-color="#2a12a2"/><stop offset="1" stop-color="#1e0c84"/></radialGradient><radialGradient id="spv" cx="0.62" cy="0.5" r="0.55"><stop offset="0" stop-color="#b02aa0"/><stop offset="0.55" stop-color="#7424a8"/><stop offset="1" stop-color="#3a18b0" stop-opacity="0"/></radialGradient><filter id="grain" x="0" y="0" width="1" height="1" color-interpolation-filters="sRGB"><feTurbulence type="fractalNoise" baseFrequency="0.45" numOctaves="3" seed="4" result="n"/><feColorMatrix in="n" type="matrix" values="0 0 0 0 0.1  0 0 0 0 0.02  0 0 0 0 0.32  0 0 0 -2.2 1.12" result="c"/><feComposite in="c" in2="SourceGraphic" operator="in"/></filter><filter id="grain2" x="0" y="0" width="1" height="1" color-interpolation-filters="sRGB"><feTurbulence type="fractalNoise" baseFrequency="0.6" numOctaves="2" seed="9" result="n"/><feColorMatrix in="n" type="matrix" values="0 0 0 0 0.28  0 0 0 0 0.14  0 0 0 0 0.9  0 0 0 2.2 -1.2" result="c"/><feComposite in="c" in2="SourceGraphic" operator="in"/></filter></defs>
<g clip-path="url(#iclip)">
<rect x="214.80" y="287.00" width="82.60" height="110.50" fill="#000" stroke="none" stroke-width="0.8"/>
<path d="M210,288 L249,287.2 C259,289 268,294 276,300 C284,306 291,314 295,323 C297.5,333 297,345 295,356 C292.5,368 285,378 273,384 C262,389.5 246,392 232,394 C224,395 217,396 210,397 Z" fill="url(#tis)" stroke="none" stroke-width="0.8"/>
<path d="M210,288 L249,287.2 C259,289 268,294 276,300 C284,306 291,314 295,323 C297.5,333 297,345 295,356 C292.5,368 285,378 273,384 C262,389.5 246,392 232,394 C224,395 217,396 210,397 Z" fill="#fff" stroke="none" stroke-width="0.8" filter="url(#grain)"/>
<path d="M210,288 L249,287.2 C259,289 268,294 276,300 C284,306 291,314 295,323 C297.5,333 297,345 295,356 C292.5,368 285,378 273,384 C262,389.5 246,392 232,394 C224,395 217,396 210,397 Z" fill="#fff" stroke="none" stroke-width="0.8" filter="url(#grain2)"/>
<ellipse cx="268" cy="342" rx="17" ry="31" fill="url(#spv)" opacity="0.85"/>
<defs><filter id="soft" x="-0.1" y="-0.1" width="1.2" height="1.2"><feGaussianBlur stdDeviation="0.55"/></filter></defs>
<g filter="url(#soft)">
<circle cx="275.3" cy="352.9" r="1.17" fill="#ff3ca8" opacity="0.87"/>
<circle cx="268.1" cy="357.9" r="1.47" fill="#ff2a96" opacity="0.70"/>
<circle cx="268.9" cy="342.1" r="0.93" fill="#e0208e" opacity="0.66"/>
<circle cx="275.4" cy="356.3" r="1.43" fill="#ff1a8c" opacity="0.67"/>
<circle cx="268.2" cy="366.0" r="0.97" fill="#ff3ca8" opacity="0.47"/>
<circle cx="273.9" cy="334.2" r="0.70" fill="#f0188a" opacity="0.46"/>
<circle cx="266.3" cy="341.7" r="1.33" fill="#ff1a8c" opacity="0.68"/>
<circle cx="267.0" cy="329.8" r="1.04" fill="#ff2a96" opacity="0.78"/>
<circle cx="270.1" cy="350.3" r="1.21" fill="#e0208e" opacity="0.94"/>
<circle cx="271.4" cy="358.2" r="1.10" fill="#ff3ca8" opacity="0.55"/>
<circle cx="263.5" cy="367.9" r="0.97" fill="#f0188a" opacity="0.93"/>
<circle cx="268.5" cy="329.8" r="1.04" fill="#f0188a" opacity="0.46"/>
<circle cx="273.1" cy="360.6" r="1.49" fill="#ff3ca8" opacity="0.45"/>
<circle cx="271.5" cy="359.1" r="1.07" fill="#e0208e" opacity="0.75"/>
<circle cx="266.0" cy="323.7" r="0.76" fill="#ff2a96" opacity="0.76"/>
<circle cx="264.5" cy="348.3" r="1.29" fill="#f0188a" opacity="0.57"/>
<circle cx="278.8" cy="357.5" r="0.76" fill="#ff3ca8" opacity="0.64"/>
<circle cx="261.4" cy="333.5" r="1.41" fill="#ff2a96" opacity="0.65"/>
<circle cx="262.7" cy="317.6" r="1.04" fill="#ff3ca8" opacity="0.78"/>
<circle cx="267.0" cy="351.7" r="1.11" fill="#ff3ca8" opacity="0.85"/>
<circle cx="262.6" cy="344.4" r="1.35" fill="#ff1a8c" opacity="0.88"/>
<circle cx="267.3" cy="340.0" r="0.82" fill="#ff3ca8" opacity="0.48"/>
<circle cx="267.6" cy="365.0" r="1.03" fill="#f0188a" opacity="0.52"/>
<circle cx="259.2" cy="323.9" r="1.03" fill="#ff2a96" opacity="0.90"/>
<circle cx="270.7" cy="336.6" r="0.93" fill="#ff3ca8" opacity="0.69"/>
<circle cx="265.1" cy="355.0" r="0.72" fill="#e0208e" opacity="0.59"/>
<circle cx="267.8" cy="342.2" r="1.22" fill="#ff1a8c" opacity="0.58"/>
<circle cx="272.0" cy="337.1" r="1.46" fill="#ff3ca8" opacity="0.58"/>
<circle cx="266.9" cy="348.2" r="0.69" fill="#ff1a8c" opacity="0.54"/>
<circle cx="261.4" cy="326.5" r="0.66" fill="#ff1a8c" opacity="0.78"/>
<circle cx="273.1" cy="354.2" r="0.89" fill="#ff3ca8" opacity="0.89"/>
<circle cx="266.2" cy="335.6" r="1.37" fill="#ff2a96" opacity="0.80"/>
<circle cx="268.0" cy="337.9" r="1.24" fill="#ff1a8c" opacity="0.85"/>
<circle cx="268.8" cy="357.6" r="0.66" fill="#e0208e" opacity="0.54"/>
<circle cx="264.6" cy="339.4" r="1.23" fill="#f0188a" opacity="0.82"/>
<circle cx="271.5" cy="342.3" r="1.25" fill="#f0188a" opacity="0.86"/>
<circle cx="262.8" cy="347.3" r="1.12" fill="#e0208e" opacity="0.75"/>
<circle cx="268.1" cy="319.2" r="1.47" fill="#f0188a" opacity="0.60"/>
<circle cx="262.3" cy="325.3" r="0.77" fill="#e0208e" opacity="0.86"/>
<circle cx="267.8" cy="355.0" r="0.89" fill="#ff3ca8" opacity="0.50"/>
<circle cx="269.4" cy="346.9" r="1.33" fill="#ff3ca8" opacity="0.70"/>
<circle cx="265.9" cy="362.0" r="1.24" fill="#ff3ca8" opacity="0.71"/>
<circle cx="271.9" cy="331.1" r="0.80" fill="#ff1a8c" opacity="0.78"/>
<circle cx="269.6" cy="352.9" r="1.13" fill="#ff3ca8" opacity="0.81"/>
<circle cx="269.5" cy="332.1" r="0.95" fill="#ff3ca8" opacity="0.56"/>
<circle cx="264.6" cy="359.5" r="0.63" fill="#ff2a96" opacity="0.70"/>
<circle cx="257.8" cy="336.0" r="1.30" fill="#e0208e" opacity="0.78"/>
<circle cx="262.3" cy="355.7" r="1.21" fill="#ff2a96" opacity="0.69"/>
<circle cx="268.5" cy="330.0" r="0.94" fill="#e0208e" opacity="0.93"/>
<circle cx="268.5" cy="343.6" r="0.88" fill="#f0188a" opacity="0.89"/>
<circle cx="266.3" cy="340.7" r="0.76" fill="#e0208e" opacity="0.60"/>
<circle cx="265.5" cy="363.6" r="1.02" fill="#ff1a8c" opacity="0.95"/>
<circle cx="273.3" cy="349.5" r="1.21" fill="#f0188a" opacity="0.77"/>
<circle cx="264.8" cy="337.5" r="1.46" fill="#f0188a" opacity="0.71"/>
<circle cx="264.9" cy="355.5" r="0.81" fill="#f0188a" opacity="0.81"/>
<circle cx="272.8" cy="349.7" r="0.96" fill="#ff3ca8" opacity="0.76"/>
<circle cx="271.7" cy="340.3" r="0.95" fill="#f0188a" opacity="0.50"/>
<circle cx="267.9" cy="351.6" r="0.92" fill="#f0188a" opacity="0.46"/>
<circle cx="268.5" cy="338.0" r="1.15" fill="#ff3ca8" opacity="0.57"/>
<circle cx="268.8" cy="359.5" r="0.69" fill="#f0188a" opacity="0.55"/>
<circle cx="268.8" cy="341.3" r="0.75" fill="#e0208e" opacity="0.85"/>
<circle cx="262.8" cy="349.5" r="0.64" fill="#ff2a96" opacity="0.66"/>
<circle cx="265.9" cy="349.8" r="1.12" fill="#e0208e" opacity="0.91"/>
<circle cx="267.8" cy="344.0" r="1.12" fill="#ff1a8c" opacity="0.67"/>
<circle cx="254.9" cy="362.9" r="1.19" fill="#ff2a96" opacity="0.48"/>
<circle cx="262.0" cy="349.6" r="1.16" fill="#ff3ca8" opacity="0.79"/>
<circle cx="265.8" cy="338.4" r="0.74" fill="#f0188a" opacity="0.60"/>
<circle cx="260.7" cy="321.5" r="0.66" fill="#ff1a8c" opacity="0.54"/>
<circle cx="274.1" cy="363.4" r="0.92" fill="#f0188a" opacity="0.48"/>
<circle cx="269.9" cy="357.9" r="1.21" fill="#ff3ca8" opacity="0.53"/>
<circle cx="275.8" cy="367.7" r="1.08" fill="#ff3ca8" opacity="0.55"/>
<circle cx="280.6" cy="354.1" r="0.98" fill="#f0188a" opacity="0.86"/>
<circle cx="270.0" cy="342.9" r="0.92" fill="#e0208e" opacity="0.77"/>
<circle cx="267.7" cy="340.2" r="0.93" fill="#ff3ca8" opacity="0.53"/>
<circle cx="260.9" cy="357.0" r="1.42" fill="#ff1a8c" opacity="0.56"/>
<circle cx="257.4" cy="347.2" r="1.08" fill="#ff1a8c" opacity="0.94"/>
<circle cx="264.9" cy="364.9" r="0.61" fill="#f0188a" opacity="0.54"/>
<circle cx="269.7" cy="341.7" r="0.94" fill="#ff2a96" opacity="0.54"/>
<circle cx="267.5" cy="358.3" r="0.97" fill="#ff2a96" opacity="0.95"/>
<circle cx="265.5" cy="319.2" r="1.27" fill="#f0188a" opacity="0.91"/>
<circle cx="275.5" cy="343.2" r="0.92" fill="#f0188a" opacity="0.74"/>
<circle cx="268.1" cy="372.8" r="1.46" fill="#ff1a8c" opacity="0.94"/>
<circle cx="260.0" cy="340.6" r="0.79" fill="#e0208e" opacity="0.71"/>
<circle cx="264.7" cy="355.3" r="0.71" fill="#ff2a96" opacity="0.78"/>
<circle cx="264.7" cy="330.2" r="1.05" fill="#ff2a96" opacity="0.78"/>
<circle cx="274.0" cy="341.7" r="0.94" fill="#ff3ca8" opacity="0.69"/>
<circle cx="271.1" cy="368.8" r="0.79" fill="#f0188a" opacity="0.74"/>
<circle cx="260.5" cy="349.4" r="1.26" fill="#ff2a96" opacity="0.64"/>
<circle cx="268.8" cy="341.0" r="1.20" fill="#e0208e" opacity="0.60"/>
<circle cx="263.5" cy="349.7" r="1.04" fill="#e0208e" opacity="0.86"/>
<circle cx="268.7" cy="337.3" r="0.93" fill="#ff2a96" opacity="0.70"/>
<circle cx="269.7" cy="328.5" r="1.17" fill="#e0208e" opacity="0.81"/>
<circle cx="270.2" cy="351.7" r="0.69" fill="#f0188a" opacity="0.82"/>
<circle cx="269.2" cy="335.0" r="1.40" fill="#e0208e" opacity="0.87"/>
<circle cx="267.2" cy="346.3" r="0.88" fill="#ff2a96" opacity="0.52"/>
<circle cx="264.9" cy="347.4" r="1.21" fill="#f0188a" opacity="0.77"/>
<circle cx="268.3" cy="334.5" r="1.29" fill="#ff3ca8" opacity="0.56"/>
<circle cx="264.2" cy="337.1" r="1.18" fill="#f0188a" opacity="0.45"/>
<circle cx="265.0" cy="348.3" r="0.84" fill="#ff3ca8" opacity="0.48"/>
<circle cx="261.4" cy="342.7" r="1.06" fill="#ff2a96" opacity="0.75"/>
<circle cx="270.6" cy="326.5" r="1.47" fill="#f0188a" opacity="0.67"/>
<circle cx="272.6" cy="350.9" r="1.00" fill="#ff3ca8" opacity="0.81"/>
<circle cx="265.6" cy="329.1" r="0.81" fill="#ff3ca8" opacity="0.87"/>
<circle cx="257.4" cy="346.7" r="1.27" fill="#f0188a" opacity="0.70"/>
<circle cx="276.5" cy="354.8" r="0.89" fill="#f0188a" opacity="0.60"/>
<circle cx="267.2" cy="357.1" r="0.78" fill="#ff1a8c" opacity="0.76"/>
<circle cx="265.5" cy="347.7" r="0.70" fill="#e0208e" opacity="0.77"/>
<circle cx="266.6" cy="337.1" r="0.71" fill="#ff2a96" opacity="0.72"/>
<circle cx="270.5" cy="351.0" r="1.14" fill="#ff1a8c" opacity="0.57"/>
<circle cx="272.3" cy="319.5" r="1.44" fill="#ff1a8c" opacity="0.65"/>
<circle cx="266.1" cy="366.6" r="1.22" fill="#ff3ca8" opacity="0.47"/>
<circle cx="261.7" cy="344.5" r="0.76" fill="#ff1a8c" opacity="0.84"/>
<circle cx="274.4" cy="341.3" r="0.84" fill="#ff2a96" opacity="0.59"/>
<circle cx="272.9" cy="330.8" r="0.84" fill="#f0188a" opacity="0.48"/>
<circle cx="270.7" cy="340.6" r="0.89" fill="#ff2a96" opacity="0.83"/>
<circle cx="272.1" cy="349.1" r="0.70" fill="#ff3ca8" opacity="0.90"/>
<circle cx="271.1" cy="364.1" r="1.34" fill="#e0208e" opacity="0.80"/>
<circle cx="264.3" cy="331.0" r="1.10" fill="#f0188a" opacity="0.81"/>
<circle cx="270.6" cy="360.8" r="1.15" fill="#ff3ca8" opacity="0.54"/>
<circle cx="265.7" cy="354.6" r="0.78" fill="#ff1a8c" opacity="0.56"/>
<circle cx="269.2" cy="366.0" r="1.37" fill="#ff3ca8" opacity="0.57"/>
<circle cx="276.0" cy="350.0" r="1.41" fill="#ff2a96" opacity="0.80"/>
<circle cx="269.1" cy="329.6" r="1.40" fill="#ff2a96" opacity="0.59"/>
<circle cx="260.5" cy="342.0" r="1.26" fill="#ff1a8c" opacity="0.89"/>
<circle cx="273.0" cy="335.6" r="1.48" fill="#ff2a96" opacity="0.81"/>
<circle cx="269.7" cy="360.1" r="1.42" fill="#ff2a96" opacity="0.85"/>
<circle cx="262.9" cy="324.4" r="1.31" fill="#ff1a8c" opacity="0.90"/>
<circle cx="255.6" cy="359.3" r="1.05" fill="#e0208e" opacity="0.56"/>
<circle cx="278.2" cy="357.1" r="0.94" fill="#f0188a" opacity="0.83"/>
<circle cx="268.3" cy="337.6" r="1.24" fill="#ff1a8c" opacity="0.53"/>
<circle cx="272.3" cy="354.2" r="0.67" fill="#f0188a" opacity="0.51"/>
<circle cx="268.2" cy="330.3" r="1.00" fill="#f0188a" opacity="0.66"/>
<circle cx="273.8" cy="324.4" r="0.70" fill="#f0188a" opacity="0.45"/>
<circle cx="264.5" cy="353.2" r="1.42" fill="#f0188a" opacity="0.87"/>
<circle cx="272.1" cy="350.5" r="1.44" fill="#f0188a" opacity="0.55"/>
<circle cx="270.4" cy="345.3" r="1.31" fill="#ff2a96" opacity="0.45"/>
<circle cx="271.1" cy="337.4" r="0.91" fill="#ff2a96" opacity="0.70"/>
<circle cx="268.8" cy="345.3" r="0.89" fill="#e0208e" opacity="0.57"/>
<circle cx="271.8" cy="350.6" r="1.25" fill="#e0208e" opacity="0.83"/>
<circle cx="275.4" cy="368.3" r="0.88" fill="#f0188a" opacity="0.61"/>
<circle cx="263.4" cy="340.0" r="1.32" fill="#f0188a" opacity="0.82"/>
<circle cx="264.6" cy="340.6" r="0.89" fill="#f0188a" opacity="0.86"/>
<circle cx="265.2" cy="343.1" r="1.46" fill="#e0208e" opacity="0.93"/>
<circle cx="265.7" cy="355.6" r="1.22" fill="#ff2a96" opacity="0.54"/>
<circle cx="258.7" cy="312.4" r="1.39" fill="#ff3ca8" opacity="0.49"/>
<circle cx="262.6" cy="338.4" r="1.42" fill="#ff2a96" opacity="0.86"/>
<circle cx="264.6" cy="358.3" r="0.61" fill="#ff1a8c" opacity="0.94"/>
<circle cx="267.4" cy="319.8" r="0.60" fill="#ff1a8c" opacity="0.89"/>
<circle cx="271.4" cy="354.1" r="1.49" fill="#ff3ca8" opacity="0.84"/>
<circle cx="268.8" cy="331.0" r="1.11" fill="#ff2a96" opacity="0.60"/>
<circle cx="267.2" cy="349.0" r="1.43" fill="#f0188a" opacity="0.73"/>
<circle cx="263.3" cy="343.7" r="1.27" fill="#f0188a" opacity="0.72"/>
<circle cx="269.2" cy="347.4" r="0.78" fill="#ff2a96" opacity="0.68"/>
<circle cx="269.6" cy="325.4" r="0.82" fill="#e0208e" opacity="0.69"/>
<circle cx="260.7" cy="344.9" r="0.88" fill="#e0208e" opacity="0.74"/>
<circle cx="269.1" cy="327.5" r="0.81" fill="#f0188a" opacity="0.55"/>
<circle cx="274.4" cy="349.5" r="1.46" fill="#ff2a96" opacity="0.50"/>
<circle cx="264.5" cy="340.2" r="1.28" fill="#ff3ca8" opacity="0.75"/>
<circle cx="274.6" cy="339.9" r="0.68" fill="#e0208e" opacity="0.77"/>
<circle cx="266.6" cy="337.2" r="0.86" fill="#ff1a8c" opacity="0.55"/>
<circle cx="266.6" cy="321.0" r="1.06" fill="#e0208e" opacity="0.70"/>
<circle cx="261.4" cy="347.9" r="1.18" fill="#ff3ca8" opacity="0.95"/>
<circle cx="264.2" cy="350.1" r="1.16" fill="#ff2a96" opacity="0.67"/>
<circle cx="268.9" cy="353.6" r="0.94" fill="#ff2a96" opacity="0.90"/>
<circle cx="265.1" cy="336.0" r="1.25" fill="#ff3ca8" opacity="0.70"/>
<circle cx="262.8" cy="316.6" r="0.65" fill="#f0188a" opacity="0.58"/>
<circle cx="266.9" cy="358.7" r="1.06" fill="#f0188a" opacity="0.79"/>
<circle cx="267.5" cy="351.9" r="0.77" fill="#f0188a" opacity="0.78"/>
<circle cx="266.7" cy="349.1" r="1.12" fill="#f0188a" opacity="0.75"/>
<circle cx="260.8" cy="338.2" r="0.68" fill="#ff1a8c" opacity="0.87"/>
<circle cx="266.6" cy="335.1" r="0.96" fill="#f0188a" opacity="0.68"/>
<circle cx="269.3" cy="350.1" r="0.77" fill="#e0208e" opacity="0.64"/>
<circle cx="266.3" cy="336.1" r="1.32" fill="#ff3ca8" opacity="0.62"/>
<circle cx="265.4" cy="337.5" r="1.06" fill="#ff2a96" opacity="0.50"/>
<circle cx="268.3" cy="345.9" r="1.47" fill="#f0188a" opacity="0.72"/>
<circle cx="262.8" cy="346.5" r="0.68" fill="#ff3ca8" opacity="0.48"/>
<circle cx="244.0" cy="380.3" r="0.7" fill="#c01a90" opacity="0.7"/>
<circle cx="237.6" cy="338.1" r="0.7" fill="#c01a90" opacity="0.7"/>
<circle cx="235.6" cy="334.9" r="0.7" fill="#c01a90" opacity="0.7"/>
<circle cx="246.7" cy="355.1" r="0.7" fill="#c01a90" opacity="0.7"/>
<circle cx="232.0" cy="354.8" r="0.7" fill="#c01a90" opacity="0.7"/>
<circle cx="234.3" cy="345.6" r="0.7" fill="#c01a90" opacity="0.7"/>
<circle cx="239.0" cy="333.1" r="0.7" fill="#c01a90" opacity="0.7"/>
<circle cx="226.3" cy="380.0" r="0.7" fill="#c01a90" opacity="0.7"/>
<circle cx="244.2" cy="370.7" r="0.7" fill="#c01a90" opacity="0.7"/>
<circle cx="237.5" cy="343.3" r="0.7" fill="#c01a90" opacity="0.7"/>
<circle cx="227.0" cy="361.6" r="0.7" fill="#c01a90" opacity="0.7"/>
<circle cx="237.0" cy="342.8" r="0.7" fill="#c01a90" opacity="0.7"/>
<circle cx="249.9" cy="370.5" r="0.7" fill="#c01a90" opacity="0.7"/>
<circle cx="232.8" cy="379.1" r="0.7" fill="#c01a90" opacity="0.7"/>
<circle cx="248.3" cy="378.3" r="0.7" fill="#c01a90" opacity="0.7"/>
<circle cx="245.4" cy="347.2" r="0.7" fill="#c01a90" opacity="0.7"/>
</g>
</g>
<path d="M246.5,310 C250,308.5 254,308.6 258,309.2 C264,311 268.5,313.5 272,318 C277,324 280.5,333 281.8,346 C282.3,353 281,359 279.5,361.5 C278,366 276.5,369 274.5,370.5 C271,373.5 267,375 263,375 C258,375 254.5,374.5 252,372.5 C249,370 247.8,367 247.2,362 C246.8,356 249.5,351 250.6,346 C251.4,340 251,335 250,330 C249,325 247.5,321 246.5,317.5 C245.8,314.5 245.8,311.5 246.5,310 Z" fill="none" stroke="#e8e8f0" stroke-width="0.7" stroke-dasharray="1.6,1.2" opacity="0.9"/>
<text x="248.9" y="297.9" text-anchor="start" font-size="9.4" fill="#ececf2" stroke="#ececf2" stroke-width="0.16">ENVA-ΔG-</text>
<text x="248.9" y="306.8" text-anchor="start" font-size="9.4" fill="#e070d8" stroke="#e070d8" stroke-width="0.16">mCherry</text>
<defs><marker id="ahw" viewBox="0 0 6 6" refX="4" refY="3" markerWidth="3.5" markerHeight="3.5" orient="auto"><path d="M0,0.5 L6,3 L0,5.5 L1.5,3 z" fill="#fff"/></marker></defs>
<line x1="237.2" y1="376.5" x2="243.8" y2="370.2" stroke="#fff" stroke-width="0.8" marker-end="url(#ahw)"/>
<text x="224.2" y="389.8" text-anchor="start" font-size="9.4" fill="#ececf2" stroke="#ececf2" stroke-width="0.16">contra SpV</text>
<rect x="267.20" y="392.60" width="27.60" height="1.50" fill="#fff" stroke="none" stroke-width="0.8"/>
<circle cx="223.4" cy="417.8" r="9.2" fill="none" stroke="#555" stroke-width="6.200000000000001"/>
<path d="M221.69,405.62 A12.3,12.3 0 0 1 224.69,405.57 L224.04,411.73 A6.1,6.1 0 0 0 222.55,411.76 Z" fill="#e8e8e8" stroke="none" stroke-width="0.7"/>
<circle cx="223.4" cy="448.4" r="12.3" fill="#fde4ec" stroke="#e8507a" stroke-width="0.9"/>
<circle cx="223.4" cy="448.4" r="6.2" fill="#fff" stroke="#e8507a" stroke-width="0.9"/>
<circle cx="223.4" cy="448.4" r="9.25" fill="none" stroke="none" stroke-width="6.1000000000000005"/>
<path d="M219.80,436.64 A12.3,12.3 0 0 1 226.58,436.52 L225.00,442.41 A6.2,6.2 0 0 0 221.59,442.47 Z" fill="#fff" stroke="#444" stroke-width="0.7"/>
<text x="239.9" y="413.8" text-anchor="start" font-size="9.4" fill="#222" stroke="#222" stroke-width="0.16">Percentage of <tspan font-style="italic">Vglut2</tspan>+</text>
<text x="239.9" y="425.0" text-anchor="start" font-size="9.4" fill="#aaa" stroke="#aaa" stroke-width="0.16">versus <tspan font-style="italic">Vglut2</tspan>–</text>
<text x="239.9" y="448.0" text-anchor="start" font-size="9.4" fill="#d41fa8" stroke="#d41fa8" stroke-width="0.16">Percentage of contra</text>
<text x="239.9" y="458.6" text-anchor="start" font-size="9.4" fill="#222" stroke="#222" stroke-width="0.16">versus ipsi</text>
<text x="340.2" y="326.8" text-anchor="start" font-size="9.4" fill="#222" stroke="#222" stroke-width="0.16">Record from</text>
<text x="340.2" y="336.2" text-anchor="start" font-size="9.4" fill="#222" stroke="#222" stroke-width="0.16">SPFp integration</text>
<text x="340.2" y="345.4" text-anchor="start" font-size="9.4" fill="#222" stroke="#222" stroke-width="0.16">cells</text>
<text x="400.0" y="357.8" text-anchor="middle" font-size="9.4" fill="#2e9fd4" stroke="#2e9fd4" stroke-width="0.16">Opto stim</text>
<text x="371.7" y="367.1" text-anchor="start" font-size="9.4" fill="#2e9fd4" stroke="#2e9fd4" stroke-width="0.16">MPOA<tspan font-size="6.4" font-style="italic" dy="-3.4">Esr1∩Vgat</tspan></text>
<text x="372.1" y="440.6" text-anchor="middle" font-size="9.4" fill="#4444dd" stroke="#4444dd" stroke-width="0.16">Opto stim</text>
<text x="355.4" y="451.2" text-anchor="start" font-size="9.4" fill="#4444dd" stroke="#4444dd" stroke-width="0.16">SpV<tspan font-size="6.4" font-style="italic" dy="-3.4">Vgat−</tspan></text>
<g transform="translate(0,0)" fill="none" stroke="#3a3a3a" stroke-width="0.6">
<path d="M368.5,382.5 C375,378.5 385,377 393,377.8 C401,379 407,382.5 410.5,388 C412.5,392 413.5,397 413.6,402 C413.5,407 412.5,411.5 410.5,415.5 C406.5,421.5 399,425.5 391,427 C383,428 374,426 368.5,421.5"/>
<path d="M411.5,394.2 C415,392.5 420,393 421.5,397 C422.3,400 420.5,402 413.6,402 M413.6,402 C420.5,402 422.3,404 421.5,407 C420,411 415,411.5 411.5,409.5"/>
<path d="M352,401.8 L421.7,401.8 M340.2,401.8 L352,401.8"/>
<path d="M367.6,392 L376.5,401.8 L367.6,411.5"/>
<path d="M356,385.5 C359,383.5 363,381.8 368.5,382.5 M356,418.5 C359,420.5 363,422 368.5,421.5"/>
<path d="M340.2,396.6 C346,396 350,393 356,385.5 M340.2,406.8 C346,407.5 350,410 356,418.5"/>
<path d="M355.0,386.0 C351.0,392.0 351.0,397.0 353.0,401.8 C351.0,406.5 351.0,411.5 355.0,417.6"/>
<path d="M358.0,385.4 C354.0,392.0 354.0,397.0 356.0,401.8 C354.0,406.5 354.0,411.5 358.0,418.2"/>
<path d="M361.0,384.8 C357.0,392.0 357.0,397.0 359.0,401.8 C357.0,406.5 357.0,411.5 361.0,418.8"/>
<path d="M364.0,384.2 C360.0,392.0 360.0,397.0 362.0,401.8 C360.0,406.5 360.0,411.5 364.0,419.4"/>
<path d="M367.0,383.0 C363.0,392.0 363.0,397.0 365.0,401.8 C363.0,406.5 363.0,411.5 367.0,420.6"/>
<path d="M370.0,383.0 C366.0,392.0 366.0,397.0 368.0,401.8 C366.0,406.5 366.0,411.5 370.0,420.6"/>
</g>
<line x1="362.5" y1="365.0" x2="373.2" y2="378.6" stroke="#d89a30" stroke-width="3.2"/>
<g transform="translate(358.2 360.7) rotate(-32)"><rect x="-4.8" y="-3.6" width="9.6" height="7.2" fill="#2e5a2a"/><rect x="-3.6" y="-2.2" width="3" height="2.2" fill="#111"/><rect x="0.4" y="-2.2" width="3" height="2.2" fill="#111"/><rect x="-3.2" y="1" width="6.5" height="1.2" fill="#111"/></g>
<g transform="translate(373.4 379.6) rotate(-32)"><rect x="-2.8" y="-2.4" width="5.6" height="4.8" fill="#2e5a2a"/></g>
<line x1="374.6" y1="381.6" x2="377.2" y2="384.6" stroke="#222" stroke-width="1.4"/>
<path d="M355,357 C354.5,353 355.5,350.5 357.3,348.2" fill="none" stroke="#444" stroke-width="0.5"/>
<ellipse cx="382.4" cy="389.5" rx="5" ry="3.6" fill="none" stroke="#111" stroke-width="0.9" transform="rotate(25 382.4 389.5)"/>
<defs><marker id="ahc" viewBox="0 0 6 6" refX="4" refY="3" markerWidth="3.2" markerHeight="3.2" orient="auto"><path d="M0,0.3 L6,3 L0,5.7 z" fill="#2eaee0"/></marker><marker id="ahb" viewBox="0 0 6 6" refX="4" refY="3" markerWidth="3.2" markerHeight="3.2" orient="auto"><path d="M0,0.3 L6,3 L0,5.7 z" fill="#3333bb"/></marker></defs>
<line x1="398.8" y1="376.0" x2="398.8" y2="389.5" stroke="#111" stroke-width="1.8"/>
<line x1="398.8" y1="376.2" x2="401.7" y2="372.5" stroke="#222" stroke-width="0.5"/>
<path d="M397.2,388.8 L400.4,388.8 L403.6,394.2 L394.0,394.2 Z" fill="#9fd9f0" stroke="none" stroke-width="0.8"/>
<rect x="394.2" y="394.6" width="8.4" height="5.2" rx="2" fill="#fff" stroke="#2eaee0" stroke-width="1.2"/>
<circle cx="397.8" cy="397.3" r="1.1" fill="#2eaee0"/>
<path d="M394.0,396.4 C391.5,395.2 389.2,393.6 386.6,391.8" fill="none" stroke="#2eaee0" stroke-width="0.9" marker-end="url(#ahc)"/>
<line x1="368.3" y1="418.5" x2="368.3" y2="429.0" stroke="#111" stroke-width="1.8"/>
<path d="M368.6,428.5 C369.2,429.5 370,430.3 371,431" fill="none" stroke="#222" stroke-width="0.5"/>
<rect x="362.4" y="410.9" width="11.9" height="5.6" rx="2.4" fill="#fff" stroke="#3333bb" stroke-width="1.2"/>
<path d="M364.4,414.6 L372.2,414.6 L370.0,418.8 L366.6,418.8 Z" fill="#9fd9f0" stroke="none" stroke-width="0.8"/>
<circle cx="369.3" cy="413.3" r="1.2" fill="#3333bb"/>
<path d="M369.2,412.8 C368.6,405 368.2,397 369.6,392.5 C371,389.3 374.5,388.2 379.2,388.6" fill="none" stroke="#3333bb" stroke-width="0.9" marker-end="url(#ahb)"/>
<text x="499.4" y="298.2" text-anchor="middle" font-size="9.4" fill="#222" stroke="#222" stroke-width="0.16">Integration</text>
<text x="499.8" y="307.3" text-anchor="middle" font-size="9.4" fill="#222" stroke="#222" stroke-width="0.16">example cell</text>
<text x="458.0" y="327.5" text-anchor="start" font-size="9.4" fill="#222" stroke="#222" stroke-width="0.16">Stim<tspan font-size="6.4" dy="-3.4">MPOA</tspan></text>
<text x="477.2" y="338.2" text-anchor="middle" font-size="9.4" fill="#222" stroke="#222" stroke-width="0.16">+ contact</text>
<text x="515.2" y="336.5" text-anchor="start" font-size="9.4" fill="#222" stroke="#222" stroke-width="0.16">Stim<tspan font-size="6.4" dy="-3.4">MPOA</tspan></text>
<text x="480.1" y="409.3" text-anchor="middle" font-size="9.4" fill="#222" stroke="#222" stroke-width="0.16">Contact</text>
<text x="519.2" y="410.0" text-anchor="start" font-size="9.4" fill="#222" stroke="#222" stroke-width="0.16">Stim<tspan font-size="6.4" dy="-3.4">SpV</tspan></text>
<text x="444.2" y="366.4" text-anchor="middle" font-size="9.4" fill="#222" stroke="#222" stroke-width="0.16">×10</text>
<text x="444.2" y="376.4" text-anchor="middle" font-size="9.4" fill="#222" stroke="#222" stroke-width="0.16">trials</text>
<text x="444.2" y="433.8" text-anchor="middle" font-size="9.4" fill="#222" stroke="#222" stroke-width="0.16">×10</text>
<text x="444.2" y="443.8" text-anchor="middle" font-size="9.4" fill="#222" stroke="#222" stroke-width="0.16">trials</text>
<rect x="470.00" y="341.60" width="21.00" height="3.20" fill="#f2a640" stroke="none" stroke-width="0.8"/>
<rect x="472.20" y="341.60" width="16.80" height="3.20" fill="#d8506e" stroke="none" stroke-width="0.8"/>
<rect x="463.30" y="345.70" width="35.70" height="2.40" fill="#4cc0ec" stroke="none" stroke-width="0.8"/>
<rect x="513.90" y="342.80" width="36.00" height="2.40" fill="#4cc0ec" stroke="none" stroke-width="0.8"/>
<rect x="470.20" y="413.10" width="20.90" height="2.70" fill="#f2a640" stroke="none" stroke-width="0.8"/>
<rect x="472.40" y="413.10" width="16.50" height="2.70" fill="#d8506e" stroke="none" stroke-width="0.8"/>
<rect x="514.10" y="413.50" width="36.00" height="2.60" fill="#4a4ac0" stroke="none" stroke-width="0.8"/>
<line x1="460.9" y1="349.3" x2="460.9" y2="387.0" stroke="#444" stroke-width="0.6"/>
<line x1="456.4" y1="349.3" x2="460.9" y2="349.3" stroke="#444" stroke-width="0.6"/>
<line x1="457.9" y1="353.4888888888889" x2="460.9" y2="353.4888888888889" stroke="#444" stroke-width="0.6"/>
<line x1="456.4" y1="357.6777777777778" x2="460.9" y2="357.6777777777778" stroke="#444" stroke-width="0.6"/>
<line x1="457.9" y1="361.8666666666667" x2="460.9" y2="361.8666666666667" stroke="#444" stroke-width="0.6"/>
<line x1="456.4" y1="366.05555555555554" x2="460.9" y2="366.05555555555554" stroke="#444" stroke-width="0.6"/>
<line x1="457.9" y1="370.24444444444447" x2="460.9" y2="370.24444444444447" stroke="#444" stroke-width="0.6"/>
<line x1="456.4" y1="374.43333333333334" x2="460.9" y2="374.43333333333334" stroke="#444" stroke-width="0.6"/>
<line x1="457.9" y1="378.6222222222222" x2="460.9" y2="378.6222222222222" stroke="#444" stroke-width="0.6"/>
<line x1="456.4" y1="382.81111111111113" x2="460.9" y2="382.81111111111113" stroke="#444" stroke-width="0.6"/>
<line x1="457.9" y1="387.0" x2="460.9" y2="387.0" stroke="#444" stroke-width="0.6"/>
<line x1="511.0" y1="348.5" x2="511.0" y2="386.5" stroke="#444" stroke-width="0.6"/>
<line x1="506.5" y1="348.5" x2="511.0" y2="348.5" stroke="#444" stroke-width="0.6"/>
<line x1="508.0" y1="352.72222222222223" x2="511.0" y2="352.72222222222223" stroke="#444" stroke-width="0.6"/>
<line x1="506.5" y1="356.94444444444446" x2="511.0" y2="356.94444444444446" stroke="#444" stroke-width="0.6"/>
<line x1="508.0" y1="361.1666666666667" x2="511.0" y2="361.1666666666667" stroke="#444" stroke-width="0.6"/>
<line x1="506.5" y1="365.3888888888889" x2="511.0" y2="365.3888888888889" stroke="#444" stroke-width="0.6"/>
<line x1="508.0" y1="369.6111111111111" x2="511.0" y2="369.6111111111111" stroke="#444" stroke-width="0.6"/>
<line x1="506.5" y1="373.8333333333333" x2="511.0" y2="373.8333333333333" stroke="#444" stroke-width="0.6"/>
<line x1="508.0" y1="378.05555555555554" x2="511.0" y2="378.05555555555554" stroke="#444" stroke-width="0.6"/>
<line x1="506.5" y1="382.27777777777777" x2="511.0" y2="382.27777777777777" stroke="#444" stroke-width="0.6"/>
<line x1="508.0" y1="386.5" x2="511.0" y2="386.5" stroke="#444" stroke-width="0.6"/>
<line x1="460.4" y1="417.3" x2="460.4" y2="454.8" stroke="#444" stroke-width="0.6"/>
<line x1="455.9" y1="417.3" x2="460.4" y2="417.3" stroke="#444" stroke-width="0.6"/>
<line x1="457.4" y1="421.4666666666667" x2="460.4" y2="421.4666666666667" stroke="#444" stroke-width="0.6"/>
<line x1="455.9" y1="425.6333333333333" x2="460.4" y2="425.6333333333333" stroke="#444" stroke-width="0.6"/>
<line x1="457.4" y1="429.8" x2="460.4" y2="429.8" stroke="#444" stroke-width="0.6"/>
<line x1="455.9" y1="433.9666666666667" x2="460.4" y2="433.9666666666667" stroke="#444" stroke-width="0.6"/>
<line x1="457.4" y1="438.1333333333333" x2="460.4" y2="438.1333333333333" stroke="#444" stroke-width="0.6"/>
<line x1="455.9" y1="442.3" x2="460.4" y2="442.3" stroke="#444" stroke-width="0.6"/>
<line x1="457.4" y1="446.4666666666667" x2="460.4" y2="446.4666666666667" stroke="#444" stroke-width="0.6"/>
<line x1="455.9" y1="450.6333333333333" x2="460.4" y2="450.6333333333333" stroke="#444" stroke-width="0.6"/>
<line x1="457.4" y1="454.8" x2="460.4" y2="454.8" stroke="#444" stroke-width="0.6"/>
<line x1="509.7" y1="418.2" x2="509.7" y2="456.7" stroke="#444" stroke-width="0.6"/>
<line x1="505.2" y1="418.2" x2="509.7" y2="418.2" stroke="#444" stroke-width="0.6"/>
<line x1="506.7" y1="422.47777777777776" x2="509.7" y2="422.47777777777776" stroke="#444" stroke-width="0.6"/>
<line x1="505.2" y1="426.75555555555553" x2="509.7" y2="426.75555555555553" stroke="#444" stroke-width="0.6"/>
<line x1="506.7" y1="431.0333333333333" x2="509.7" y2="431.0333333333333" stroke="#444" stroke-width="0.6"/>
<line x1="505.2" y1="435.3111111111111" x2="509.7" y2="435.3111111111111" stroke="#444" stroke-width="0.6"/>
<line x1="506.7" y1="439.5888888888889" x2="509.7" y2="439.5888888888889" stroke="#444" stroke-width="0.6"/>
<line x1="505.2" y1="443.8666666666667" x2="509.7" y2="443.8666666666667" stroke="#444" stroke-width="0.6"/>
<line x1="506.7" y1="448.14444444444445" x2="509.7" y2="448.14444444444445" stroke="#444" stroke-width="0.6"/>
<line x1="505.2" y1="452.4222222222222" x2="509.7" y2="452.4222222222222" stroke="#444" stroke-width="0.6"/>
<line x1="506.7" y1="456.7" x2="509.7" y2="456.7" stroke="#444" stroke-width="0.6"/>
<rect x="464.5" y="349.3" width="0.7" height="8.08" fill="#888"/>
<rect x="465.2" y="349.3" width="0.7" height="4.04" fill="#222"/>
<rect x="467.5" y="349.3" width="0.7" height="4.04" fill="#151515"/>
<rect x="473.8" y="349.3" width="1.0" height="4.04" fill="#555"/>
<rect x="474.8" y="349.3" width="1.0" height="4.04" fill="#222"/>
<rect x="475.8" y="349.3" width="2.4" height="4.04" fill="#0a0a0a"/>
<rect x="479.0" y="349.3" width="1.0" height="4.04" fill="#151515"/>
<rect x="480.8" y="349.3" width="2.4" height="4.04" fill="#aaa"/>
<rect x="483.2" y="349.3" width="1.4" height="4.04" fill="#555"/>
<rect x="484.6" y="349.3" width="1.0" height="8.08" fill="#aaa"/>
<rect x="485.6" y="349.3" width="1.0" height="4.04" fill="#888"/>
<rect x="486.6" y="349.3" width="1.0" height="4.04" fill="#222"/>
<rect x="488.4" y="349.3" width="1.0" height="4.04" fill="#151515"/>
<rect x="492.6" y="349.3" width="1.8" height="4.04" fill="#555"/>
<rect x="474.1" y="353.3" width="1.4" height="4.04" fill="#333"/>
<rect x="476.3" y="353.3" width="1.8" height="4.04" fill="#0a0a0a"/>
<rect x="478.1" y="353.3" width="2.4" height="4.04" fill="#aaa"/>
<rect x="480.5" y="353.3" width="1.0" height="4.04" fill="#aaa"/>
<rect x="482.3" y="353.3" width="0.7" height="4.04" fill="#0a0a0a"/>
<rect x="483.0" y="353.3" width="1.0" height="8.08" fill="#0a0a0a"/>
<rect x="484.0" y="353.3" width="1.8" height="4.04" fill="#0a0a0a"/>
<rect x="486.6" y="353.3" width="1.0" height="4.04" fill="#151515"/>
<rect x="487.6" y="353.3" width="1.8" height="4.04" fill="#888"/>
<rect x="499.0" y="353.3" width="0.8" height="4.04" fill="#0a0a0a"/>
<rect x="473.3" y="357.4" width="1.0" height="4.04" fill="#333"/>
<rect x="474.3" y="357.4" width="2.4" height="4.04" fill="#555"/>
<rect x="476.7" y="357.4" width="1.4" height="4.04" fill="#888"/>
<rect x="478.1" y="357.4" width="1.0" height="4.04" fill="#555"/>
<rect x="479.9" y="357.4" width="1.0" height="4.04" fill="#0a0a0a"/>
<rect x="481.7" y="357.4" width="1.4" height="4.04" fill="#aaa"/>
<rect x="483.1" y="357.4" width="1.0" height="8.08" fill="#888"/>
<rect x="484.1" y="357.4" width="1.0" height="4.04" fill="#aaa"/>
<rect x="485.9" y="357.4" width="1.0" height="4.04" fill="#333"/>
<rect x="487.7" y="357.4" width="1.4" height="4.04" fill="#222"/>
<rect x="493.9" y="357.4" width="1.8" height="4.04" fill="#aaa"/>
<rect x="469.3" y="361.4" width="1.4" height="4.04" fill="#555"/>
<rect x="473.1" y="361.4" width="1.4" height="4.04" fill="#151515"/>
<rect x="474.5" y="361.4" width="0.7" height="4.04" fill="#888"/>
<rect x="476.0" y="361.4" width="0.7" height="4.04" fill="#0a0a0a"/>
<rect x="476.7" y="361.4" width="1.0" height="4.04" fill="#aaa"/>
<rect x="477.7" y="361.4" width="0.7" height="4.04" fill="#555"/>
<rect x="479.2" y="361.4" width="1.0" height="4.04" fill="#0a0a0a"/>
<rect x="480.2" y="361.4" width="1.0" height="4.04" fill="#888"/>
<rect x="481.2" y="361.4" width="0.7" height="8.08" fill="#aaa"/>
<rect x="481.9" y="361.4" width="1.4" height="8.08" fill="#888"/>
<rect x="484.1" y="361.4" width="2.4" height="4.04" fill="#555"/>
<rect x="486.5" y="361.4" width="0.7" height="8.08" fill="#aaa"/>
<rect x="488.0" y="361.4" width="2.4" height="8.08" fill="#222"/>
<rect x="473.3" y="365.5" width="1.8" height="4.04" fill="#aaa"/>
<rect x="475.1" y="365.5" width="1.4" height="4.04" fill="#aaa"/>
<rect x="476.5" y="365.5" width="1.0" height="4.04" fill="#555"/>
<rect x="477.5" y="365.5" width="0.7" height="8.08" fill="#555"/>
<rect x="478.2" y="365.5" width="1.8" height="4.04" fill="#222"/>
<rect x="480.0" y="365.5" width="1.0" height="8.08" fill="#333"/>
<rect x="481.0" y="365.5" width="1.4" height="4.04" fill="#aaa"/>
<rect x="484.0" y="365.5" width="0.7" height="8.08" fill="#151515"/>
<rect x="485.5" y="365.5" width="1.8" height="4.04" fill="#151515"/>
<rect x="488.1" y="365.5" width="1.8" height="4.04" fill="#151515"/>
<rect x="493.9" y="365.5" width="1.0" height="4.04" fill="#222"/>
<rect x="470.1" y="369.5" width="0.7" height="4.04" fill="#555"/>
<rect x="473.2" y="369.5" width="1.0" height="4.04" fill="#888"/>
<rect x="474.2" y="369.5" width="1.4" height="4.04" fill="#151515"/>
<rect x="475.6" y="369.5" width="0.7" height="8.08" fill="#555"/>
<rect x="476.3" y="369.5" width="1.0" height="4.04" fill="#0a0a0a"/>
<rect x="477.3" y="369.5" width="1.8" height="4.04" fill="#aaa"/>
<rect x="479.1" y="369.5" width="1.4" height="4.04" fill="#888"/>
<rect x="481.3" y="369.5" width="1.0" height="4.04" fill="#0a0a0a"/>
<rect x="482.3" y="369.5" width="1.0" height="8.08" fill="#0a0a0a"/>
<rect x="483.3" y="369.5" width="2.4" height="4.04" fill="#0a0a0a"/>
<rect x="485.7" y="369.5" width="1.0" height="4.04" fill="#aaa"/>
<rect x="486.7" y="369.5" width="1.0" height="4.04" fill="#aaa"/>
<rect x="497.3" y="369.5" width="1.8" height="4.04" fill="#555"/>
<rect x="473.3" y="373.5" width="0.7" height="4.04" fill="#888"/>
<rect x="474.0" y="373.5" width="1.4" height="8.08" fill="#333"/>
<rect x="475.4" y="373.5" width="1.4" height="4.04" fill="#222"/>
<rect x="476.8" y="373.5" width="1.0" height="4.04" fill="#151515"/>
<rect x="477.8" y="373.5" width="1.8" height="4.04" fill="#333"/>
<rect x="479.6" y="373.5" width="1.0" height="8.08" fill="#0a0a0a"/>
<rect x="480.6" y="373.5" width="0.7" height="4.04" fill="#aaa"/>
<rect x="481.3" y="373.5" width="0.7" height="4.04" fill="#aaa"/>
<rect x="482.0" y="373.5" width="1.0" height="8.08" fill="#151515"/>
<rect x="483.0" y="373.5" width="1.0" height="4.04" fill="#333"/>
<rect x="484.8" y="373.5" width="1.0" height="8.08" fill="#0a0a0a"/>
<rect x="485.8" y="373.5" width="0.7" height="4.04" fill="#333"/>
<rect x="486.5" y="373.5" width="0.7" height="4.04" fill="#0a0a0a"/>
<rect x="487.2" y="373.5" width="0.7" height="8.08" fill="#0a0a0a"/>
<rect x="487.9" y="373.5" width="1.0" height="4.04" fill="#0a0a0a"/>
<rect x="470.9" y="377.6" width="0.7" height="4.04" fill="#555"/>
<rect x="473.2" y="377.6" width="0.7" height="4.04" fill="#aaa"/>
<rect x="473.9" y="377.6" width="1.8" height="4.04" fill="#0a0a0a"/>
<rect x="475.7" y="377.6" width="1.8" height="8.08" fill="#555"/>
<rect x="477.5" y="377.6" width="1.0" height="4.04" fill="#333"/>
<rect x="478.5" y="377.6" width="1.4" height="8.08" fill="#555"/>
<rect x="479.9" y="377.6" width="1.0" height="8.08" fill="#555"/>
<rect x="480.9" y="377.6" width="1.0" height="4.04" fill="#0a0a0a"/>
<rect x="481.9" y="377.6" width="1.0" height="4.04" fill="#555"/>
<rect x="483.7" y="377.6" width="1.0" height="4.04" fill="#0a0a0a"/>
<rect x="484.7" y="377.6" width="1.0" height="4.04" fill="#888"/>
<rect x="486.5" y="377.6" width="1.0" height="4.04" fill="#222"/>
<rect x="487.5" y="377.6" width="2.4" height="4.04" fill="#888"/>
<rect x="469.3" y="381.6" width="1.8" height="4.04" fill="#222"/>
<rect x="473.5" y="381.6" width="1.0" height="4.04" fill="#555"/>
<rect x="474.5" y="381.6" width="1.4" height="4.04" fill="#0a0a0a"/>
<rect x="475.9" y="381.6" width="0.7" height="4.04" fill="#333"/>
<rect x="476.6" y="381.6" width="1.4" height="4.04" fill="#888"/>
<rect x="478.0" y="381.6" width="1.0" height="4.04" fill="#0a0a0a"/>
<rect x="479.8" y="381.6" width="1.8" height="4.04" fill="#0a0a0a"/>
<rect x="481.6" y="381.6" width="1.4" height="4.04" fill="#aaa"/>
<rect x="483.0" y="381.6" width="2.4" height="4.04" fill="#0a0a0a"/>
<rect x="485.4" y="381.6" width="1.0" height="4.04" fill="#888"/>
<rect x="486.4" y="381.6" width="1.0" height="4.04" fill="#333"/>
<rect x="488.2" y="381.6" width="1.0" height="4.04" fill="#0a0a0a"/>
<rect x="494.8" y="381.6" width="2.4" height="4.04" fill="#888"/>
<rect x="473.3" y="385.7" width="1.8" height="4.04" fill="#888"/>
<rect x="475.1" y="385.7" width="0.7" height="4.04" fill="#222"/>
<rect x="476.6" y="385.7" width="1.0" height="4.04" fill="#aaa"/>
<rect x="478.4" y="385.7" width="1.0" height="4.04" fill="#aaa"/>
<rect x="479.4" y="385.7" width="2.4" height="4.04" fill="#222"/>
<rect x="481.8" y="385.7" width="1.0" height="4.04" fill="#333"/>
<rect x="483.6" y="385.7" width="1.0" height="4.04" fill="#333"/>
<rect x="484.6" y="385.7" width="1.8" height="4.04" fill="#aaa"/>
<rect x="486.4" y="385.7" width="1.0" height="4.04" fill="#333"/>
<rect x="487.4" y="385.7" width="1.0" height="4.04" fill="#333"/>
<rect x="488.4" y="385.7" width="1.0" height="4.04" fill="#0a0a0a"/>
<rect x="514.0" y="347.4" width="1.0" height="3.92" fill="#222"/>
<rect x="523.0" y="347.4" width="1.0" height="3.92" fill="#0a0a0a"/>
<rect x="528.8" y="347.4" width="1.8" height="3.92" fill="#151515"/>
<rect x="533.8" y="347.4" width="1.4" height="3.92" fill="#555"/>
<rect x="537.6" y="347.4" width="1.8" height="3.92" fill="#151515"/>
<rect x="540.2" y="347.4" width="1.0" height="3.92" fill="#151515"/>
<rect x="543.6" y="347.4" width="1.4" height="3.92" fill="#0a0a0a"/>
<rect x="546.6" y="347.4" width="0.7" height="3.92" fill="#222"/>
<rect x="547.3" y="347.4" width="1.0" height="3.92" fill="#222"/>
<rect x="548.3" y="347.4" width="0.7" height="7.84" fill="#bbb"/>
<rect x="528.4" y="351.3" width="0.7" height="3.92" fill="#151515"/>
<rect x="534.7" y="351.3" width="1.0" height="3.92" fill="#999"/>
<rect x="536.5" y="351.3" width="2.4" height="7.84" fill="#333"/>
<rect x="546.1" y="351.3" width="1.8" height="3.92" fill="#333"/>
<rect x="519.6" y="355.2" width="1.0" height="3.92" fill="#0a0a0a"/>
<rect x="521.4" y="355.2" width="0.7" height="3.92" fill="#333"/>
<rect x="523.7" y="355.2" width="1.8" height="3.92" fill="#222"/>
<rect x="526.3" y="355.2" width="1.0" height="3.92" fill="#0a0a0a"/>
<rect x="533.7" y="355.2" width="1.8" height="3.92" fill="#0a0a0a"/>
<rect x="525.2" y="359.2" width="1.4" height="7.84" fill="#222"/>
<rect x="532.2" y="359.2" width="1.0" height="3.92" fill="#555"/>
<rect x="547.6" y="359.2" width="1.0" height="3.92" fill="#0a0a0a"/>
<rect x="517.2" y="363.1" width="0.7" height="3.92" fill="#999"/>
<rect x="518.7" y="363.1" width="1.8" height="3.92" fill="#0a0a0a"/>
<rect x="524.5" y="363.1" width="1.8" height="3.92" fill="#222"/>
<rect x="527.1" y="363.1" width="1.0" height="3.92" fill="#222"/>
<rect x="534.5" y="363.1" width="1.0" height="3.92" fill="#555"/>
<rect x="549.9" y="363.1" width="0.1" height="7.84" fill="#777"/>
<rect x="517.2" y="367.0" width="1.0" height="3.92" fill="#777"/>
<rect x="520.6" y="367.0" width="2.4" height="3.92" fill="#0a0a0a"/>
<rect x="534.2" y="367.0" width="0.7" height="3.92" fill="#555"/>
<rect x="541.3" y="367.0" width="0.7" height="3.92" fill="#0a0a0a"/>
<rect x="542.8" y="367.0" width="0.7" height="3.92" fill="#222"/>
<rect x="514.0" y="370.9" width="1.0" height="3.92" fill="#777"/>
<rect x="522.2" y="370.9" width="1.0" height="3.92" fill="#0a0a0a"/>
<rect x="526.4" y="370.9" width="1.8" height="7.84" fill="#151515"/>
<rect x="544.2" y="370.9" width="1.4" height="3.92" fill="#0a0a0a"/>
<rect x="548.0" y="370.9" width="2.0" height="7.84" fill="#999"/>
<rect x="517.2" y="374.8" width="0.7" height="3.92" fill="#0a0a0a"/>
<rect x="542.7" y="374.8" width="1.0" height="3.92" fill="#0a0a0a"/>
<rect x="515.6" y="378.8" width="1.8" height="3.92" fill="#151515"/>
<rect x="522.2" y="378.8" width="1.0" height="3.92" fill="#777"/>
<rect x="531.2" y="378.8" width="1.4" height="7.84" fill="#bbb"/>
<rect x="543.0" y="378.8" width="2.4" height="3.92" fill="#777"/>
<rect x="515.6" y="382.7" width="1.0" height="3.92" fill="#0a0a0a"/>
<rect x="517.4" y="382.7" width="1.4" height="3.92" fill="#777"/>
<rect x="540.4" y="382.7" width="1.4" height="3.92" fill="#999"/>
<rect x="542.6" y="382.7" width="1.0" height="3.92" fill="#151515"/>
<rect x="544.4" y="382.7" width="1.4" height="3.92" fill="#999"/>
<rect x="545.8" y="382.7" width="0.7" height="3.92" fill="#0a0a0a"/>
<rect x="514.1" y="417.9" width="1.8" height="4.00" fill="#0a0a0a"/>
<rect x="515.9" y="417.9" width="1.4" height="4.00" fill="#555"/>
<rect x="517.3" y="417.9" width="1.0" height="8.00" fill="#555"/>
<rect x="518.3" y="417.9" width="1.0" height="4.00" fill="#0a0a0a"/>
<rect x="519.3" y="417.9" width="1.0" height="4.00" fill="#0a0a0a"/>
<rect x="520.3" y="417.9" width="2.4" height="4.00" fill="#0a0a0a"/>
<rect x="523.5" y="417.9" width="2.4" height="4.00" fill="#333"/>
<rect x="525.9" y="417.9" width="1.0" height="4.00" fill="#aaa"/>
<rect x="526.9" y="417.9" width="1.8" height="4.00" fill="#888"/>
<rect x="528.7" y="417.9" width="2.4" height="4.00" fill="#0a0a0a"/>
<rect x="531.1" y="417.9" width="1.4" height="4.00" fill="#333"/>
<rect x="532.5" y="417.9" width="1.0" height="4.00" fill="#151515"/>
<rect x="533.5" y="417.9" width="1.0" height="4.00" fill="#aaa"/>
<rect x="534.5" y="417.9" width="2.4" height="4.00" fill="#aaa"/>
<rect x="536.9" y="417.9" width="1.0" height="4.00" fill="#aaa"/>
<rect x="537.9" y="417.9" width="1.0" height="8.00" fill="#333"/>
<rect x="538.9" y="417.9" width="0.7" height="4.00" fill="#333"/>
<rect x="539.6" y="417.9" width="1.0" height="4.00" fill="#555"/>
<rect x="540.6" y="417.9" width="1.4" height="8.00" fill="#0a0a0a"/>
<rect x="542.0" y="417.9" width="1.4" height="4.00" fill="#555"/>
<rect x="543.4" y="417.9" width="1.4" height="4.00" fill="#555"/>
<rect x="544.8" y="417.9" width="0.7" height="4.00" fill="#333"/>
<rect x="545.5" y="417.9" width="1.0" height="8.00" fill="#333"/>
<rect x="546.5" y="417.9" width="0.7" height="4.00" fill="#aaa"/>
<rect x="547.2" y="417.9" width="2.4" height="4.00" fill="#151515"/>
<rect x="549.6" y="417.9" width="0.8" height="4.00" fill="#555"/>
<rect x="514.1" y="421.9" width="1.0" height="4.00" fill="#0a0a0a"/>
<rect x="515.1" y="421.9" width="1.0" height="4.00" fill="#333"/>
<rect x="516.1" y="421.9" width="1.8" height="8.00" fill="#aaa"/>
<rect x="520.3" y="421.9" width="0.7" height="4.00" fill="#888"/>
<rect x="522.6" y="421.9" width="1.8" height="4.00" fill="#aaa"/>
<rect x="527.6" y="421.9" width="1.8" height="4.00" fill="#0a0a0a"/>
<rect x="529.4" y="421.9" width="1.8" height="4.00" fill="#333"/>
<rect x="531.2" y="421.9" width="0.7" height="4.00" fill="#aaa"/>
<rect x="532.7" y="421.9" width="1.8" height="4.00" fill="#555"/>
<rect x="535.3" y="421.9" width="2.4" height="4.00" fill="#333"/>
<rect x="538.5" y="421.9" width="2.4" height="4.00" fill="#0a0a0a"/>
<rect x="543.3" y="421.9" width="2.4" height="4.00" fill="#0a0a0a"/>
<rect x="547.3" y="421.9" width="1.8" height="4.00" fill="#333"/>
<rect x="514.1" y="425.9" width="1.4" height="8.00" fill="#888"/>
<rect x="515.5" y="425.9" width="1.0" height="8.00" fill="#151515"/>
<rect x="520.5" y="425.9" width="0.7" height="4.00" fill="#aaa"/>
<rect x="522.8" y="425.9" width="1.8" height="8.00" fill="#222"/>
<rect x="525.4" y="425.9" width="1.0" height="4.00" fill="#222"/>
<rect x="526.4" y="425.9" width="1.4" height="4.00" fill="#151515"/>
<rect x="527.8" y="425.9" width="1.4" height="4.00" fill="#333"/>
<rect x="531.6" y="425.9" width="1.4" height="8.00" fill="#222"/>
<rect x="533.8" y="425.9" width="1.0" height="4.00" fill="#555"/>
<rect x="536.4" y="425.9" width="1.4" height="4.00" fill="#151515"/>
<rect x="537.8" y="425.9" width="1.0" height="4.00" fill="#0a0a0a"/>
<rect x="538.8" y="425.9" width="1.0" height="4.00" fill="#555"/>
<rect x="542.2" y="425.9" width="1.4" height="4.00" fill="#333"/>
<rect x="545.2" y="425.9" width="2.4" height="4.00" fill="#0a0a0a"/>
<rect x="547.6" y="425.9" width="1.8" height="4.00" fill="#0a0a0a"/>
<rect x="550.2" y="425.9" width="0.2" height="4.00" fill="#0a0a0a"/>
<rect x="514.1" y="429.9" width="1.0" height="4.00" fill="#0a0a0a"/>
<rect x="515.1" y="429.9" width="1.0" height="4.00" fill="#222"/>
<rect x="516.1" y="429.9" width="1.8" height="4.00" fill="#151515"/>
<rect x="517.9" y="429.9" width="1.0" height="4.00" fill="#222"/>
<rect x="518.9" y="429.9" width="2.4" height="4.00" fill="#888"/>
<rect x="525.3" y="429.9" width="0.7" height="8.00" fill="#333"/>
<rect x="528.4" y="429.9" width="1.0" height="4.00" fill="#888"/>
<rect x="530.2" y="429.9" width="1.0" height="4.00" fill="#0a0a0a"/>
<rect x="536.0" y="429.9" width="2.4" height="4.00" fill="#aaa"/>
<rect x="538.4" y="429.9" width="1.8" height="4.00" fill="#222"/>
<rect x="540.2" y="429.9" width="1.0" height="4.00" fill="#888"/>
<rect x="541.2" y="429.9" width="1.8" height="4.00" fill="#222"/>
<rect x="543.8" y="429.9" width="0.7" height="4.00" fill="#0a0a0a"/>
<rect x="548.5" y="429.9" width="1.4" height="8.00" fill="#555"/>
<rect x="549.9" y="429.9" width="0.5" height="4.00" fill="#0a0a0a"/>
<rect x="514.1" y="433.9" width="1.4" height="4.00" fill="#555"/>
<rect x="515.5" y="433.9" width="0.7" height="4.00" fill="#555"/>
<rect x="516.2" y="433.9" width="2.4" height="8.00" fill="#333"/>
<rect x="521.8" y="433.9" width="0.7" height="4.00" fill="#555"/>
<rect x="523.3" y="433.9" width="1.4" height="4.00" fill="#888"/>
<rect x="525.5" y="433.9" width="1.4" height="4.00" fill="#222"/>
<rect x="527.7" y="433.9" width="2.4" height="4.00" fill="#222"/>
<rect x="531.7" y="433.9" width="1.0" height="4.00" fill="#151515"/>
<rect x="532.7" y="433.9" width="1.8" height="8.00" fill="#888"/>
<rect x="536.9" y="433.9" width="1.0" height="4.00" fill="#555"/>
<rect x="541.1" y="433.9" width="1.0" height="4.00" fill="#aaa"/>
<rect x="542.9" y="433.9" width="1.4" height="4.00" fill="#333"/>
<rect x="545.1" y="433.9" width="0.7" height="4.00" fill="#151515"/>
<rect x="514.1" y="437.9" width="1.8" height="4.00" fill="#aaa"/>
<rect x="515.9" y="437.9" width="1.0" height="4.00" fill="#555"/>
<rect x="516.9" y="437.9" width="0.7" height="4.00" fill="#222"/>
<rect x="518.4" y="437.9" width="1.4" height="4.00" fill="#888"/>
<rect x="519.8" y="437.9" width="1.4" height="4.00" fill="#0a0a0a"/>
<rect x="521.2" y="437.9" width="1.0" height="4.00" fill="#0a0a0a"/>
<rect x="522.2" y="437.9" width="0.7" height="4.00" fill="#0a0a0a"/>
<rect x="522.9" y="437.9" width="2.4" height="4.00" fill="#333"/>
<rect x="525.3" y="437.9" width="2.4" height="4.00" fill="#555"/>
<rect x="527.7" y="437.9" width="1.0" height="8.00" fill="#888"/>
<rect x="528.7" y="437.9" width="1.0" height="8.00" fill="#aaa"/>
<rect x="529.7" y="437.9" width="1.0" height="4.00" fill="#151515"/>
<rect x="531.5" y="437.9" width="0.7" height="4.00" fill="#aaa"/>
<rect x="533.0" y="437.9" width="0.7" height="4.00" fill="#0a0a0a"/>
<rect x="534.5" y="437.9" width="0.7" height="4.00" fill="#151515"/>
<rect x="535.2" y="437.9" width="2.4" height="4.00" fill="#222"/>
<rect x="537.6" y="437.9" width="1.0" height="4.00" fill="#888"/>
<rect x="538.6" y="437.9" width="1.8" height="4.00" fill="#333"/>
<rect x="540.4" y="437.9" width="2.4" height="8.00" fill="#888"/>
<rect x="543.6" y="437.9" width="1.4" height="4.00" fill="#151515"/>
<rect x="545.0" y="437.9" width="1.0" height="4.00" fill="#888"/>
<rect x="546.8" y="437.9" width="1.0" height="8.00" fill="#151515"/>
<rect x="547.8" y="437.9" width="0.7" height="4.00" fill="#0a0a0a"/>
<rect x="548.5" y="437.9" width="1.9" height="4.00" fill="#555"/>
<rect x="514.1" y="441.9" width="1.0" height="4.00" fill="#555"/>
<rect x="515.1" y="441.9" width="1.8" height="4.00" fill="#222"/>
<rect x="516.9" y="441.9" width="1.4" height="4.00" fill="#0a0a0a"/>
<rect x="519.1" y="441.9" width="1.0" height="8.00" fill="#888"/>
<rect x="520.1" y="441.9" width="1.0" height="4.00" fill="#0a0a0a"/>
<rect x="521.1" y="441.9" width="2.4" height="4.00" fill="#222"/>
<rect x="523.5" y="441.9" width="0.7" height="4.00" fill="#151515"/>
<rect x="524.2" y="441.9" width="2.4" height="4.00" fill="#0a0a0a"/>
<rect x="526.6" y="441.9" width="2.4" height="4.00" fill="#aaa"/>
<rect x="529.0" y="441.9" width="0.7" height="4.00" fill="#222"/>
<rect x="529.7" y="441.9" width="1.8" height="4.00" fill="#222"/>
<rect x="531.5" y="441.9" width="1.0" height="8.00" fill="#555"/>
<rect x="532.5" y="441.9" width="0.7" height="4.00" fill="#0a0a0a"/>
<rect x="533.2" y="441.9" width="1.8" height="4.00" fill="#0a0a0a"/>
<rect x="535.0" y="441.9" width="2.4" height="8.00" fill="#222"/>
<rect x="538.2" y="441.9" width="1.0" height="8.00" fill="#151515"/>
<rect x="539.2" y="441.9" width="1.8" height="4.00" fill="#0a0a0a"/>
<rect x="542.6" y="441.9" width="1.8" height="4.00" fill="#151515"/>
<rect x="545.2" y="441.9" width="1.4" height="4.00" fill="#0a0a0a"/>
<rect x="546.6" y="441.9" width="1.4" height="4.00" fill="#0a0a0a"/>
<rect x="548.0" y="441.9" width="1.4" height="4.00" fill="#151515"/>
<rect x="550.2" y="441.9" width="0.2" height="4.00" fill="#555"/>
<rect x="514.1" y="445.9" width="1.8" height="4.00" fill="#222"/>
<rect x="515.9" y="445.9" width="1.4" height="4.00" fill="#888"/>
<rect x="517.3" y="445.9" width="1.8" height="4.00" fill="#151515"/>
<rect x="519.1" y="445.9" width="0.7" height="4.00" fill="#0a0a0a"/>
<rect x="519.8" y="445.9" width="1.8" height="4.00" fill="#151515"/>
<rect x="522.4" y="445.9" width="2.4" height="8.00" fill="#555"/>
<rect x="524.8" y="445.9" width="1.0" height="4.00" fill="#555"/>
<rect x="526.6" y="445.9" width="2.4" height="4.00" fill="#888"/>
<rect x="529.0" y="445.9" width="1.0" height="4.00" fill="#0a0a0a"/>
<rect x="530.0" y="445.9" width="1.4" height="4.00" fill="#222"/>
<rect x="531.4" y="445.9" width="1.0" height="4.00" fill="#888"/>
<rect x="532.4" y="445.9" width="0.7" height="4.00" fill="#333"/>
<rect x="533.1" y="445.9" width="1.0" height="4.00" fill="#aaa"/>
<rect x="534.1" y="445.9" width="1.4" height="4.00" fill="#333"/>
<rect x="535.5" y="445.9" width="1.0" height="4.00" fill="#555"/>
<rect x="537.3" y="445.9" width="1.0" height="4.00" fill="#151515"/>
<rect x="538.3" y="445.9" width="2.4" height="4.00" fill="#0a0a0a"/>
<rect x="540.7" y="445.9" width="1.8" height="4.00" fill="#333"/>
<rect x="542.5" y="445.9" width="0.7" height="4.00" fill="#0a0a0a"/>
<rect x="543.2" y="445.9" width="0.7" height="4.00" fill="#333"/>
<rect x="543.9" y="445.9" width="0.7" height="4.00" fill="#151515"/>
<rect x="544.6" y="445.9" width="1.8" height="8.00" fill="#555"/>
<rect x="546.4" y="445.9" width="1.4" height="4.00" fill="#151515"/>
<rect x="548.6" y="445.9" width="1.0" height="8.00" fill="#151515"/>
<rect x="549.6" y="445.9" width="0.8" height="4.00" fill="#0a0a0a"/>
<rect x="514.1" y="449.9" width="2.4" height="8.00" fill="#aaa"/>
<rect x="516.5" y="449.9" width="1.8" height="4.00" fill="#222"/>
<rect x="518.3" y="449.9" width="1.0" height="8.00" fill="#aaa"/>
<rect x="520.1" y="449.9" width="1.0" height="4.00" fill="#0a0a0a"/>
<rect x="521.1" y="449.9" width="1.8" height="4.00" fill="#0a0a0a"/>
<rect x="523.7" y="449.9" width="1.8" height="4.00" fill="#151515"/>
<rect x="527.1" y="449.9" width="1.0" height="8.00" fill="#333"/>
<rect x="528.1" y="449.9" width="2.4" height="4.00" fill="#555"/>
<rect x="532.1" y="449.9" width="0.7" height="8.00" fill="#555"/>
<rect x="532.8" y="449.9" width="2.4" height="8.00" fill="#555"/>
<rect x="536.0" y="449.9" width="0.7" height="8.00" fill="#0a0a0a"/>
<rect x="536.7" y="449.9" width="2.4" height="8.00" fill="#888"/>
<rect x="539.1" y="449.9" width="2.4" height="4.00" fill="#333"/>
<rect x="542.3" y="449.9" width="0.7" height="4.00" fill="#888"/>
<rect x="543.8" y="449.9" width="1.8" height="4.00" fill="#222"/>
<rect x="545.6" y="449.9" width="1.0" height="4.00" fill="#151515"/>
<rect x="546.6" y="449.9" width="1.8" height="8.00" fill="#0a0a0a"/>
<rect x="549.2" y="449.9" width="1.0" height="4.00" fill="#0a0a0a"/>
<rect x="550.2" y="449.9" width="0.2" height="4.00" fill="#151515"/>
<rect x="514.1" y="453.9" width="2.4" height="4.00" fill="#333"/>
<rect x="516.5" y="453.9" width="1.0" height="4.00" fill="#aaa"/>
<rect x="517.5" y="453.9" width="1.0" height="4.00" fill="#0a0a0a"/>
<rect x="518.5" y="453.9" width="1.8" height="4.00" fill="#0a0a0a"/>
<rect x="520.3" y="453.9" width="0.7" height="4.00" fill="#333"/>
<rect x="521.0" y="453.9" width="0.7" height="4.00" fill="#aaa"/>
<rect x="521.7" y="453.9" width="1.4" height="4.00" fill="#888"/>
<rect x="523.1" y="453.9" width="1.0" height="4.00" fill="#aaa"/>
<rect x="524.9" y="453.9" width="1.0" height="4.00" fill="#888"/>
<rect x="525.9" y="453.9" width="1.4" height="4.00" fill="#222"/>
<rect x="527.3" y="453.9" width="0.7" height="4.00" fill="#333"/>
<rect x="528.0" y="453.9" width="2.4" height="4.00" fill="#888"/>
<rect x="530.4" y="453.9" width="2.4" height="4.00" fill="#555"/>
<rect x="532.8" y="453.9" width="1.4" height="4.00" fill="#0a0a0a"/>
<rect x="534.2" y="453.9" width="1.4" height="4.00" fill="#555"/>
<rect x="535.6" y="453.9" width="1.0" height="4.00" fill="#555"/>
<rect x="536.6" y="453.9" width="1.0" height="4.00" fill="#aaa"/>
<rect x="537.6" y="453.9" width="1.4" height="4.00" fill="#151515"/>
<rect x="539.0" y="453.9" width="1.4" height="4.00" fill="#888"/>
<rect x="540.4" y="453.9" width="2.4" height="4.00" fill="#555"/>
<rect x="543.6" y="453.9" width="1.8" height="4.00" fill="#555"/>
<rect x="545.4" y="453.9" width="1.0" height="4.00" fill="#0a0a0a"/>
<rect x="547.2" y="453.9" width="2.4" height="4.00" fill="#222"/>
<rect x="549.6" y="453.9" width="0.8" height="4.00" fill="#aaa"/>
<rect x="473.20" y="417.80" width="1.60" height="40.00" fill="#444" stroke="none" stroke-width="0.8"/>
<rect x="473.20" y="425.00" width="8.00" height="4.40" fill="#111" stroke="none" stroke-width="0.8"/>
<rect x="476.50" y="421.00" width="1.40" height="4.00" fill="#333" stroke="none" stroke-width="0.8"/>
<rect x="485.60" y="418.50" width="2.00" height="8.00" fill="#222" stroke="none" stroke-width="0.8"/>
<rect x="485.60" y="434.20" width="2.80" height="3.20" fill="#111" stroke="none" stroke-width="0.8"/>
<rect x="487.60" y="443.00" width="0.80" height="15.00" fill="#444" stroke="none" stroke-width="0.8"/>
<rect x="485.20" y="445.50" width="2.60" height="3.60" fill="#111" stroke="none" stroke-width="0.8"/>
<rect x="482.00" y="445.50" width="1.20" height="3.60" fill="#888" stroke="none" stroke-width="0.8"/>
<rect x="473.40" y="452.80" width="5.80" height="4.60" fill="#111" stroke="none" stroke-width="0.8"/>
<rect x="479.20" y="452.80" width="1.40" height="4.60" fill="#777" stroke="none" stroke-width="0.8"/>
<rect x="474.60" y="436.00" width="1.20" height="4.00" fill="#999" stroke="none" stroke-width="0.8"/>
<rect x="476.00" y="441.00" width="0.90" height="3.50" fill="#666" stroke="none" stroke-width="0.8"/>
<rect x="470.00" y="418.50" width="0.80" height="4.00" fill="#aaa" stroke="none" stroke-width="0.8"/>
<rect x="463.40" y="455.00" width="0.80" height="3.00" fill="#999" stroke="none" stroke-width="0.8"/>
<rect x="470.00" y="449.00" width="0.80" height="3.00" fill="#bbb" stroke="none" stroke-width="0.8"/>
<rect x="475.00" y="418.20" width="1.00" height="3.20" fill="#888" stroke="none" stroke-width="0.8"/>
<rect x="478.00" y="421.00" width="1.20" height="3.50" fill="#555" stroke="none" stroke-width="0.8"/>
<rect x="474.40" y="446.00" width="1.40" height="3.60" fill="#666" stroke="none" stroke-width="0.8"/>
<path d="M530.2,461.8 L530.2,460 L544.4,460 L544.4,461.8" fill="none" stroke="#333" stroke-width="0.7"/>
<text x="537.5" y="470.6" text-anchor="middle" font-size="9.4" fill="#222" stroke="#222" stroke-width="0.16">5 s</text>
<text transform="translate(566.70,334.4) rotate(-90)" text-anchor="middle" font-size="9.4" fill="#222" stroke="#222" stroke-width="0.16">Average FR</text>
<text transform="translate(576.40,334.4) rotate(-90)" text-anchor="middle" font-size="9.4" fill="#222" stroke="#222" stroke-width="0.16">(spikes per s)</text>
<text x="625.3" y="297.6" text-anchor="middle" font-size="9.4" fill="#5555dd" stroke="#5555dd" stroke-width="0.16">Stim<tspan font-size="6.4" dy="-3.4">SpV</tspan></text>
<rect x="609.80" y="302.50" width="31.40" height="3.30" fill="#4a4ab4" stroke="none" stroke-width="0.8"/>
<line x1="594.6" y1="303.4" x2="594.6" y2="370" stroke="#555" stroke-width="0.7"/>
<line x1="594.6" y1="303.41999999999996" x2="596.3" y2="303.41999999999996" stroke="#555" stroke-width="0.7"/>
<text x="590.4" y="306.71999999999997" text-anchor="end" font-size="9.4" fill="#222" stroke="#222" stroke-width="0.16">30</text>
<line x1="594.6" y1="325.18" x2="596.3" y2="325.18" stroke="#555" stroke-width="0.7"/>
<text x="590.4" y="328.48" text-anchor="end" font-size="9.4" fill="#222" stroke="#222" stroke-width="0.16">20</text>
<line x1="594.6" y1="346.94" x2="596.3" y2="346.94" stroke="#555" stroke-width="0.7"/>
<text x="590.4" y="350.24" text-anchor="end" font-size="9.4" fill="#222" stroke="#222" stroke-width="0.16">10</text>
<line x1="594.6" y1="368.7" x2="596.3" y2="368.7" stroke="#555" stroke-width="0.7"/>
<text x="590.4" y="372.0" text-anchor="end" font-size="9.4" fill="#222" stroke="#222" stroke-width="0.16">0</text>
<line x1="594.6" y1="370.2" x2="656" y2="370.2" stroke="#555" stroke-width="0.7"/>
<line x1="594.5" y1="370.2" x2="594.5" y2="372" stroke="#555" stroke-width="0.7"/>
<text x="594.5" y="381.8" text-anchor="middle" font-size="9.4" fill="#222" stroke="#222" stroke-width="0.16">−5</text>
<line x1="609.8" y1="370.2" x2="609.8" y2="372" stroke="#555" stroke-width="0.7"/>
<text x="609.8" y="381.8" text-anchor="middle" font-size="9.4" fill="#222" stroke="#222" stroke-width="0.16">0</text>
<line x1="625.0999999999999" y1="370.2" x2="625.0999999999999" y2="372" stroke="#555" stroke-width="0.7"/>
<text x="625.0999999999999" y="381.8" text-anchor="middle" font-size="9.4" fill="#222" stroke="#222" stroke-width="0.16">5</text>
<line x1="640.4" y1="370.2" x2="640.4" y2="372" stroke="#555" stroke-width="0.7"/>
<text x="640.4" y="381.8" text-anchor="middle" font-size="9.4" fill="#222" stroke="#222" stroke-width="0.16">10</text>
<line x1="655.6999999999999" y1="370.2" x2="655.6999999999999" y2="372" stroke="#555" stroke-width="0.7"/>
<text x="655.6999999999999" y="381.8" text-anchor="middle" font-size="9.4" fill="#222" stroke="#222" stroke-width="0.16">15</text>
<text x="625.0" y="396.6" text-anchor="middle" font-size="9.4" fill="#222" stroke="#222" stroke-width="0.16">Time (s)</text>
<line x1="609.8" y1="305.8" x2="609.8" y2="370" stroke="#6a6ae0" stroke-width="0.6" stroke-dasharray="1.5,1"/>
<line x1="640.7" y1="305.8" x2="640.7" y2="370" stroke="#6a6ae0" stroke-width="0.6" stroke-dasharray="1.5,1"/>
<polygon points="594.5,364.8 595.1,363.6 595.7,364.9 596.3,364.0 596.9,365.0 597.6,364.7 598.2,363.6 598.8,364.8 599.4,364.1 600.0,364.4 600.6,364.4 601.2,364.4 601.8,364.8 602.5,363.8 603.1,365.0 603.7,364.8 604.3,365.1 604.9,364.7 605.5,364.5 606.1,363.7 606.7,364.5 607.4,364.9 608.0,364.7 608.6,363.6 609.2,365.0 609.8,354.9 610.4,335.6 611.0,326.5 611.6,329.3 612.2,331.0 612.9,332.5 613.5,333.5 614.1,334.4 614.7,336.9 615.3,337.9 615.9,338.2 616.5,337.2 617.1,338.1 617.8,338.7 618.4,337.5 619.0,337.9 619.6,337.6 620.2,337.3 620.8,338.2 621.4,338.0 622.0,337.1 622.7,338.2 623.3,337.2 623.9,338.1 624.5,337.1 625.1,337.1 625.7,336.9 626.3,337.2 626.9,337.9 627.5,338.5 628.2,338.8 628.8,338.4 629.4,338.6 630.0,339.4 630.6,338.3 631.2,339.1 631.8,339.0 632.4,339.9 633.1,340.1 633.7,340.6 634.3,340.3 634.9,340.6 635.5,340.5 636.1,340.8 636.7,340.3 637.3,340.4 638.0,341.7 638.6,341.5 639.2,342.0 639.8,341.5 640.4,348.1 641.0,356.4 641.6,362.3 642.2,363.3 642.8,364.0 643.5,363.1 644.1,364.0 644.7,364.5 645.3,364.2 645.9,364.6 646.5,364.3 647.1,364.3 647.7,364.4 648.4,364.1 649.0,364.6 649.6,364.9 650.2,365.0 650.8,365.0 651.4,364.4 652.0,364.6 652.6,364.0 653.3,364.5 653.9,364.2 654.5,363.8 655.1,365.2 655.7,365.3 655.7,367.9 655.1,367.8 654.5,366.4 653.9,366.8 653.3,367.1 652.6,366.6 652.0,367.2 651.4,367.0 650.8,367.6 650.2,367.6 649.6,367.5 649.0,367.2 648.4,366.7 647.7,367.0 647.1,366.9 646.5,366.9 645.9,367.2 645.3,366.9 644.7,367.1 644.1,366.6 643.5,365.7 642.8,366.6 642.2,365.9 641.6,364.9 641.0,365.2 640.4,356.8 639.8,350.2 639.2,350.7 638.6,350.2 638.0,350.4 637.3,349.1 636.7,349.0 636.1,349.5 635.5,349.2 634.9,349.3 634.3,349.0 633.7,349.3 633.1,348.8 632.4,348.6 631.8,347.7 631.2,347.8 630.6,347.0 630.0,348.1 629.4,347.3 628.8,347.1 628.2,347.5 627.5,347.2 626.9,346.6 626.3,345.9 625.7,345.6 625.1,345.8 624.5,345.8 623.9,346.8 623.3,345.9 622.7,346.9 622.0,345.8 621.4,346.7 620.8,346.9 620.2,346.0 619.6,346.3 619.0,346.6 618.4,346.2 617.8,347.4 617.1,346.8 616.5,345.9 615.9,347.0 615.3,346.6 614.7,345.6 614.1,345.7 613.5,344.8 612.9,343.8 612.2,342.3 611.6,340.6 611.0,337.8 610.4,346.9 609.8,366.2 609.2,367.6 608.6,366.2 608.0,367.3 607.4,367.5 606.7,367.1 606.1,366.3 605.5,367.1 604.9,367.3 604.3,367.7 603.7,367.4 603.1,367.6 602.5,366.5 601.8,367.4 601.2,367.0 600.6,367.0 600.0,367.0 599.4,366.7 598.8,367.4 598.2,366.2 597.6,367.3 596.9,367.6 596.3,366.6 595.7,367.5 595.1,366.3 594.5,367.4" fill="#c4c4c4"/>
<polyline points="594.5,366.1 595.1,364.9 595.7,366.2 596.3,365.3 596.9,366.3 597.6,366.0 598.2,364.9 598.8,366.1 599.4,365.4 600.0,365.7 600.6,365.7 601.2,365.7 601.8,366.1 602.5,365.2 603.1,366.3 603.7,366.1 604.3,366.4 604.9,366.0 605.5,365.8 606.1,365.0 606.7,365.8 607.4,366.2 608.0,366.0 608.6,364.9 609.2,366.3 609.8,360.6 610.4,341.3 611.0,332.2 611.6,334.9 612.2,336.6 612.9,338.2 613.5,339.2 614.1,340.0 614.7,341.3 615.3,342.2 615.9,342.6 616.5,341.5 617.1,342.5 617.8,343.0 618.4,341.8 619.0,342.3 619.6,342.0 620.2,341.7 620.8,342.5 621.4,342.4 622.0,341.5 622.7,342.6 623.3,341.5 623.9,342.5 624.5,341.5 625.1,341.4 625.7,341.2 626.3,341.5 626.9,342.2 627.5,342.9 628.2,343.1 628.8,342.7 629.4,342.9 630.0,343.8 630.6,342.7 631.2,343.4 631.8,343.3 632.4,344.3 633.1,344.4 633.7,344.9 634.3,344.6 634.9,344.9 635.5,344.9 636.1,345.1 636.7,344.6 637.3,344.7 638.0,346.0 638.6,345.9 639.2,346.4 639.8,345.8 640.4,352.5 641.0,360.8 641.6,363.6 642.2,364.6 642.8,365.3 643.5,364.4 644.1,365.3 644.7,365.8 645.3,365.5 645.9,365.9 646.5,365.6 647.1,365.6 647.7,365.7 648.4,365.4 649.0,365.9 649.6,366.2 650.2,366.3 650.8,366.3 651.4,365.7 652.0,365.9 652.6,365.3 653.3,365.8 653.9,365.5 654.5,365.1 655.1,366.5 655.7,366.6" fill="none" stroke="#444" stroke-width="1"/>
<text x="626.0" y="315.1" text-anchor="middle" font-size="9.4" fill="#222" stroke="#222" stroke-width="0.16">Versus</text>
<text x="626.4" y="322.8" text-anchor="middle" font-size="9.4" fill="#222" stroke="#222" stroke-width="0.16">pre</text>
<text x="621.6" y="332.6" text-anchor="middle" font-size="10.5" fill="#222" stroke="#222" stroke-width="0.16">***</text>
<circle cx="662.6" cy="306.5" r="12.2" fill="#8282c4" stroke="#222" stroke-width="0.8"/>
<path d="M662.6,306.5 L662.6,294.3 A12.2,12.2 0 0 0 651.54,301.34 Z" fill="#fff" stroke="#222" stroke-width="0.6"/>
<circle cx="662.6" cy="306.5" r="12.2" fill="none" stroke="#222" stroke-width="0.8"/>
<text x="662.2" y="329.0" text-anchor="middle" font-size="9.4" fill="#5555dd" stroke="#5555dd" stroke-width="0.16">82%</text>
<text x="664.5" y="339.8" text-anchor="middle" font-size="9.4" fill="#5555dd" stroke="#5555dd" stroke-width="0.16">activ.</text>
<rect x="612.00" y="400.80" width="28.90" height="4.70" fill="#4a4ab4" stroke="none" stroke-width="0.8"/>
<rect x="598.20" y="407.00" width="56.00" height="50.70" fill="#f8f4f7" stroke="none" stroke-width="0.8"/>
<rect x="603.20" y="407.00" width="1.05" height="0.87" fill="#d9f0d3"/>
<rect x="612.20" y="407.00" width="1.05" height="0.87" fill="#d4bcdc"/>
<rect x="613.20" y="407.00" width="2.05" height="0.87" fill="#e7d4e8"/>
<rect x="615.20" y="407.00" width="1.05" height="0.87" fill="#efe6f0"/>
<rect x="616.20" y="407.00" width="3.05" height="0.87" fill="#d4bcdc"/>
<rect x="619.20" y="407.00" width="2.05" height="0.87" fill="#c2a5cf"/>
<rect x="621.20" y="407.00" width="1.05" height="0.87" fill="#efe6f0"/>
<rect x="622.20" y="407.00" width="1.05" height="0.87" fill="#d4bcdc"/>
<rect x="623.20" y="407.00" width="1.05" height="0.87" fill="#762a83"/>
<rect x="624.20" y="407.00" width="3.05" height="0.87" fill="#9c68a9"/>
<rect x="627.20" y="407.00" width="1.05" height="0.87" fill="#d4bcdc"/>
<rect x="628.20" y="407.00" width="1.05" height="0.87" fill="#c2a5cf"/>
<rect x="629.20" y="407.00" width="1.05" height="0.87" fill="#9c68a9"/>
<rect x="630.20" y="407.00" width="2.05" height="0.87" fill="#762a83"/>
<rect x="632.20" y="407.00" width="1.05" height="0.87" fill="#9c68a9"/>
<rect x="633.20" y="407.00" width="2.05" height="0.87" fill="#762a83"/>
<rect x="635.20" y="407.00" width="2.05" height="0.87" fill="#c2a5cf"/>
<rect x="637.20" y="407.00" width="2.05" height="0.87" fill="#d4bcdc"/>
<rect x="639.20" y="407.00" width="2.05" height="0.87" fill="#c2a5cf"/>
<rect x="646.20" y="407.00" width="2.05" height="0.87" fill="#c0e6ba"/>
<rect x="648.20" y="407.00" width="1.05" height="0.87" fill="#1b7837"/>
<rect x="650.20" y="407.00" width="1.05" height="0.87" fill="#d9f0d3"/>
<rect x="652.20" y="407.00" width="1.05" height="0.87" fill="#c0e6ba"/>
<rect x="653.20" y="407.00" width="1.05" height="0.87" fill="#d9f0d3"/>
<rect x="605.20" y="407.82" width="5.05" height="0.87" fill="#e7d4e8"/>
<rect x="612.20" y="407.82" width="1.05" height="0.87" fill="#d4bcdc"/>
<rect x="613.20" y="407.82" width="1.05" height="0.87" fill="#e7d4e8"/>
<rect x="614.20" y="407.82" width="1.05" height="0.87" fill="#e8f4e5"/>
<rect x="615.20" y="407.82" width="1.05" height="0.87" fill="#efe6f0"/>
<rect x="616.20" y="407.82" width="1.05" height="0.87" fill="#e7d4e8"/>
<rect x="617.20" y="407.82" width="1.05" height="0.87" fill="#d4bcdc"/>
<rect x="618.20" y="407.82" width="1.05" height="0.87" fill="#c2a5cf"/>
<rect x="619.20" y="407.82" width="1.05" height="0.87" fill="#d4bcdc"/>
<rect x="620.20" y="407.82" width="5.05" height="0.87" fill="#c2a5cf"/>
<rect x="625.20" y="407.82" width="1.05" height="0.87" fill="#d4bcdc"/>
<rect x="626.20" y="407.82" width="3.05" height="0.87" fill="#c2a5cf"/>
<rect x="629.20" y="407.82" width="1.05" height="0.87" fill="#d4bcdc"/>
<rect x="630.20" y="407.82" width="2.05" height="0.87" fill="#c2a5cf"/>
<rect x="632.20" y="407.82" width="1.05" height="0.87" fill="#d4bcdc"/>
<rect x="633.20" y="407.82" width="1.05" height="0.87" fill="#c2a5cf"/>
<rect x="634.20" y="407.82" width="1.05" height="0.87" fill="#d4bcdc"/>
<rect x="635.20" y="407.82" width="5.05" height="0.87" fill="#c2a5cf"/>
<rect x="640.20" y="407.82" width="1.05" height="0.87" fill="#d4bcdc"/>
<rect x="644.20" y="407.82" width="1.05" height="0.87" fill="#c0e6ba"/>
<rect x="645.20" y="407.82" width="3.05" height="0.87" fill="#a6dba0"/>
<rect x="612.20" y="408.64" width="2.05" height="0.87" fill="#c2a5cf"/>
<rect x="614.20" y="408.64" width="2.05" height="0.87" fill="#d4bcdc"/>
<rect x="616.20" y="408.64" width="1.05" height="0.87" fill="#c2a5cf"/>
<rect x="617.20" y="408.64" width="1.05" height="0.87" fill="#d4bcdc"/>
<rect x="618.20" y="408.64" width="1.05" height="0.87" fill="#efe6f0"/>
<rect x="620.20" y="408.64" width="1.05" height="0.87" fill="#c2a5cf"/>
<rect x="621.20" y="408.64" width="1.05" height="0.87" fill="#9c68a9"/>
<rect x="622.20" y="408.64" width="1.05" height="0.87" fill="#762a83"/>
<rect x="623.20" y="408.64" width="1.05" height="0.87" fill="#c2a5cf"/>
<rect x="624.20" y="408.64" width="1.05" height="0.87" fill="#e7d4e8"/>
<rect x="625.20" y="408.64" width="1.05" height="0.87" fill="#c2a5cf"/>
<rect x="626.20" y="408.64" width="1.05" height="0.87" fill="#9c68a9"/>
<rect x="627.20" y="408.64" width="3.05" height="0.87" fill="#d4bcdc"/>
<rect x="630.20" y="408.64" width="1.05" height="0.87" fill="#efe6f0"/>
<rect x="631.20" y="408.64" width="3.05" height="0.87" fill="#e7d4e8"/>
<rect x="634.20" y="408.64" width="1.05" height="0.87" fill="#d4bcdc"/>
<rect x="635.20" y="408.64" width="4.05" height="0.87" fill="#c2a5cf"/>
<rect x="639.20" y="408.64" width="1.05" height="0.87" fill="#d4bcdc"/>
<rect x="640.20" y="408.64" width="1.05" height="0.87" fill="#c2a5cf"/>
<rect x="641.20" y="408.64" width="1.05" height="0.87" fill="#e7d4e8"/>
<rect x="642.20" y="408.64" width="1.05" height="0.87" fill="#efe6f0"/>
<rect x="648.20" y="408.64" width="4.05" height="0.87" fill="#a6dba0"/>
<rect x="612.20" y="409.45" width="2.05" height="0.87" fill="#9c68a9"/>
<rect x="614.20" y="409.45" width="1.05" height="0.87" fill="#762a83"/>
<rect x="615.20" y="409.45" width="2.05" height="0.87" fill="#9c68a9"/>
<rect x="617.20" y="409.45" width="3.05" height="0.87" fill="#efe6f0"/>
<rect x="620.20" y="409.45" width="3.05" height="0.87" fill="#762a83"/>
<rect x="623.20" y="409.45" width="1.05" height="0.87" fill="#5b1567"/>
<rect x="624.20" y="409.45" width="1.05" height="0.87" fill="#762a83"/>
<rect x="625.20" y="409.45" width="2.05" height="0.87" fill="#9c68a9"/>
<rect x="627.20" y="409.45" width="1.05" height="0.87" fill="#762a83"/>
<rect x="628.20" y="409.45" width="1.05" height="0.87" fill="#9c68a9"/>
<rect x="629.20" y="409.45" width="1.05" height="0.87" fill="#762a83"/>
<rect x="630.20" y="409.45" width="1.05" height="0.87" fill="#9c68a9"/>
<rect x="631.20" y="409.45" width="1.05" height="0.87" fill="#c2a5cf"/>
<rect x="632.20" y="409.45" width="1.05" height="0.87" fill="#9c68a9"/>
<rect x="633.20" y="409.45" width="1.05" height="0.87" fill="#d4bcdc"/>
<rect x="634.20" y="409.45" width="3.05" height="0.87" fill="#e8f4e5"/>
<rect x="637.20" y="409.45" width="1.05" height="0.87" fill="#9c68a9"/>
<rect x="638.20" y="409.45" width="1.05" height="0.87" fill="#762a83"/>
<rect x="639.20" y="409.45" width="2.05" height="0.87" fill="#40004b"/>
<rect x="641.20" y="409.45" width="2.05" height="0.87" fill="#e7d4e8"/>
<rect x="647.20" y="409.45" width="2.05" height="0.87" fill="#d9f0d3"/>
<rect x="602.20" y="410.27" width="2.05" height="0.87" fill="#c0e6ba"/>
<rect x="604.20" y="410.27" width="1.05" height="0.87" fill="#d9f0d3"/>
<rect x="605.20" y="410.27" width="3.05" height="0.87" fill="#c0e6ba"/>
<rect x="611.20" y="410.27" width="1.05" height="0.87" fill="#e7d4e8"/>
<rect x="612.20" y="410.27" width="5.05" height="0.87" fill="#40004b"/>
<rect x="617.20" y="410.27" width="2.05" height="0.87" fill="#e7d4e8"/>
<rect x="619.20" y="410.27" width="4.05" height="0.87" fill="#40004b"/>
<rect x="623.20" y="410.27" width="1.05" height="0.87" fill="#efe6f0"/>
<rect x="624.20" y="410.27" width="17.05" height="0.87" fill="#40004b"/>
<rect x="645.20" y="410.27" width="1.05" height="0.87" fill="#c0e6ba"/>
<rect x="646.20" y="410.27" width="1.05" height="0.87" fill="#a6dba0"/>
<rect x="650.20" y="410.27" width="2.05" height="0.87" fill="#e7d4e8"/>
<rect x="612.20" y="411.09" width="1.05" height="0.87" fill="#40004b"/>
<rect x="613.20" y="411.09" width="1.05" height="0.87" fill="#762a83"/>
<rect x="614.20" y="411.09" width="5.05" height="0.87" fill="#40004b"/>
<rect x="619.20" y="411.09" width="1.05" height="0.87" fill="#efe6f0"/>
<rect x="620.20" y="411.09" width="1.05" height="0.87" fill="#c2a5cf"/>
<rect x="621.20" y="411.09" width="15.05" height="0.87" fill="#40004b"/>
<rect x="636.20" y="411.09" width="2.05" height="0.87" fill="#e7d4e8"/>
<rect x="640.20" y="411.09" width="1.05" height="0.87" fill="#9c68a9"/>
<rect x="642.20" y="411.09" width="1.05" height="0.87" fill="#e8f4e5"/>
<rect x="643.20" y="411.09" width="3.05" height="0.87" fill="#c0e6ba"/>
<rect x="648.20" y="411.09" width="1.05" height="0.87" fill="#d9f0d3"/>
<rect x="649.20" y="411.09" width="1.05" height="0.87" fill="#1b7837"/>
<rect x="650.20" y="411.09" width="1.05" height="0.87" fill="#a6dba0"/>
<rect x="651.20" y="411.09" width="1.05" height="0.87" fill="#c0e6ba"/>
<rect x="652.20" y="411.09" width="1.05" height="0.87" fill="#a6dba0"/>
<rect x="598.20" y="411.91" width="4.05" height="0.87" fill="#d9f0d3"/>
<rect x="605.20" y="411.91" width="2.05" height="0.87" fill="#d9f0d3"/>
<rect x="612.20" y="411.91" width="1.05" height="0.87" fill="#762a83"/>
<rect x="613.20" y="411.91" width="1.05" height="0.87" fill="#40004b"/>
<rect x="614.20" y="411.91" width="2.05" height="0.87" fill="#5b1567"/>
<rect x="616.20" y="411.91" width="2.05" height="0.87" fill="#40004b"/>
<rect x="618.20" y="411.91" width="1.05" height="0.87" fill="#5b1567"/>
<rect x="619.20" y="411.91" width="3.05" height="0.87" fill="#762a83"/>
<rect x="622.20" y="411.91" width="2.05" height="0.87" fill="#9c68a9"/>
<rect x="624.20" y="411.91" width="1.05" height="0.87" fill="#762a83"/>
<rect x="625.20" y="411.91" width="1.05" height="0.87" fill="#5b1567"/>
<rect x="626.20" y="411.91" width="1.05" height="0.87" fill="#e7d4e8"/>
<rect x="628.20" y="411.91" width="1.05" height="0.87" fill="#efe6f0"/>
<rect x="629.20" y="411.91" width="2.05" height="0.87" fill="#40004b"/>
<rect x="631.20" y="411.91" width="1.05" height="0.87" fill="#d4bcdc"/>
<rect x="632.20" y="411.91" width="2.05" height="0.87" fill="#c2a5cf"/>
<rect x="634.20" y="411.91" width="1.05" height="0.87" fill="#d4bcdc"/>
<rect x="635.20" y="411.91" width="1.05" height="0.87" fill="#762a83"/>
<rect x="636.20" y="411.91" width="2.05" height="0.87" fill="#5b1567"/>
<rect x="638.20" y="411.91" width="1.05" height="0.87" fill="#762a83"/>
<rect x="639.20" y="411.91" width="1.05" height="0.87" fill="#40004b"/>
<rect x="640.20" y="411.91" width="1.05" height="0.87" fill="#762a83"/>
<rect x="641.20" y="411.91" width="1.05" height="0.87" fill="#a6dba0"/>
<rect x="642.20" y="411.91" width="1.05" height="0.87" fill="#d9f0d3"/>
<rect x="643.20" y="411.91" width="1.05" height="0.87" fill="#e8f4e5"/>
<rect x="649.20" y="411.91" width="1.05" height="0.87" fill="#d9f0d3"/>
<rect x="650.20" y="411.91" width="1.05" height="0.87" fill="#c0e6ba"/>
<rect x="651.20" y="411.91" width="2.05" height="0.87" fill="#d9f0d3"/>
<rect x="653.20" y="411.91" width="1.05" height="0.87" fill="#c0e6ba"/>
<rect x="607.20" y="412.72" width="4.05" height="0.87" fill="#d9f0d3"/>
<rect x="612.20" y="412.72" width="5.05" height="0.87" fill="#40004b"/>
<rect x="617.20" y="412.72" width="1.05" height="0.87" fill="#5b1567"/>
<rect x="618.20" y="412.72" width="3.05" height="0.87" fill="#40004b"/>
<rect x="621.20" y="412.72" width="1.05" height="0.87" fill="#9c68a9"/>
<rect x="622.20" y="412.72" width="2.05" height="0.87" fill="#5b1567"/>
<rect x="624.20" y="412.72" width="2.05" height="0.87" fill="#40004b"/>
<rect x="626.20" y="412.72" width="5.05" height="0.87" fill="#5b1567"/>
<rect x="631.20" y="412.72" width="2.05" height="0.87" fill="#40004b"/>
<rect x="633.20" y="412.72" width="3.05" height="0.87" fill="#5b1567"/>
<rect x="636.20" y="412.72" width="1.05" height="0.87" fill="#40004b"/>
<rect x="637.20" y="412.72" width="2.05" height="0.87" fill="#5b1567"/>
<rect x="639.20" y="412.72" width="2.05" height="0.87" fill="#40004b"/>
<rect x="643.20" y="412.72" width="1.05" height="0.87" fill="#e7d4e8"/>
<rect x="649.20" y="412.72" width="4.05" height="0.87" fill="#d9f0d3"/>
<rect x="612.20" y="413.54" width="3.05" height="0.87" fill="#40004b"/>
<rect x="615.20" y="413.54" width="3.05" height="0.87" fill="#e7d4e8"/>
<rect x="618.20" y="413.54" width="1.05" height="0.87" fill="#40004b"/>
<rect x="619.20" y="413.54" width="1.05" height="0.87" fill="#5b1567"/>
<rect x="620.20" y="413.54" width="1.05" height="0.87" fill="#40004b"/>
<rect x="621.20" y="413.54" width="1.05" height="0.87" fill="#5b1567"/>
<rect x="623.20" y="413.54" width="1.05" height="0.87" fill="#efe6f0"/>
<rect x="624.20" y="413.54" width="1.05" height="0.87" fill="#40004b"/>
<rect x="625.20" y="413.54" width="1.05" height="0.87" fill="#e7d4e8"/>
<rect x="626.20" y="413.54" width="15.05" height="0.87" fill="#40004b"/>
<rect x="645.20" y="413.54" width="4.05" height="0.87" fill="#e7d4e8"/>
<rect x="612.20" y="414.36" width="1.05" height="0.87" fill="#762a83"/>
<rect x="613.20" y="414.36" width="1.05" height="0.87" fill="#c2a5cf"/>
<rect x="614.20" y="414.36" width="2.05" height="0.87" fill="#9c68a9"/>
<rect x="616.20" y="414.36" width="1.05" height="0.87" fill="#762a83"/>
<rect x="617.20" y="414.36" width="5.05" height="0.87" fill="#40004b"/>
<rect x="622.20" y="414.36" width="1.05" height="0.87" fill="#5b1567"/>
<rect x="623.20" y="414.36" width="1.05" height="0.87" fill="#40004b"/>
<rect x="624.20" y="414.36" width="1.05" height="0.87" fill="#5b1567"/>
<rect x="625.20" y="414.36" width="1.05" height="0.87" fill="#40004b"/>
<rect x="626.20" y="414.36" width="1.05" height="0.87" fill="#5b1567"/>
<rect x="627.20" y="414.36" width="1.05" height="0.87" fill="#40004b"/>
<rect x="628.20" y="414.36" width="3.05" height="0.87" fill="#5b1567"/>
<rect x="631.20" y="414.36" width="6.05" height="0.87" fill="#40004b"/>
<rect x="637.20" y="414.36" width="1.05" height="0.87" fill="#5b1567"/>
<rect x="638.20" y="414.36" width="3.05" height="0.87" fill="#40004b"/>
<rect x="641.20" y="414.36" width="3.05" height="0.87" fill="#d9f0d3"/>
<rect x="645.20" y="414.36" width="1.05" height="0.87" fill="#c0e6ba"/>
<rect x="598.20" y="415.18" width="4.05" height="0.87" fill="#d9f0d3"/>
<rect x="612.20" y="415.18" width="1.05" height="0.87" fill="#40004b"/>
<rect x="613.20" y="415.18" width="1.05" height="0.87" fill="#e7d4e8"/>
<rect x="614.20" y="415.18" width="1.05" height="0.87" fill="#efe6f0"/>
<rect x="615.20" y="415.18" width="1.05" height="0.87" fill="#e7d4e8"/>
<rect x="617.20" y="415.18" width="1.05" height="0.87" fill="#5b1567"/>
<rect x="619.20" y="415.18" width="1.05" height="0.87" fill="#efe6f0"/>
<rect x="620.20" y="415.18" width="1.05" height="0.87" fill="#e7d4e8"/>
<rect x="621.20" y="415.18" width="1.05" height="0.87" fill="#efe6f0"/>
<rect x="622.20" y="415.18" width="1.05" height="0.87" fill="#762a83"/>
<rect x="623.20" y="415.18" width="1.05" height="0.87" fill="#40004b"/>
<rect x="624.20" y="415.18" width="2.05" height="0.87" fill="#762a83"/>
<rect x="628.20" y="415.18" width="1.05" height="0.87" fill="#e7d4e8"/>
<rect x="629.20" y="415.18" width="2.05" height="0.87" fill="#40004b"/>
<rect x="631.20" y="415.18" width="3.05" height="0.87" fill="#762a83"/>
<rect x="634.20" y="415.18" width="3.05" height="0.87" fill="#5b1567"/>
<rect x="637.20" y="415.18" width="2.05" height="0.87" fill="#40004b"/>
<rect x="639.20" y="415.18" width="1.05" height="0.87" fill="#5b1567"/>
<rect x="640.20" y="415.18" width="1.05" height="0.87" fill="#762a83"/>
<rect x="641.20" y="415.18" width="2.05" height="0.87" fill="#e7d4e8"/>
<rect x="643.20" y="415.18" width="1.05" height="0.87" fill="#efe6f0"/>
<rect x="644.20" y="415.18" width="1.05" height="0.87" fill="#e7d4e8"/>
<rect x="647.20" y="415.18" width="3.05" height="0.87" fill="#d9f0d3"/>
<rect x="651.20" y="415.18" width="1.05" height="0.87" fill="#c0e6ba"/>
<rect x="652.20" y="415.18" width="2.05" height="0.87" fill="#d9f0d3"/>
<rect x="612.20" y="416.00" width="2.05" height="0.87" fill="#762a83"/>
<rect x="614.20" y="416.00" width="1.05" height="0.87" fill="#5b1567"/>
<rect x="615.20" y="416.00" width="1.05" height="0.87" fill="#762a83"/>
<rect x="616.20" y="416.00" width="1.05" height="0.87" fill="#5b1567"/>
<rect x="617.20" y="416.00" width="1.05" height="0.87" fill="#d4bcdc"/>
<rect x="618.20" y="416.00" width="1.05" height="0.87" fill="#9c68a9"/>
<rect x="619.20" y="416.00" width="2.05" height="0.87" fill="#762a83"/>
<rect x="621.20" y="416.00" width="2.05" height="0.87" fill="#5b1567"/>
<rect x="623.20" y="416.00" width="1.05" height="0.87" fill="#40004b"/>
<rect x="624.20" y="416.00" width="1.05" height="0.87" fill="#9c68a9"/>
<rect x="625.20" y="416.00" width="2.05" height="0.87" fill="#762a83"/>
<rect x="627.20" y="416.00" width="1.05" height="0.87" fill="#5b1567"/>
<rect x="628.20" y="416.00" width="1.05" height="0.87" fill="#9c68a9"/>
<rect x="629.20" y="416.00" width="1.05" height="0.87" fill="#e7d4e8"/>
<rect x="630.20" y="416.00" width="1.05" height="0.87" fill="#efe6f0"/>
<rect x="632.20" y="416.00" width="1.05" height="0.87" fill="#762a83"/>
<rect x="634.20" y="416.00" width="1.05" height="0.87" fill="#e7d4e8"/>
<rect x="636.20" y="416.00" width="1.05" height="0.87" fill="#efe6f0"/>
<rect x="637.20" y="416.00" width="1.05" height="0.87" fill="#762a83"/>
<rect x="638.20" y="416.00" width="1.05" height="0.87" fill="#e7d4e8"/>
<rect x="639.20" y="416.00" width="1.05" height="0.87" fill="#d4bcdc"/>
<rect x="640.20" y="416.00" width="1.05" height="0.87" fill="#c2a5cf"/>
<rect x="641.20" y="416.00" width="1.05" height="0.87" fill="#c0e6ba"/>
<rect x="642.20" y="416.00" width="1.05" height="0.87" fill="#0e5e29"/>
<rect x="612.20" y="416.81" width="1.05" height="0.87" fill="#9c68a9"/>
<rect x="613.20" y="416.81" width="1.05" height="0.87" fill="#e7d4e8"/>
<rect x="614.20" y="416.81" width="1.05" height="0.87" fill="#efe6f0"/>
<rect x="615.20" y="416.81" width="1.05" height="0.87" fill="#e7d4e8"/>
<rect x="616.20" y="416.81" width="1.05" height="0.87" fill="#c2a5cf"/>
<rect x="617.20" y="416.81" width="4.05" height="0.87" fill="#9c68a9"/>
<rect x="621.20" y="416.81" width="1.05" height="0.87" fill="#c2a5cf"/>
<rect x="622.20" y="416.81" width="1.05" height="0.87" fill="#9c68a9"/>
<rect x="623.20" y="416.81" width="1.05" height="0.87" fill="#c2a5cf"/>
<rect x="624.20" y="416.81" width="1.05" height="0.87" fill="#e7d4e8"/>
<rect x="625.20" y="416.81" width="2.05" height="0.87" fill="#9c68a9"/>
<rect x="627.20" y="416.81" width="1.05" height="0.87" fill="#c2a5cf"/>
<rect x="628.20" y="416.81" width="1.05" height="0.87" fill="#9c68a9"/>
<rect x="629.20" y="416.81" width="4.05" height="0.87" fill="#c2a5cf"/>
<rect x="633.20" y="416.81" width="2.05" height="0.87" fill="#9c68a9"/>
<rect x="635.20" y="416.81" width="1.05" height="0.87" fill="#762a83"/>
<rect x="636.20" y="416.81" width="1.05" height="0.87" fill="#d4bcdc"/>
<rect x="637.20" y="416.81" width="1.05" height="0.87" fill="#9c68a9"/>
<rect x="638.20" y="416.81" width="1.05" height="0.87" fill="#762a83"/>
<rect x="639.20" y="416.81" width="1.05" height="0.87" fill="#5b1567"/>
<rect x="640.20" y="416.81" width="1.05" height="0.87" fill="#40004b"/>
<rect x="641.20" y="416.81" width="3.05" height="0.87" fill="#e7d4e8"/>
<rect x="599.20" y="417.63" width="4.05" height="0.87" fill="#e7d4e8"/>
<rect x="612.20" y="417.63" width="1.05" height="0.87" fill="#762a83"/>
<rect x="613.20" y="417.63" width="1.05" height="0.87" fill="#e7d4e8"/>
<rect x="614.20" y="417.63" width="2.05" height="0.87" fill="#d4bcdc"/>
<rect x="616.20" y="417.63" width="1.05" height="0.87" fill="#5b1567"/>
<rect x="617.20" y="417.63" width="1.05" height="0.87" fill="#762a83"/>
<rect x="618.20" y="417.63" width="1.05" height="0.87" fill="#5b1567"/>
<rect x="619.20" y="417.63" width="1.05" height="0.87" fill="#9c68a9"/>
<rect x="620.20" y="417.63" width="1.05" height="0.87" fill="#762a83"/>
<rect x="621.20" y="417.63" width="1.05" height="0.87" fill="#5b1567"/>
<rect x="622.20" y="417.63" width="1.05" height="0.87" fill="#9c68a9"/>
<rect x="623.20" y="417.63" width="1.05" height="0.87" fill="#5b1567"/>
<rect x="624.20" y="417.63" width="3.05" height="0.87" fill="#9c68a9"/>
<rect x="627.20" y="417.63" width="1.05" height="0.87" fill="#5b1567"/>
<rect x="628.20" y="417.63" width="1.05" height="0.87" fill="#9c68a9"/>
<rect x="629.20" y="417.63" width="1.05" height="0.87" fill="#762a83"/>
<rect x="630.20" y="417.63" width="2.05" height="0.87" fill="#5b1567"/>
<rect x="632.20" y="417.63" width="1.05" height="0.87" fill="#762a83"/>
<rect x="633.20" y="417.63" width="2.05" height="0.87" fill="#5b1567"/>
<rect x="635.20" y="417.63" width="1.05" height="0.87" fill="#9c68a9"/>
<rect x="636.20" y="417.63" width="2.05" height="0.87" fill="#762a83"/>
<rect x="638.20" y="417.63" width="1.05" height="0.87" fill="#9c68a9"/>
<rect x="639.20" y="417.63" width="1.05" height="0.87" fill="#5b1567"/>
<rect x="640.20" y="417.63" width="1.05" height="0.87" fill="#9c68a9"/>
<rect x="642.20" y="417.63" width="2.05" height="0.87" fill="#d9f0d3"/>
<rect x="646.20" y="417.63" width="2.05" height="0.87" fill="#e7d4e8"/>
<rect x="649.20" y="417.63" width="1.05" height="0.87" fill="#e8f4e5"/>
<rect x="650.20" y="417.63" width="2.05" height="0.87" fill="#e7d4e8"/>
<rect x="605.20" y="418.45" width="4.05" height="0.87" fill="#c0e6ba"/>
<rect x="614.20" y="418.45" width="1.05" height="0.87" fill="#efe6f0"/>
<rect x="615.20" y="418.45" width="3.05" height="0.87" fill="#40004b"/>
<rect x="618.20" y="418.45" width="1.05" height="0.87" fill="#d4bcdc"/>
<rect x="619.20" y="418.45" width="1.05" height="0.87" fill="#e7d4e8"/>
<rect x="620.20" y="418.45" width="4.05" height="0.87" fill="#40004b"/>
<rect x="624.20" y="418.45" width="1.05" height="0.87" fill="#e7d4e8"/>
<rect x="625.20" y="418.45" width="2.05" height="0.87" fill="#efe6f0"/>
<rect x="627.20" y="418.45" width="1.05" height="0.87" fill="#e7d4e8"/>
<rect x="628.20" y="418.45" width="13.05" height="0.87" fill="#40004b"/>
<rect x="642.20" y="418.45" width="2.05" height="0.87" fill="#d9f0d3"/>
<rect x="653.20" y="418.45" width="1.05" height="0.87" fill="#d9f0d3"/>
<rect x="612.20" y="419.27" width="2.05" height="0.87" fill="#efe6f0"/>
<rect x="614.20" y="419.27" width="4.05" height="0.87" fill="#40004b"/>
<rect x="618.20" y="419.27" width="1.05" height="0.87" fill="#762a83"/>
<rect x="621.20" y="419.27" width="1.05" height="0.87" fill="#5b1567"/>
<rect x="622.20" y="419.27" width="2.05" height="0.87" fill="#40004b"/>
<rect x="624.20" y="419.27" width="1.05" height="0.87" fill="#e7d4e8"/>
<rect x="625.20" y="419.27" width="1.05" height="0.87" fill="#d4bcdc"/>
<rect x="626.20" y="419.27" width="1.05" height="0.87" fill="#e7d4e8"/>
<rect x="627.20" y="419.27" width="1.05" height="0.87" fill="#5b1567"/>
<rect x="628.20" y="419.27" width="1.05" height="0.87" fill="#40004b"/>
<rect x="629.20" y="419.27" width="3.05" height="0.87" fill="#5b1567"/>
<rect x="632.20" y="419.27" width="2.05" height="0.87" fill="#40004b"/>
<rect x="634.20" y="419.27" width="1.05" height="0.87" fill="#762a83"/>
<rect x="635.20" y="419.27" width="1.05" height="0.87" fill="#40004b"/>
<rect x="637.20" y="419.27" width="1.05" height="0.87" fill="#efe6f0"/>
<rect x="638.20" y="419.27" width="1.05" height="0.87" fill="#762a83"/>
<rect x="639.20" y="419.27" width="1.05" height="0.87" fill="#5b1567"/>
<rect x="640.20" y="419.27" width="1.05" height="0.87" fill="#40004b"/>
<rect x="653.20" y="419.27" width="1.05" height="0.87" fill="#c0e6ba"/>
<rect x="604.20" y="420.08" width="4.05" height="0.87" fill="#d9f0d3"/>
<rect x="612.20" y="420.08" width="1.05" height="0.87" fill="#5b1567"/>
<rect x="613.20" y="420.08" width="2.05" height="0.87" fill="#40004b"/>
<rect x="615.20" y="420.08" width="1.05" height="0.87" fill="#9c68a9"/>
<rect x="616.20" y="420.08" width="3.05" height="0.87" fill="#762a83"/>
<rect x="619.20" y="420.08" width="1.05" height="0.87" fill="#9c68a9"/>
<rect x="620.20" y="420.08" width="1.05" height="0.87" fill="#5b1567"/>
<rect x="621.20" y="420.08" width="2.05" height="0.87" fill="#762a83"/>
<rect x="623.20" y="420.08" width="1.05" height="0.87" fill="#d9f0d3"/>
<rect x="625.20" y="420.08" width="1.05" height="0.87" fill="#e7d4e8"/>
<rect x="626.20" y="420.08" width="1.05" height="0.87" fill="#efe6f0"/>
<rect x="627.20" y="420.08" width="2.05" height="0.87" fill="#40004b"/>
<rect x="629.20" y="420.08" width="1.05" height="0.87" fill="#5b1567"/>
<rect x="630.20" y="420.08" width="2.05" height="0.87" fill="#40004b"/>
<rect x="632.20" y="420.08" width="1.05" height="0.87" fill="#9c68a9"/>
<rect x="633.20" y="420.08" width="1.05" height="0.87" fill="#5b1567"/>
<rect x="634.20" y="420.08" width="3.05" height="0.87" fill="#762a83"/>
<rect x="637.20" y="420.08" width="1.05" height="0.87" fill="#5b1567"/>
<rect x="638.20" y="420.08" width="1.05" height="0.87" fill="#40004b"/>
<rect x="639.20" y="420.08" width="2.05" height="0.87" fill="#5b1567"/>
<rect x="649.20" y="420.08" width="1.05" height="0.87" fill="#d9f0d3"/>
<rect x="653.20" y="420.08" width="1.05" height="0.87" fill="#c0e6ba"/>
<rect x="606.20" y="420.90" width="1.05" height="0.87" fill="#d9f0d3"/>
<rect x="613.20" y="420.90" width="1.05" height="0.87" fill="#efe6f0"/>
<rect x="614.20" y="420.90" width="2.05" height="0.87" fill="#d4bcdc"/>
<rect x="616.20" y="420.90" width="2.05" height="0.87" fill="#e7d4e8"/>
<rect x="618.20" y="420.90" width="1.05" height="0.87" fill="#d4bcdc"/>
<rect x="619.20" y="420.90" width="2.05" height="0.87" fill="#e7d4e8"/>
<rect x="621.20" y="420.90" width="1.05" height="0.87" fill="#c2a5cf"/>
<rect x="622.20" y="420.90" width="1.05" height="0.87" fill="#e7d4e8"/>
<rect x="623.20" y="420.90" width="2.05" height="0.87" fill="#d4bcdc"/>
<rect x="625.20" y="420.90" width="2.05" height="0.87" fill="#e7d4e8"/>
<rect x="627.20" y="420.90" width="2.05" height="0.87" fill="#c2a5cf"/>
<rect x="629.20" y="420.90" width="1.05" height="0.87" fill="#d4bcdc"/>
<rect x="630.20" y="420.90" width="1.05" height="0.87" fill="#e7d4e8"/>
<rect x="631.20" y="420.90" width="1.05" height="0.87" fill="#d4bcdc"/>
<rect x="632.20" y="420.90" width="1.05" height="0.87" fill="#efe6f0"/>
<rect x="634.20" y="420.90" width="2.05" height="0.87" fill="#e7d4e8"/>
<rect x="636.20" y="420.90" width="1.05" height="0.87" fill="#c2a5cf"/>
<rect x="637.20" y="420.90" width="1.05" height="0.87" fill="#e7d4e8"/>
<rect x="638.20" y="420.90" width="1.05" height="0.87" fill="#d4bcdc"/>
<rect x="639.20" y="420.90" width="1.05" height="0.87" fill="#e7d4e8"/>
<rect x="640.20" y="420.90" width="1.05" height="0.87" fill="#c2a5cf"/>
<rect x="644.20" y="420.90" width="1.05" height="0.87" fill="#d9f0d3"/>
<rect x="650.20" y="420.90" width="4.05" height="0.87" fill="#e7d4e8"/>
<rect x="612.20" y="421.72" width="2.05" height="0.87" fill="#5b1567"/>
<rect x="614.20" y="421.72" width="4.05" height="0.87" fill="#40004b"/>
<rect x="618.20" y="421.72" width="1.05" height="0.87" fill="#5b1567"/>
<rect x="619.20" y="421.72" width="4.05" height="0.87" fill="#40004b"/>
<rect x="623.20" y="421.72" width="2.05" height="0.87" fill="#5b1567"/>
<rect x="625.20" y="421.72" width="4.05" height="0.87" fill="#40004b"/>
<rect x="629.20" y="421.72" width="2.05" height="0.87" fill="#5b1567"/>
<rect x="631.20" y="421.72" width="1.05" height="0.87" fill="#40004b"/>
<rect x="632.20" y="421.72" width="1.05" height="0.87" fill="#5b1567"/>
<rect x="633.20" y="421.72" width="4.05" height="0.87" fill="#40004b"/>
<rect x="637.20" y="421.72" width="1.05" height="0.87" fill="#5b1567"/>
<rect x="638.20" y="421.72" width="1.05" height="0.87" fill="#40004b"/>
<rect x="639.20" y="421.72" width="2.05" height="0.87" fill="#5b1567"/>
<rect x="642.20" y="421.72" width="4.05" height="0.87" fill="#e7d4e8"/>
<rect x="647.20" y="421.72" width="2.05" height="0.87" fill="#e7d4e8"/>
<rect x="612.20" y="422.54" width="1.05" height="0.87" fill="#40004b"/>
<rect x="613.20" y="422.54" width="1.05" height="0.87" fill="#5b1567"/>
<rect x="614.20" y="422.54" width="1.05" height="0.87" fill="#efe6f0"/>
<rect x="616.20" y="422.54" width="12.05" height="0.87" fill="#40004b"/>
<rect x="628.20" y="422.54" width="1.05" height="0.87" fill="#5b1567"/>
<rect x="629.20" y="422.54" width="4.05" height="0.87" fill="#40004b"/>
<rect x="633.20" y="422.54" width="1.05" height="0.87" fill="#762a83"/>
<rect x="634.20" y="422.54" width="1.05" height="0.87" fill="#40004b"/>
<rect x="635.20" y="422.54" width="2.05" height="0.87" fill="#5b1567"/>
<rect x="637.20" y="422.54" width="4.05" height="0.87" fill="#40004b"/>
<rect x="641.20" y="422.54" width="2.05" height="0.87" fill="#e7d4e8"/>
<rect x="646.20" y="422.54" width="3.05" height="0.87" fill="#e7d4e8"/>
<rect x="651.20" y="422.54" width="3.05" height="0.87" fill="#e7d4e8"/>
<rect x="601.20" y="423.35" width="1.05" height="0.87" fill="#d9f0d3"/>
<rect x="612.20" y="423.35" width="1.05" height="0.87" fill="#9c68a9"/>
<rect x="613.20" y="423.35" width="1.05" height="0.87" fill="#5b1567"/>
<rect x="614.20" y="423.35" width="1.05" height="0.87" fill="#762a83"/>
<rect x="615.20" y="423.35" width="1.05" height="0.87" fill="#5b1567"/>
<rect x="616.20" y="423.35" width="1.05" height="0.87" fill="#762a83"/>
<rect x="617.20" y="423.35" width="2.05" height="0.87" fill="#e7d4e8"/>
<rect x="620.20" y="423.35" width="1.05" height="0.87" fill="#e7d4e8"/>
<rect x="621.20" y="423.35" width="1.05" height="0.87" fill="#762a83"/>
<rect x="622.20" y="423.35" width="2.05" height="0.87" fill="#40004b"/>
<rect x="624.20" y="423.35" width="2.05" height="0.87" fill="#5b1567"/>
<rect x="626.20" y="423.35" width="1.05" height="0.87" fill="#40004b"/>
<rect x="627.20" y="423.35" width="1.05" height="0.87" fill="#5b1567"/>
<rect x="628.20" y="423.35" width="2.05" height="0.87" fill="#762a83"/>
<rect x="630.20" y="423.35" width="1.05" height="0.87" fill="#9c68a9"/>
<rect x="631.20" y="423.35" width="2.05" height="0.87" fill="#762a83"/>
<rect x="633.20" y="423.35" width="1.05" height="0.87" fill="#5b1567"/>
<rect x="634.20" y="423.35" width="3.05" height="0.87" fill="#40004b"/>
<rect x="637.20" y="423.35" width="2.05" height="0.87" fill="#9c68a9"/>
<rect x="639.20" y="423.35" width="1.05" height="0.87" fill="#762a83"/>
<rect x="640.20" y="423.35" width="1.05" height="0.87" fill="#5b1567"/>
<rect x="646.20" y="423.35" width="1.05" height="0.87" fill="#a6dba0"/>
<rect x="647.20" y="423.35" width="2.05" height="0.87" fill="#60aa6c"/>
<rect x="649.20" y="423.35" width="1.05" height="0.87" fill="#1b7837"/>
<rect x="650.20" y="423.35" width="1.05" height="0.87" fill="#d9f0d3"/>
<rect x="651.20" y="423.35" width="1.05" height="0.87" fill="#e8f4e5"/>
<rect x="652.20" y="423.35" width="1.05" height="0.87" fill="#d9f0d3"/>
<rect x="612.20" y="424.17" width="1.05" height="0.87" fill="#762a83"/>
<rect x="613.20" y="424.17" width="1.05" height="0.87" fill="#40004b"/>
<rect x="615.20" y="424.17" width="3.05" height="0.87" fill="#e7d4e8"/>
<rect x="618.20" y="424.17" width="1.05" height="0.87" fill="#5b1567"/>
<rect x="619.20" y="424.17" width="7.05" height="0.87" fill="#40004b"/>
<rect x="626.20" y="424.17" width="1.05" height="0.87" fill="#762a83"/>
<rect x="627.20" y="424.17" width="1.05" height="0.87" fill="#40004b"/>
<rect x="628.20" y="424.17" width="1.05" height="0.87" fill="#762a83"/>
<rect x="629.20" y="424.17" width="4.05" height="0.87" fill="#40004b"/>
<rect x="633.20" y="424.17" width="1.05" height="0.87" fill="#5b1567"/>
<rect x="634.20" y="424.17" width="1.05" height="0.87" fill="#40004b"/>
<rect x="635.20" y="424.17" width="2.05" height="0.87" fill="#762a83"/>
<rect x="637.20" y="424.17" width="4.05" height="0.87" fill="#40004b"/>
<rect x="641.20" y="424.17" width="1.05" height="0.87" fill="#e7d4e8"/>
<rect x="651.20" y="424.17" width="1.05" height="0.87" fill="#c0e6ba"/>
<rect x="653.20" y="424.17" width="1.05" height="0.87" fill="#a6dba0"/>
<rect x="612.20" y="424.99" width="13.05" height="0.87" fill="#40004b"/>
<rect x="625.20" y="424.99" width="1.05" height="0.87" fill="#e7d4e8"/>
<rect x="626.20" y="424.99" width="1.05" height="0.87" fill="#d4bcdc"/>
<rect x="627.20" y="424.99" width="4.05" height="0.87" fill="#40004b"/>
<rect x="631.20" y="424.99" width="1.05" height="0.87" fill="#5b1567"/>
<rect x="632.20" y="424.99" width="1.05" height="0.87" fill="#40004b"/>
<rect x="633.20" y="424.99" width="1.05" height="0.87" fill="#5b1567"/>
<rect x="634.20" y="424.99" width="1.05" height="0.87" fill="#e7d4e8"/>
<rect x="635.20" y="424.99" width="4.05" height="0.87" fill="#40004b"/>
<rect x="639.20" y="424.99" width="1.05" height="0.87" fill="#762a83"/>
<rect x="640.20" y="424.99" width="1.05" height="0.87" fill="#40004b"/>
<rect x="651.20" y="424.99" width="1.05" height="0.87" fill="#d9f0d3"/>
<rect x="605.20" y="425.81" width="4.05" height="0.87" fill="#d9f0d3"/>
<rect x="612.20" y="425.81" width="1.05" height="0.87" fill="#5b1567"/>
<rect x="613.20" y="425.81" width="3.05" height="0.87" fill="#762a83"/>
<rect x="616.20" y="425.81" width="1.05" height="0.87" fill="#9c68a9"/>
<rect x="617.20" y="425.81" width="1.05" height="0.87" fill="#5b1567"/>
<rect x="618.20" y="425.81" width="2.05" height="0.87" fill="#9c68a9"/>
<rect x="620.20" y="425.81" width="2.05" height="0.87" fill="#5b1567"/>
<rect x="622.20" y="425.81" width="1.05" height="0.87" fill="#762a83"/>
<rect x="623.20" y="425.81" width="1.05" height="0.87" fill="#5b1567"/>
<rect x="624.20" y="425.81" width="1.05" height="0.87" fill="#762a83"/>
<rect x="625.20" y="425.81" width="1.05" height="0.87" fill="#9c68a9"/>
<rect x="626.20" y="425.81" width="2.05" height="0.87" fill="#5b1567"/>
<rect x="628.20" y="425.81" width="4.05" height="0.87" fill="#762a83"/>
<rect x="632.20" y="425.81" width="1.05" height="0.87" fill="#9c68a9"/>
<rect x="633.20" y="425.81" width="1.05" height="0.87" fill="#5b1567"/>
<rect x="634.20" y="425.81" width="2.05" height="0.87" fill="#9c68a9"/>
<rect x="636.20" y="425.81" width="1.05" height="0.87" fill="#762a83"/>
<rect x="637.20" y="425.81" width="1.05" height="0.87" fill="#5b1567"/>
<rect x="638.20" y="425.81" width="1.05" height="0.87" fill="#9c68a9"/>
<rect x="639.20" y="425.81" width="1.05" height="0.87" fill="#5b1567"/>
<rect x="640.20" y="425.81" width="1.05" height="0.87" fill="#762a83"/>
<rect x="652.20" y="425.81" width="2.05" height="0.87" fill="#c0e6ba"/>
<rect x="612.20" y="426.63" width="1.05" height="0.87" fill="#40004b"/>
<rect x="613.20" y="426.63" width="2.05" height="0.87" fill="#762a83"/>
<rect x="615.20" y="426.63" width="1.05" height="0.87" fill="#5b1567"/>
<rect x="616.20" y="426.63" width="1.05" height="0.87" fill="#40004b"/>
<rect x="617.20" y="426.63" width="1.05" height="0.87" fill="#5b1567"/>
<rect x="618.20" y="426.63" width="1.05" height="0.87" fill="#40004b"/>
<rect x="619.20" y="426.63" width="3.05" height="0.87" fill="#5b1567"/>
<rect x="622.20" y="426.63" width="2.05" height="0.87" fill="#40004b"/>
<rect x="624.20" y="426.63" width="1.05" height="0.87" fill="#5b1567"/>
<rect x="625.20" y="426.63" width="1.05" height="0.87" fill="#40004b"/>
<rect x="626.20" y="426.63" width="2.05" height="0.87" fill="#5b1567"/>
<rect x="628.20" y="426.63" width="1.05" height="0.87" fill="#40004b"/>
<rect x="629.20" y="426.63" width="3.05" height="0.87" fill="#5b1567"/>
<rect x="632.20" y="426.63" width="1.05" height="0.87" fill="#40004b"/>
<rect x="633.20" y="426.63" width="1.05" height="0.87" fill="#5b1567"/>
<rect x="634.20" y="426.63" width="2.05" height="0.87" fill="#40004b"/>
<rect x="636.20" y="426.63" width="1.05" height="0.87" fill="#c2a5cf"/>
<rect x="637.20" y="426.63" width="1.05" height="0.87" fill="#d4bcdc"/>
<rect x="638.20" y="426.63" width="1.05" height="0.87" fill="#e7d4e8"/>
<rect x="639.20" y="426.63" width="1.05" height="0.87" fill="#40004b"/>
<rect x="640.20" y="426.63" width="1.05" height="0.87" fill="#d4bcdc"/>
<rect x="646.20" y="426.63" width="1.05" height="0.87" fill="#c0e6ba"/>
<rect x="647.20" y="426.63" width="2.05" height="0.87" fill="#a6dba0"/>
<rect x="649.20" y="426.63" width="1.05" height="0.87" fill="#c0e6ba"/>
<rect x="651.20" y="426.63" width="1.05" height="0.87" fill="#e7d4e8"/>
<rect x="605.20" y="427.44" width="1.05" height="0.87" fill="#e7d4e8"/>
<rect x="612.20" y="427.44" width="7.05" height="0.87" fill="#40004b"/>
<rect x="619.20" y="427.44" width="2.05" height="0.87" fill="#e7d4e8"/>
<rect x="622.20" y="427.44" width="15.05" height="0.87" fill="#40004b"/>
<rect x="637.20" y="427.44" width="1.05" height="0.87" fill="#efe6f0"/>
<rect x="638.20" y="427.44" width="1.05" height="0.87" fill="#e7d4e8"/>
<rect x="639.20" y="427.44" width="1.05" height="0.87" fill="#d4bcdc"/>
<rect x="640.20" y="427.44" width="3.05" height="0.87" fill="#e7d4e8"/>
<rect x="643.20" y="427.44" width="1.05" height="0.87" fill="#e8f4e5"/>
<rect x="644.20" y="427.44" width="2.05" height="0.87" fill="#c0e6ba"/>
<rect x="646.20" y="427.44" width="1.05" height="0.87" fill="#d9f0d3"/>
<rect x="647.20" y="427.44" width="1.05" height="0.87" fill="#c0e6ba"/>
<rect x="649.20" y="427.44" width="1.05" height="0.87" fill="#c0e6ba"/>
<rect x="602.20" y="428.26" width="3.05" height="0.87" fill="#d9f0d3"/>
<rect x="607.20" y="428.26" width="3.05" height="0.87" fill="#c0e6ba"/>
<rect x="612.20" y="428.26" width="1.05" height="0.87" fill="#40004b"/>
<rect x="613.20" y="428.26" width="2.05" height="0.87" fill="#5b1567"/>
<rect x="615.20" y="428.26" width="1.05" height="0.87" fill="#762a83"/>
<rect x="616.20" y="428.26" width="1.05" height="0.87" fill="#c2a5cf"/>
<rect x="617.20" y="428.26" width="1.05" height="0.87" fill="#40004b"/>
<rect x="618.20" y="428.26" width="2.05" height="0.87" fill="#5b1567"/>
<rect x="620.20" y="428.26" width="1.05" height="0.87" fill="#40004b"/>
<rect x="621.20" y="428.26" width="1.05" height="0.87" fill="#762a83"/>
<rect x="622.20" y="428.26" width="1.05" height="0.87" fill="#5b1567"/>
<rect x="623.20" y="428.26" width="1.05" height="0.87" fill="#40004b"/>
<rect x="624.20" y="428.26" width="2.05" height="0.87" fill="#5b1567"/>
<rect x="626.20" y="428.26" width="1.05" height="0.87" fill="#40004b"/>
<rect x="628.20" y="428.26" width="2.05" height="0.87" fill="#e7d4e8"/>
<rect x="631.20" y="428.26" width="1.05" height="0.87" fill="#40004b"/>
<rect x="632.20" y="428.26" width="1.05" height="0.87" fill="#9c68a9"/>
<rect x="633.20" y="428.26" width="1.05" height="0.87" fill="#762a83"/>
<rect x="634.20" y="428.26" width="2.05" height="0.87" fill="#5b1567"/>
<rect x="636.20" y="428.26" width="1.05" height="0.87" fill="#40004b"/>
<rect x="637.20" y="428.26" width="1.05" height="0.87" fill="#5b1567"/>
<rect x="638.20" y="428.26" width="1.05" height="0.87" fill="#762a83"/>
<rect x="639.20" y="428.26" width="1.05" height="0.87" fill="#5b1567"/>
<rect x="640.20" y="428.26" width="1.05" height="0.87" fill="#40004b"/>
<rect x="643.20" y="428.26" width="4.05" height="0.87" fill="#e7d4e8"/>
<rect x="604.20" y="429.08" width="1.05" height="0.87" fill="#e7d4e8"/>
<rect x="605.20" y="429.08" width="1.05" height="0.87" fill="#efe6f0"/>
<rect x="606.20" y="429.08" width="3.05" height="0.87" fill="#e7d4e8"/>
<rect x="612.20" y="429.08" width="1.05" height="0.87" fill="#5b1567"/>
<rect x="613.20" y="429.08" width="1.05" height="0.87" fill="#40004b"/>
<rect x="614.20" y="429.08" width="1.05" height="0.87" fill="#5b1567"/>
<rect x="615.20" y="429.08" width="1.05" height="0.87" fill="#e7d4e8"/>
<rect x="617.20" y="429.08" width="1.05" height="0.87" fill="#d4bcdc"/>
<rect x="618.20" y="429.08" width="1.05" height="0.87" fill="#c2a5cf"/>
<rect x="619.20" y="429.08" width="1.05" height="0.87" fill="#5b1567"/>
<rect x="620.20" y="429.08" width="1.05" height="0.87" fill="#762a83"/>
<rect x="621.20" y="429.08" width="1.05" height="0.87" fill="#5b1567"/>
<rect x="622.20" y="429.08" width="1.05" height="0.87" fill="#c2a5cf"/>
<rect x="623.20" y="429.08" width="1.05" height="0.87" fill="#e7d4e8"/>
<rect x="624.20" y="429.08" width="2.05" height="0.87" fill="#c2a5cf"/>
<rect x="626.20" y="429.08" width="1.05" height="0.87" fill="#e7d4e8"/>
<rect x="627.20" y="429.08" width="1.05" height="0.87" fill="#c2a5cf"/>
<rect x="628.20" y="429.08" width="1.05" height="0.87" fill="#e7d4e8"/>
<rect x="629.20" y="429.08" width="2.05" height="0.87" fill="#5b1567"/>
<rect x="631.20" y="429.08" width="1.05" height="0.87" fill="#40004b"/>
<rect x="632.20" y="429.08" width="1.05" height="0.87" fill="#762a83"/>
<rect x="633.20" y="429.08" width="1.05" height="0.87" fill="#40004b"/>
<rect x="634.20" y="429.08" width="1.05" height="0.87" fill="#d4bcdc"/>
<rect x="635.20" y="429.08" width="2.05" height="0.87" fill="#c2a5cf"/>
<rect x="637.20" y="429.08" width="1.05" height="0.87" fill="#e7d4e8"/>
<rect x="638.20" y="429.08" width="1.05" height="0.87" fill="#762a83"/>
<rect x="639.20" y="429.08" width="1.05" height="0.87" fill="#5b1567"/>
<rect x="640.20" y="429.08" width="1.05" height="0.87" fill="#40004b"/>
<rect x="646.20" y="429.08" width="4.05" height="0.87" fill="#d9f0d3"/>
<rect x="603.20" y="429.90" width="3.05" height="0.87" fill="#e7d4e8"/>
<rect x="612.20" y="429.90" width="5.05" height="0.87" fill="#40004b"/>
<rect x="617.20" y="429.90" width="1.05" height="0.87" fill="#5b1567"/>
<rect x="618.20" y="429.90" width="1.05" height="0.87" fill="#40004b"/>
<rect x="619.20" y="429.90" width="1.05" height="0.87" fill="#5b1567"/>
<rect x="620.20" y="429.90" width="1.05" height="0.87" fill="#40004b"/>
<rect x="621.20" y="429.90" width="2.05" height="0.87" fill="#5b1567"/>
<rect x="623.20" y="429.90" width="1.05" height="0.87" fill="#40004b"/>
<rect x="624.20" y="429.90" width="1.05" height="0.87" fill="#5b1567"/>
<rect x="625.20" y="429.90" width="3.05" height="0.87" fill="#40004b"/>
<rect x="628.20" y="429.90" width="1.05" height="0.87" fill="#5b1567"/>
<rect x="629.20" y="429.90" width="3.05" height="0.87" fill="#40004b"/>
<rect x="632.20" y="429.90" width="2.05" height="0.87" fill="#762a83"/>
<rect x="634.20" y="429.90" width="1.05" height="0.87" fill="#5b1567"/>
<rect x="635.20" y="429.90" width="1.05" height="0.87" fill="#762a83"/>
<rect x="636.20" y="429.90" width="1.05" height="0.87" fill="#40004b"/>
<rect x="637.20" y="429.90" width="1.05" height="0.87" fill="#5b1567"/>
<rect x="638.20" y="429.90" width="1.05" height="0.87" fill="#40004b"/>
<rect x="640.20" y="429.90" width="1.05" height="0.87" fill="#d4bcdc"/>
<rect x="651.20" y="429.90" width="1.05" height="0.87" fill="#c0e6ba"/>
<rect x="602.20" y="430.71" width="1.05" height="0.87" fill="#d9f0d3"/>
<rect x="603.20" y="430.71" width="2.05" height="0.87" fill="#c0e6ba"/>
<rect x="605.20" y="430.71" width="1.05" height="0.87" fill="#d9f0d3"/>
<rect x="606.20" y="430.71" width="1.05" height="0.87" fill="#c0e6ba"/>
<rect x="612.20" y="430.71" width="13.05" height="0.87" fill="#40004b"/>
<rect x="625.20" y="430.71" width="1.05" height="0.87" fill="#5b1567"/>
<rect x="626.20" y="430.71" width="12.05" height="0.87" fill="#40004b"/>
<rect x="638.20" y="430.71" width="1.05" height="0.87" fill="#9c68a9"/>
<rect x="639.20" y="430.71" width="1.05" height="0.87" fill="#762a83"/>
<rect x="640.20" y="430.71" width="1.05" height="0.87" fill="#40004b"/>
<rect x="641.20" y="430.71" width="1.05" height="0.87" fill="#d9f0d3"/>
<rect x="646.20" y="430.71" width="2.05" height="0.87" fill="#d9f0d3"/>
<rect x="648.20" y="430.71" width="1.05" height="0.87" fill="#c0e6ba"/>
<rect x="612.20" y="431.53" width="1.05" height="0.87" fill="#d9f0d3"/>
<rect x="613.20" y="431.53" width="1.05" height="0.87" fill="#efe6f0"/>
<rect x="614.20" y="431.53" width="1.05" height="0.87" fill="#e7d4e8"/>
<rect x="615.20" y="431.53" width="1.05" height="0.87" fill="#d4bcdc"/>
<rect x="616.20" y="431.53" width="2.05" height="0.87" fill="#e7d4e8"/>
<rect x="618.20" y="431.53" width="1.05" height="0.87" fill="#d4bcdc"/>
<rect x="619.20" y="431.53" width="1.05" height="0.87" fill="#e7d4e8"/>
<rect x="620.20" y="431.53" width="1.05" height="0.87" fill="#c2a5cf"/>
<rect x="621.20" y="431.53" width="1.05" height="0.87" fill="#efe6f0"/>
<rect x="622.20" y="431.53" width="1.05" height="0.87" fill="#c2a5cf"/>
<rect x="623.20" y="431.53" width="1.05" height="0.87" fill="#efe6f0"/>
<rect x="624.20" y="431.53" width="1.05" height="0.87" fill="#e7d4e8"/>
<rect x="625.20" y="431.53" width="1.05" height="0.87" fill="#c2a5cf"/>
<rect x="626.20" y="431.53" width="1.05" height="0.87" fill="#e7d4e8"/>
<rect x="627.20" y="431.53" width="1.05" height="0.87" fill="#d4bcdc"/>
<rect x="628.20" y="431.53" width="1.05" height="0.87" fill="#efe6f0"/>
<rect x="629.20" y="431.53" width="2.05" height="0.87" fill="#d4bcdc"/>
<rect x="631.20" y="431.53" width="1.05" height="0.87" fill="#e7d4e8"/>
<rect x="632.20" y="431.53" width="1.05" height="0.87" fill="#efe6f0"/>
<rect x="633.20" y="431.53" width="2.05" height="0.87" fill="#e7d4e8"/>
<rect x="635.20" y="431.53" width="1.05" height="0.87" fill="#d4bcdc"/>
<rect x="636.20" y="431.53" width="1.05" height="0.87" fill="#e7d4e8"/>
<rect x="637.20" y="431.53" width="1.05" height="0.87" fill="#efe6f0"/>
<rect x="638.20" y="431.53" width="3.05" height="0.87" fill="#c2a5cf"/>
<rect x="641.20" y="431.53" width="2.05" height="0.87" fill="#e7d4e8"/>
<rect x="648.20" y="431.53" width="1.05" height="0.87" fill="#a6dba0"/>
<rect x="649.20" y="431.53" width="2.05" height="0.87" fill="#c0e6ba"/>
<rect x="651.20" y="431.53" width="1.05" height="0.87" fill="#a6dba0"/>
<rect x="612.20" y="432.35" width="1.05" height="0.87" fill="#40004b"/>
<rect x="613.20" y="432.35" width="2.05" height="0.87" fill="#e7d4e8"/>
<rect x="615.20" y="432.35" width="2.05" height="0.87" fill="#efe6f0"/>
<rect x="617.20" y="432.35" width="1.05" height="0.87" fill="#5b1567"/>
<rect x="618.20" y="432.35" width="2.05" height="0.87" fill="#40004b"/>
<rect x="620.20" y="432.35" width="1.05" height="0.87" fill="#5b1567"/>
<rect x="621.20" y="432.35" width="2.05" height="0.87" fill="#40004b"/>
<rect x="623.20" y="432.35" width="1.05" height="0.87" fill="#d4bcdc"/>
<rect x="624.20" y="432.35" width="2.05" height="0.87" fill="#40004b"/>
<rect x="626.20" y="432.35" width="1.05" height="0.87" fill="#762a83"/>
<rect x="627.20" y="432.35" width="2.05" height="0.87" fill="#40004b"/>
<rect x="629.20" y="432.35" width="1.05" height="0.87" fill="#5b1567"/>
<rect x="630.20" y="432.35" width="3.05" height="0.87" fill="#40004b"/>
<rect x="633.20" y="432.35" width="1.05" height="0.87" fill="#5b1567"/>
<rect x="634.20" y="432.35" width="1.05" height="0.87" fill="#40004b"/>
<rect x="635.20" y="432.35" width="1.05" height="0.87" fill="#762a83"/>
<rect x="636.20" y="432.35" width="1.05" height="0.87" fill="#5b1567"/>
<rect x="637.20" y="432.35" width="2.05" height="0.87" fill="#40004b"/>
<rect x="639.20" y="432.35" width="1.05" height="0.87" fill="#5b1567"/>
<rect x="640.20" y="432.35" width="1.05" height="0.87" fill="#40004b"/>
<rect x="641.20" y="432.35" width="1.05" height="0.87" fill="#a6dba0"/>
<rect x="642.20" y="432.35" width="1.05" height="0.87" fill="#c0e6ba"/>
<rect x="643.20" y="432.35" width="1.05" height="0.87" fill="#a6dba0"/>
<rect x="644.20" y="432.35" width="1.05" height="0.87" fill="#c0e6ba"/>
<rect x="648.20" y="432.35" width="3.05" height="0.87" fill="#d9f0d3"/>
<rect x="652.20" y="432.35" width="1.05" height="0.87" fill="#c0e6ba"/>
<rect x="653.20" y="432.35" width="1.05" height="0.87" fill="#d9f0d3"/>
<rect x="612.20" y="433.17" width="9.05" height="0.87" fill="#40004b"/>
<rect x="621.20" y="433.17" width="1.05" height="0.87" fill="#5b1567"/>
<rect x="622.20" y="433.17" width="10.05" height="0.87" fill="#40004b"/>
<rect x="632.20" y="433.17" width="1.05" height="0.87" fill="#efe6f0"/>
<rect x="633.20" y="433.17" width="1.05" height="0.87" fill="#e7d4e8"/>
<rect x="635.20" y="433.17" width="3.05" height="0.87" fill="#40004b"/>
<rect x="638.20" y="433.17" width="1.05" height="0.87" fill="#5b1567"/>
<rect x="639.20" y="433.17" width="2.05" height="0.87" fill="#40004b"/>
<rect x="644.20" y="433.17" width="1.05" height="0.87" fill="#e7d4e8"/>
<rect x="645.20" y="433.17" width="2.05" height="0.87" fill="#e8f4e5"/>
<rect x="647.20" y="433.17" width="1.05" height="0.87" fill="#c0e6ba"/>
<rect x="600.20" y="433.99" width="1.05" height="0.87" fill="#c0e6ba"/>
<rect x="608.20" y="433.99" width="1.05" height="0.87" fill="#d9f0d3"/>
<rect x="610.20" y="433.99" width="1.05" height="0.87" fill="#d9f0d3"/>
<rect x="611.20" y="433.99" width="1.05" height="0.87" fill="#e8f4e5"/>
<rect x="612.20" y="433.99" width="1.05" height="0.87" fill="#d4bcdc"/>
<rect x="613.20" y="433.99" width="1.05" height="0.87" fill="#e7d4e8"/>
<rect x="614.20" y="433.99" width="2.05" height="0.87" fill="#d4bcdc"/>
<rect x="616.20" y="433.99" width="1.05" height="0.87" fill="#c2a5cf"/>
<rect x="617.20" y="433.99" width="1.05" height="0.87" fill="#9c68a9"/>
<rect x="618.20" y="433.99" width="1.05" height="0.87" fill="#d4bcdc"/>
<rect x="619.20" y="433.99" width="1.05" height="0.87" fill="#e7d4e8"/>
<rect x="620.20" y="433.99" width="1.05" height="0.87" fill="#d4bcdc"/>
<rect x="621.20" y="433.99" width="2.05" height="0.87" fill="#9c68a9"/>
<rect x="623.20" y="433.99" width="2.05" height="0.87" fill="#c2a5cf"/>
<rect x="625.20" y="433.99" width="3.05" height="0.87" fill="#9c68a9"/>
<rect x="628.20" y="433.99" width="1.05" height="0.87" fill="#c2a5cf"/>
<rect x="629.20" y="433.99" width="3.05" height="0.87" fill="#9c68a9"/>
<rect x="632.20" y="433.99" width="1.05" height="0.87" fill="#c2a5cf"/>
<rect x="633.20" y="433.99" width="7.05" height="0.87" fill="#9c68a9"/>
<rect x="640.20" y="433.99" width="1.05" height="0.87" fill="#d4bcdc"/>
<rect x="641.20" y="433.99" width="4.05" height="0.87" fill="#d9f0d3"/>
<rect x="645.20" y="433.99" width="1.05" height="0.87" fill="#a6dba0"/>
<rect x="646.20" y="433.99" width="2.05" height="0.87" fill="#d9f0d3"/>
<rect x="653.20" y="433.99" width="1.05" height="0.87" fill="#a6dba0"/>
<rect x="608.20" y="434.80" width="1.05" height="0.87" fill="#c0e6ba"/>
<rect x="612.20" y="434.80" width="2.05" height="0.87" fill="#40004b"/>
<rect x="614.20" y="434.80" width="3.05" height="0.87" fill="#e7d4e8"/>
<rect x="618.20" y="434.80" width="1.05" height="0.87" fill="#762a83"/>
<rect x="619.20" y="434.80" width="3.05" height="0.87" fill="#5b1567"/>
<rect x="622.20" y="434.80" width="2.05" height="0.87" fill="#40004b"/>
<rect x="624.20" y="434.80" width="1.05" height="0.87" fill="#762a83"/>
<rect x="625.20" y="434.80" width="1.05" height="0.87" fill="#5b1567"/>
<rect x="626.20" y="434.80" width="1.05" height="0.87" fill="#40004b"/>
<rect x="627.20" y="434.80" width="2.05" height="0.87" fill="#5b1567"/>
<rect x="629.20" y="434.80" width="1.05" height="0.87" fill="#40004b"/>
<rect x="630.20" y="434.80" width="1.05" height="0.87" fill="#5b1567"/>
<rect x="631.20" y="434.80" width="2.05" height="0.87" fill="#40004b"/>
<rect x="633.20" y="434.80" width="2.05" height="0.87" fill="#762a83"/>
<rect x="636.20" y="434.80" width="1.05" height="0.87" fill="#efe6f0"/>
<rect x="637.20" y="434.80" width="1.05" height="0.87" fill="#e7d4e8"/>
<rect x="639.20" y="434.80" width="1.05" height="0.87" fill="#5b1567"/>
<rect x="640.20" y="434.80" width="1.05" height="0.87" fill="#40004b"/>
<rect x="641.20" y="434.80" width="2.05" height="0.87" fill="#e7d4e8"/>
<rect x="645.20" y="434.80" width="1.05" height="0.87" fill="#1b7837"/>
<rect x="646.20" y="434.80" width="2.05" height="0.87" fill="#c0e6ba"/>
<rect x="600.20" y="435.62" width="1.05" height="0.87" fill="#a6dba0"/>
<rect x="601.20" y="435.62" width="2.05" height="0.87" fill="#c0e6ba"/>
<rect x="612.20" y="435.62" width="5.05" height="0.87" fill="#40004b"/>
<rect x="617.20" y="435.62" width="2.05" height="0.87" fill="#e7d4e8"/>
<rect x="619.20" y="435.62" width="1.05" height="0.87" fill="#d4bcdc"/>
<rect x="620.20" y="435.62" width="1.05" height="0.87" fill="#efe6f0"/>
<rect x="621.20" y="435.62" width="2.05" height="0.87" fill="#40004b"/>
<rect x="623.20" y="435.62" width="1.05" height="0.87" fill="#efe6f0"/>
<rect x="624.20" y="435.62" width="1.05" height="0.87" fill="#d4bcdc"/>
<rect x="625.20" y="435.62" width="1.05" height="0.87" fill="#e7d4e8"/>
<rect x="626.20" y="435.62" width="7.05" height="0.87" fill="#40004b"/>
<rect x="633.20" y="435.62" width="1.05" height="0.87" fill="#e7d4e8"/>
<rect x="634.20" y="435.62" width="1.05" height="0.87" fill="#c2a5cf"/>
<rect x="635.20" y="435.62" width="1.05" height="0.87" fill="#d4bcdc"/>
<rect x="636.20" y="435.62" width="5.05" height="0.87" fill="#40004b"/>
<rect x="649.20" y="435.62" width="2.05" height="0.87" fill="#e7d4e8"/>
<rect x="652.20" y="435.62" width="2.05" height="0.87" fill="#e7d4e8"/>
<rect x="603.20" y="436.44" width="3.05" height="0.87" fill="#e7d4e8"/>
<rect x="606.20" y="436.44" width="1.05" height="0.87" fill="#efe6f0"/>
<rect x="612.20" y="436.44" width="7.05" height="0.87" fill="#40004b"/>
<rect x="619.20" y="436.44" width="3.05" height="0.87" fill="#e7d4e8"/>
<rect x="622.20" y="436.44" width="2.05" height="0.87" fill="#40004b"/>
<rect x="624.20" y="436.44" width="1.05" height="0.87" fill="#e8f4e5"/>
<rect x="625.20" y="436.44" width="1.05" height="0.87" fill="#40004b"/>
<rect x="626.20" y="436.44" width="1.05" height="0.87" fill="#5b1567"/>
<rect x="627.20" y="436.44" width="9.05" height="0.87" fill="#40004b"/>
<rect x="636.20" y="436.44" width="2.05" height="0.87" fill="#762a83"/>
<rect x="638.20" y="436.44" width="1.05" height="0.87" fill="#40004b"/>
<rect x="639.20" y="436.44" width="2.05" height="0.87" fill="#762a83"/>
<rect x="641.20" y="436.44" width="3.05" height="0.87" fill="#c0e6ba"/>
<rect x="649.20" y="436.44" width="3.05" height="0.87" fill="#e7d4e8"/>
<rect x="653.20" y="436.44" width="1.05" height="0.87" fill="#e7d4e8"/>
<rect x="610.20" y="437.26" width="2.05" height="0.87" fill="#e7d4e8"/>
<rect x="612.20" y="437.26" width="6.05" height="0.87" fill="#40004b"/>
<rect x="618.20" y="437.26" width="1.05" height="0.87" fill="#d4bcdc"/>
<rect x="619.20" y="437.26" width="1.05" height="0.87" fill="#efe6f0"/>
<rect x="620.20" y="437.26" width="1.05" height="0.87" fill="#c2a5cf"/>
<rect x="621.20" y="437.26" width="2.05" height="0.87" fill="#40004b"/>
<rect x="623.20" y="437.26" width="1.05" height="0.87" fill="#5b1567"/>
<rect x="624.20" y="437.26" width="9.05" height="0.87" fill="#40004b"/>
<rect x="634.20" y="437.26" width="1.05" height="0.87" fill="#e7d4e8"/>
<rect x="635.20" y="437.26" width="6.05" height="0.87" fill="#40004b"/>
<rect x="641.20" y="437.26" width="1.05" height="0.87" fill="#c0e6ba"/>
<rect x="642.20" y="437.26" width="2.05" height="0.87" fill="#d9f0d3"/>
<rect x="644.20" y="437.26" width="2.05" height="0.87" fill="#c0e6ba"/>
<rect x="651.20" y="437.26" width="1.05" height="0.87" fill="#e7d4e8"/>
<rect x="652.20" y="437.26" width="1.05" height="0.87" fill="#efe6f0"/>
<rect x="653.20" y="437.26" width="1.05" height="0.87" fill="#e7d4e8"/>
<rect x="598.20" y="438.07" width="3.05" height="0.87" fill="#c0e6ba"/>
<rect x="605.20" y="438.07" width="4.05" height="0.87" fill="#e7d4e8"/>
<rect x="612.20" y="438.07" width="6.05" height="0.87" fill="#40004b"/>
<rect x="618.20" y="438.07" width="1.05" height="0.87" fill="#9c68a9"/>
<rect x="619.20" y="438.07" width="1.05" height="0.87" fill="#762a83"/>
<rect x="620.20" y="438.07" width="1.05" height="0.87" fill="#5b1567"/>
<rect x="621.20" y="438.07" width="1.05" height="0.87" fill="#e7d4e8"/>
<rect x="622.20" y="438.07" width="2.05" height="0.87" fill="#c2a5cf"/>
<rect x="624.20" y="438.07" width="2.05" height="0.87" fill="#5b1567"/>
<rect x="626.20" y="438.07" width="2.05" height="0.87" fill="#c2a5cf"/>
<rect x="628.20" y="438.07" width="1.05" height="0.87" fill="#762a83"/>
<rect x="629.20" y="438.07" width="1.05" height="0.87" fill="#c2a5cf"/>
<rect x="630.20" y="438.07" width="1.05" height="0.87" fill="#40004b"/>
<rect x="631.20" y="438.07" width="1.05" height="0.87" fill="#762a83"/>
<rect x="632.20" y="438.07" width="1.05" height="0.87" fill="#5b1567"/>
<rect x="633.20" y="438.07" width="1.05" height="0.87" fill="#40004b"/>
<rect x="634.20" y="438.07" width="1.05" height="0.87" fill="#762a83"/>
<rect x="635.20" y="438.07" width="1.05" height="0.87" fill="#5b1567"/>
<rect x="636.20" y="438.07" width="2.05" height="0.87" fill="#762a83"/>
<rect x="638.20" y="438.07" width="1.05" height="0.87" fill="#5b1567"/>
<rect x="639.20" y="438.07" width="2.05" height="0.87" fill="#c2a5cf"/>
<rect x="641.20" y="438.07" width="1.05" height="0.87" fill="#d9f0d3"/>
<rect x="651.20" y="438.07" width="1.05" height="0.87" fill="#d9f0d3"/>
<rect x="652.20" y="438.07" width="1.05" height="0.87" fill="#c0e6ba"/>
<rect x="600.20" y="438.89" width="3.05" height="0.87" fill="#d9f0d3"/>
<rect x="612.20" y="438.89" width="1.05" height="0.87" fill="#e7d4e8"/>
<rect x="613.20" y="438.89" width="1.05" height="0.87" fill="#efe6f0"/>
<rect x="614.20" y="438.89" width="1.05" height="0.87" fill="#c2a5cf"/>
<rect x="615.20" y="438.89" width="1.05" height="0.87" fill="#d4bcdc"/>
<rect x="616.20" y="438.89" width="1.05" height="0.87" fill="#efe6f0"/>
<rect x="617.20" y="438.89" width="1.05" height="0.87" fill="#d4bcdc"/>
<rect x="618.20" y="438.89" width="1.05" height="0.87" fill="#e7d4e8"/>
<rect x="619.20" y="438.89" width="1.05" height="0.87" fill="#d4bcdc"/>
<rect x="620.20" y="438.89" width="2.05" height="0.87" fill="#e7d4e8"/>
<rect x="622.20" y="438.89" width="1.05" height="0.87" fill="#c2a5cf"/>
<rect x="623.20" y="438.89" width="1.05" height="0.87" fill="#efe6f0"/>
<rect x="624.20" y="438.89" width="1.05" height="0.87" fill="#d4bcdc"/>
<rect x="626.20" y="438.89" width="1.05" height="0.87" fill="#e7d4e8"/>
<rect x="627.20" y="438.89" width="1.05" height="0.87" fill="#d4bcdc"/>
<rect x="628.20" y="438.89" width="1.05" height="0.87" fill="#efe6f0"/>
<rect x="629.20" y="438.89" width="1.05" height="0.87" fill="#c2a5cf"/>
<rect x="630.20" y="438.89" width="1.05" height="0.87" fill="#e7d4e8"/>
<rect x="632.20" y="438.89" width="1.05" height="0.87" fill="#e7d4e8"/>
<rect x="633.20" y="438.89" width="1.05" height="0.87" fill="#efe6f0"/>
<rect x="634.20" y="438.89" width="1.05" height="0.87" fill="#c2a5cf"/>
<rect x="635.20" y="438.89" width="2.05" height="0.87" fill="#e7d4e8"/>
<rect x="637.20" y="438.89" width="3.05" height="0.87" fill="#d4bcdc"/>
<rect x="640.20" y="438.89" width="1.05" height="0.87" fill="#efe6f0"/>
<rect x="641.20" y="438.89" width="2.05" height="0.87" fill="#d9f0d3"/>
<rect x="643.20" y="438.89" width="1.05" height="0.87" fill="#e8f4e5"/>
<rect x="612.20" y="439.71" width="2.05" height="0.87" fill="#9c68a9"/>
<rect x="614.20" y="439.71" width="2.05" height="0.87" fill="#762a83"/>
<rect x="616.20" y="439.71" width="1.05" height="0.87" fill="#9c68a9"/>
<rect x="617.20" y="439.71" width="1.05" height="0.87" fill="#762a83"/>
<rect x="618.20" y="439.71" width="2.05" height="0.87" fill="#9c68a9"/>
<rect x="620.20" y="439.71" width="5.05" height="0.87" fill="#762a83"/>
<rect x="625.20" y="439.71" width="1.05" height="0.87" fill="#9c68a9"/>
<rect x="626.20" y="439.71" width="1.05" height="0.87" fill="#5b1567"/>
<rect x="627.20" y="439.71" width="4.05" height="0.87" fill="#762a83"/>
<rect x="631.20" y="439.71" width="1.05" height="0.87" fill="#5b1567"/>
<rect x="632.20" y="439.71" width="1.05" height="0.87" fill="#762a83"/>
<rect x="633.20" y="439.71" width="1.05" height="0.87" fill="#d4bcdc"/>
<rect x="634.20" y="439.71" width="1.05" height="0.87" fill="#c2a5cf"/>
<rect x="635.20" y="439.71" width="2.05" height="0.87" fill="#d4bcdc"/>
<rect x="637.20" y="439.71" width="2.05" height="0.87" fill="#9c68a9"/>
<rect x="639.20" y="439.71" width="1.05" height="0.87" fill="#762a83"/>
<rect x="640.20" y="439.71" width="1.05" height="0.87" fill="#5b1567"/>
<rect x="641.20" y="439.71" width="2.05" height="0.87" fill="#e7d4e8"/>
<rect x="646.20" y="439.71" width="4.05" height="0.87" fill="#a6dba0"/>
<rect x="599.20" y="440.53" width="4.05" height="0.87" fill="#d9f0d3"/>
<rect x="612.20" y="440.53" width="1.05" height="0.87" fill="#5b1567"/>
<rect x="613.20" y="440.53" width="1.05" height="0.87" fill="#762a83"/>
<rect x="614.20" y="440.53" width="1.05" height="0.87" fill="#40004b"/>
<rect x="615.20" y="440.53" width="1.05" height="0.87" fill="#762a83"/>
<rect x="616.20" y="440.53" width="1.05" height="0.87" fill="#5b1567"/>
<rect x="617.20" y="440.53" width="1.05" height="0.87" fill="#762a83"/>
<rect x="618.20" y="440.53" width="4.05" height="0.87" fill="#40004b"/>
<rect x="622.20" y="440.53" width="2.05" height="0.87" fill="#5b1567"/>
<rect x="624.20" y="440.53" width="1.05" height="0.87" fill="#762a83"/>
<rect x="625.20" y="440.53" width="1.05" height="0.87" fill="#40004b"/>
<rect x="626.20" y="440.53" width="2.05" height="0.87" fill="#5b1567"/>
<rect x="628.20" y="440.53" width="1.05" height="0.87" fill="#762a83"/>
<rect x="629.20" y="440.53" width="1.05" height="0.87" fill="#5b1567"/>
<rect x="631.20" y="440.53" width="1.05" height="0.87" fill="#e7d4e8"/>
<rect x="632.20" y="440.53" width="2.05" height="0.87" fill="#efe6f0"/>
<rect x="634.20" y="440.53" width="1.05" height="0.87" fill="#5b1567"/>
<rect x="635.20" y="440.53" width="1.05" height="0.87" fill="#40004b"/>
<rect x="636.20" y="440.53" width="1.05" height="0.87" fill="#5b1567"/>
<rect x="637.20" y="440.53" width="1.05" height="0.87" fill="#762a83"/>
<rect x="638.20" y="440.53" width="1.05" height="0.87" fill="#5b1567"/>
<rect x="639.20" y="440.53" width="1.05" height="0.87" fill="#762a83"/>
<rect x="640.20" y="440.53" width="1.05" height="0.87" fill="#5b1567"/>
<rect x="645.20" y="440.53" width="1.05" height="0.87" fill="#a6dba0"/>
<rect x="646.20" y="440.53" width="1.05" height="0.87" fill="#c0e6ba"/>
<rect x="648.20" y="440.53" width="3.05" height="0.87" fill="#d9f0d3"/>
<rect x="609.20" y="441.35" width="2.05" height="0.87" fill="#a6dba0"/>
<rect x="612.20" y="441.35" width="1.05" height="0.87" fill="#40004b"/>
<rect x="613.20" y="441.35" width="2.05" height="0.87" fill="#5b1567"/>
<rect x="615.20" y="441.35" width="5.05" height="0.87" fill="#40004b"/>
<rect x="620.20" y="441.35" width="3.05" height="0.87" fill="#5b1567"/>
<rect x="623.20" y="441.35" width="1.05" height="0.87" fill="#40004b"/>
<rect x="624.20" y="441.35" width="1.05" height="0.87" fill="#5b1567"/>
<rect x="625.20" y="441.35" width="9.05" height="0.87" fill="#40004b"/>
<rect x="634.20" y="441.35" width="3.05" height="0.87" fill="#e7d4e8"/>
<rect x="637.20" y="441.35" width="3.05" height="0.87" fill="#5b1567"/>
<rect x="640.20" y="441.35" width="1.05" height="0.87" fill="#40004b"/>
<rect x="611.20" y="442.16" width="1.05" height="0.87" fill="#c0e6ba"/>
<rect x="612.20" y="442.16" width="2.05" height="0.87" fill="#762a83"/>
<rect x="614.20" y="442.16" width="1.05" height="0.87" fill="#40004b"/>
<rect x="615.20" y="442.16" width="1.05" height="0.87" fill="#5b1567"/>
<rect x="616.20" y="442.16" width="1.05" height="0.87" fill="#762a83"/>
<rect x="617.20" y="442.16" width="4.05" height="0.87" fill="#5b1567"/>
<rect x="621.20" y="442.16" width="7.05" height="0.87" fill="#40004b"/>
<rect x="628.20" y="442.16" width="1.05" height="0.87" fill="#5b1567"/>
<rect x="629.20" y="442.16" width="3.05" height="0.87" fill="#40004b"/>
<rect x="632.20" y="442.16" width="1.05" height="0.87" fill="#5b1567"/>
<rect x="633.20" y="442.16" width="4.05" height="0.87" fill="#40004b"/>
<rect x="637.20" y="442.16" width="1.05" height="0.87" fill="#9c68a9"/>
<rect x="638.20" y="442.16" width="2.05" height="0.87" fill="#762a83"/>
<rect x="640.20" y="442.16" width="1.05" height="0.87" fill="#5b1567"/>
<rect x="643.20" y="442.16" width="1.05" height="0.87" fill="#d9f0d3"/>
<rect x="645.20" y="442.16" width="3.05" height="0.87" fill="#d9f0d3"/>
<rect x="612.20" y="442.98" width="2.05" height="0.87" fill="#c2a5cf"/>
<rect x="614.20" y="442.98" width="1.05" height="0.87" fill="#e7d4e8"/>
<rect x="615.20" y="442.98" width="1.05" height="0.87" fill="#c2a5cf"/>
<rect x="616.20" y="442.98" width="2.05" height="0.87" fill="#9c68a9"/>
<rect x="618.20" y="442.98" width="2.05" height="0.87" fill="#e7d4e8"/>
<rect x="620.20" y="442.98" width="5.05" height="0.87" fill="#c2a5cf"/>
<rect x="625.20" y="442.98" width="2.05" height="0.87" fill="#9c68a9"/>
<rect x="627.20" y="442.98" width="1.05" height="0.87" fill="#c2a5cf"/>
<rect x="628.20" y="442.98" width="1.05" height="0.87" fill="#e7d4e8"/>
<rect x="629.20" y="442.98" width="4.05" height="0.87" fill="#9c68a9"/>
<rect x="633.20" y="442.98" width="1.05" height="0.87" fill="#e7d4e8"/>
<rect x="634.20" y="442.98" width="1.05" height="0.87" fill="#c2a5cf"/>
<rect x="635.20" y="442.98" width="1.05" height="0.87" fill="#9c68a9"/>
<rect x="636.20" y="442.98" width="2.05" height="0.87" fill="#c2a5cf"/>
<rect x="638.20" y="442.98" width="1.05" height="0.87" fill="#762a83"/>
<rect x="639.20" y="442.98" width="1.05" height="0.87" fill="#c2a5cf"/>
<rect x="640.20" y="442.98" width="1.05" height="0.87" fill="#d4bcdc"/>
<rect x="641.20" y="442.98" width="1.05" height="0.87" fill="#d9f0d3"/>
<rect x="646.20" y="442.98" width="4.05" height="0.87" fill="#e7d4e8"/>
<rect x="653.20" y="442.98" width="1.05" height="0.87" fill="#e7d4e8"/>
<rect x="606.20" y="443.80" width="2.05" height="0.87" fill="#d9f0d3"/>
<rect x="608.20" y="443.80" width="2.05" height="0.87" fill="#a6dba0"/>
<rect x="610.20" y="443.80" width="1.05" height="0.87" fill="#d9f0d3"/>
<rect x="612.20" y="443.80" width="1.05" height="0.87" fill="#40004b"/>
<rect x="613.20" y="443.80" width="3.05" height="0.87" fill="#e7d4e8"/>
<rect x="616.20" y="443.80" width="1.05" height="0.87" fill="#5b1567"/>
<rect x="617.20" y="443.80" width="1.05" height="0.87" fill="#762a83"/>
<rect x="618.20" y="443.80" width="4.05" height="0.87" fill="#40004b"/>
<rect x="622.20" y="443.80" width="2.05" height="0.87" fill="#d4bcdc"/>
<rect x="624.20" y="443.80" width="2.05" height="0.87" fill="#5b1567"/>
<rect x="626.20" y="443.80" width="2.05" height="0.87" fill="#40004b"/>
<rect x="628.20" y="443.80" width="1.05" height="0.87" fill="#d4bcdc"/>
<rect x="629.20" y="443.80" width="2.05" height="0.87" fill="#40004b"/>
<rect x="631.20" y="443.80" width="1.05" height="0.87" fill="#c2a5cf"/>
<rect x="632.20" y="443.80" width="2.05" height="0.87" fill="#40004b"/>
<rect x="634.20" y="443.80" width="1.05" height="0.87" fill="#9c68a9"/>
<rect x="635.20" y="443.80" width="1.05" height="0.87" fill="#762a83"/>
<rect x="636.20" y="443.80" width="2.05" height="0.87" fill="#c2a5cf"/>
<rect x="638.20" y="443.80" width="3.05" height="0.87" fill="#762a83"/>
<rect x="641.20" y="443.80" width="2.05" height="0.87" fill="#d9f0d3"/>
<rect x="608.20" y="444.62" width="1.05" height="0.87" fill="#a6dba0"/>
<rect x="609.20" y="444.62" width="1.05" height="0.87" fill="#c0e6ba"/>
<rect x="610.20" y="444.62" width="1.05" height="0.87" fill="#a6dba0"/>
<rect x="612.20" y="444.62" width="3.05" height="0.87" fill="#762a83"/>
<rect x="615.20" y="444.62" width="1.05" height="0.87" fill="#9c68a9"/>
<rect x="616.20" y="444.62" width="1.05" height="0.87" fill="#5b1567"/>
<rect x="617.20" y="444.62" width="1.05" height="0.87" fill="#40004b"/>
<rect x="618.20" y="444.62" width="2.05" height="0.87" fill="#5b1567"/>
<rect x="620.20" y="444.62" width="1.05" height="0.87" fill="#40004b"/>
<rect x="621.20" y="444.62" width="1.05" height="0.87" fill="#5b1567"/>
<rect x="622.20" y="444.62" width="2.05" height="0.87" fill="#762a83"/>
<rect x="624.20" y="444.62" width="1.05" height="0.87" fill="#5b1567"/>
<rect x="625.20" y="444.62" width="1.05" height="0.87" fill="#762a83"/>
<rect x="626.20" y="444.62" width="1.05" height="0.87" fill="#5b1567"/>
<rect x="627.20" y="444.62" width="3.05" height="0.87" fill="#40004b"/>
<rect x="630.20" y="444.62" width="1.05" height="0.87" fill="#762a83"/>
<rect x="631.20" y="444.62" width="1.05" height="0.87" fill="#d4bcdc"/>
<rect x="632.20" y="444.62" width="1.05" height="0.87" fill="#5b1567"/>
<rect x="633.20" y="444.62" width="1.05" height="0.87" fill="#40004b"/>
<rect x="634.20" y="444.62" width="1.05" height="0.87" fill="#762a83"/>
<rect x="635.20" y="444.62" width="1.05" height="0.87" fill="#5b1567"/>
<rect x="636.20" y="444.62" width="1.05" height="0.87" fill="#762a83"/>
<rect x="638.20" y="444.62" width="2.05" height="0.87" fill="#d9f0d3"/>
<rect x="641.20" y="444.62" width="1.05" height="0.87" fill="#c0e6ba"/>
<rect x="646.20" y="444.62" width="2.05" height="0.87" fill="#e7d4e8"/>
<rect x="649.20" y="444.62" width="1.05" height="0.87" fill="#60aa6c"/>
<rect x="650.20" y="444.62" width="1.05" height="0.87" fill="#c0e6ba"/>
<rect x="651.20" y="444.62" width="1.05" height="0.87" fill="#d9f0d3"/>
<rect x="603.20" y="445.43" width="4.05" height="0.87" fill="#d9f0d3"/>
<rect x="612.20" y="445.43" width="1.05" height="0.87" fill="#40004b"/>
<rect x="613.20" y="445.43" width="3.05" height="0.87" fill="#5b1567"/>
<rect x="616.20" y="445.43" width="1.05" height="0.87" fill="#762a83"/>
<rect x="617.20" y="445.43" width="1.05" height="0.87" fill="#40004b"/>
<rect x="618.20" y="445.43" width="2.05" height="0.87" fill="#5b1567"/>
<rect x="620.20" y="445.43" width="1.05" height="0.87" fill="#762a83"/>
<rect x="621.20" y="445.43" width="4.05" height="0.87" fill="#5b1567"/>
<rect x="625.20" y="445.43" width="1.05" height="0.87" fill="#40004b"/>
<rect x="626.20" y="445.43" width="1.05" height="0.87" fill="#c2a5cf"/>
<rect x="627.20" y="445.43" width="1.05" height="0.87" fill="#762a83"/>
<rect x="628.20" y="445.43" width="1.05" height="0.87" fill="#c2a5cf"/>
<rect x="629.20" y="445.43" width="2.05" height="0.87" fill="#e7d4e8"/>
<rect x="632.20" y="445.43" width="1.05" height="0.87" fill="#40004b"/>
<rect x="633.20" y="445.43" width="4.05" height="0.87" fill="#762a83"/>
<rect x="637.20" y="445.43" width="1.05" height="0.87" fill="#40004b"/>
<rect x="638.20" y="445.43" width="1.05" height="0.87" fill="#5b1567"/>
<rect x="639.20" y="445.43" width="1.05" height="0.87" fill="#762a83"/>
<rect x="640.20" y="445.43" width="1.05" height="0.87" fill="#40004b"/>
<rect x="646.20" y="445.43" width="4.05" height="0.87" fill="#d9f0d3"/>
<rect x="652.20" y="445.43" width="1.05" height="0.87" fill="#c0e6ba"/>
<rect x="653.20" y="445.43" width="1.05" height="0.87" fill="#a6dba0"/>
<rect x="600.20" y="446.25" width="3.05" height="0.87" fill="#d9f0d3"/>
<rect x="606.20" y="446.25" width="2.05" height="0.87" fill="#d9f0d3"/>
<rect x="612.20" y="446.25" width="1.05" height="0.87" fill="#c2a5cf"/>
<rect x="613.20" y="446.25" width="1.05" height="0.87" fill="#9c68a9"/>
<rect x="614.20" y="446.25" width="2.05" height="0.87" fill="#c2a5cf"/>
<rect x="616.20" y="446.25" width="3.05" height="0.87" fill="#9c68a9"/>
<rect x="619.20" y="446.25" width="2.05" height="0.87" fill="#c2a5cf"/>
<rect x="621.20" y="446.25" width="1.05" height="0.87" fill="#9c68a9"/>
<rect x="622.20" y="446.25" width="1.05" height="0.87" fill="#762a83"/>
<rect x="623.20" y="446.25" width="3.05" height="0.87" fill="#c2a5cf"/>
<rect x="626.20" y="446.25" width="2.05" height="0.87" fill="#9c68a9"/>
<rect x="628.20" y="446.25" width="1.05" height="0.87" fill="#d4bcdc"/>
<rect x="630.20" y="446.25" width="1.05" height="0.87" fill="#d9f0d3"/>
<rect x="631.20" y="446.25" width="1.05" height="0.87" fill="#c2a5cf"/>
<rect x="632.20" y="446.25" width="1.05" height="0.87" fill="#762a83"/>
<rect x="633.20" y="446.25" width="2.05" height="0.87" fill="#9c68a9"/>
<rect x="635.20" y="446.25" width="1.05" height="0.87" fill="#c2a5cf"/>
<rect x="636.20" y="446.25" width="1.05" height="0.87" fill="#9c68a9"/>
<rect x="637.20" y="446.25" width="1.05" height="0.87" fill="#c2a5cf"/>
<rect x="638.20" y="446.25" width="1.05" height="0.87" fill="#762a83"/>
<rect x="639.20" y="446.25" width="1.05" height="0.87" fill="#9c68a9"/>
<rect x="640.20" y="446.25" width="1.05" height="0.87" fill="#c2a5cf"/>
<rect x="651.20" y="446.25" width="1.05" height="0.87" fill="#a6dba0"/>
<rect x="652.20" y="446.25" width="1.05" height="0.87" fill="#c0e6ba"/>
<rect x="611.20" y="447.07" width="1.05" height="0.87" fill="#c0e6ba"/>
<rect x="612.20" y="447.07" width="1.05" height="0.87" fill="#5b1567"/>
<rect x="613.20" y="447.07" width="1.05" height="0.87" fill="#40004b"/>
<rect x="615.20" y="447.07" width="1.05" height="0.87" fill="#efe6f0"/>
<rect x="616.20" y="447.07" width="1.05" height="0.87" fill="#5b1567"/>
<rect x="617.20" y="447.07" width="4.05" height="0.87" fill="#40004b"/>
<rect x="621.20" y="447.07" width="1.05" height="0.87" fill="#5b1567"/>
<rect x="622.20" y="447.07" width="1.05" height="0.87" fill="#762a83"/>
<rect x="623.20" y="447.07" width="1.05" height="0.87" fill="#d4bcdc"/>
<rect x="624.20" y="447.07" width="2.05" height="0.87" fill="#c2a5cf"/>
<rect x="626.20" y="447.07" width="2.05" height="0.87" fill="#40004b"/>
<rect x="628.20" y="447.07" width="5.05" height="0.87" fill="#5b1567"/>
<rect x="633.20" y="447.07" width="1.05" height="0.87" fill="#e7d4e8"/>
<rect x="634.20" y="447.07" width="1.05" height="0.87" fill="#efe6f0"/>
<rect x="635.20" y="447.07" width="1.05" height="0.87" fill="#40004b"/>
<rect x="636.20" y="447.07" width="1.05" height="0.87" fill="#762a83"/>
<rect x="637.20" y="447.07" width="1.05" height="0.87" fill="#40004b"/>
<rect x="638.20" y="447.07" width="2.05" height="0.87" fill="#5b1567"/>
<rect x="640.20" y="447.07" width="1.05" height="0.87" fill="#40004b"/>
<rect x="649.20" y="447.07" width="2.05" height="0.87" fill="#d9f0d3"/>
<rect x="652.20" y="447.07" width="1.05" height="0.87" fill="#a6dba0"/>
<rect x="653.20" y="447.07" width="1.05" height="0.87" fill="#1b7837"/>
<rect x="607.20" y="447.89" width="1.05" height="0.87" fill="#d9f0d3"/>
<rect x="610.20" y="447.89" width="2.05" height="0.87" fill="#e7d4e8"/>
<rect x="612.20" y="447.89" width="3.05" height="0.87" fill="#40004b"/>
<rect x="615.20" y="447.89" width="2.05" height="0.87" fill="#efe6f0"/>
<rect x="617.20" y="447.89" width="1.05" height="0.87" fill="#d4bcdc"/>
<rect x="618.20" y="447.89" width="1.05" height="0.87" fill="#40004b"/>
<rect x="619.20" y="447.89" width="2.05" height="0.87" fill="#5b1567"/>
<rect x="621.20" y="447.89" width="1.05" height="0.87" fill="#40004b"/>
<rect x="622.20" y="447.89" width="1.05" height="0.87" fill="#efe6f0"/>
<rect x="623.20" y="447.89" width="3.05" height="0.87" fill="#e7d4e8"/>
<rect x="626.20" y="447.89" width="2.05" height="0.87" fill="#40004b"/>
<rect x="628.20" y="447.89" width="1.05" height="0.87" fill="#5b1567"/>
<rect x="629.20" y="447.89" width="5.05" height="0.87" fill="#40004b"/>
<rect x="634.20" y="447.89" width="2.05" height="0.87" fill="#c2a5cf"/>
<rect x="636.20" y="447.89" width="2.05" height="0.87" fill="#762a83"/>
<rect x="638.20" y="447.89" width="1.05" height="0.87" fill="#c2a5cf"/>
<rect x="639.20" y="447.89" width="1.05" height="0.87" fill="#9c68a9"/>
<rect x="640.20" y="447.89" width="1.05" height="0.87" fill="#40004b"/>
<rect x="645.20" y="447.89" width="3.05" height="0.87" fill="#d9f0d3"/>
<rect x="612.20" y="448.70" width="1.05" height="0.87" fill="#c2a5cf"/>
<rect x="613.20" y="448.70" width="1.05" height="0.87" fill="#d4bcdc"/>
<rect x="614.20" y="448.70" width="6.05" height="0.87" fill="#c2a5cf"/>
<rect x="620.20" y="448.70" width="1.05" height="0.87" fill="#762a83"/>
<rect x="621.20" y="448.70" width="4.05" height="0.87" fill="#9c68a9"/>
<rect x="625.20" y="448.70" width="1.05" height="0.87" fill="#d4bcdc"/>
<rect x="626.20" y="448.70" width="1.05" height="0.87" fill="#9c68a9"/>
<rect x="627.20" y="448.70" width="1.05" height="0.87" fill="#c2a5cf"/>
<rect x="628.20" y="448.70" width="3.05" height="0.87" fill="#efe6f0"/>
<rect x="631.20" y="448.70" width="1.05" height="0.87" fill="#c2a5cf"/>
<rect x="632.20" y="448.70" width="1.05" height="0.87" fill="#efe6f0"/>
<rect x="633.20" y="448.70" width="3.05" height="0.87" fill="#c2a5cf"/>
<rect x="636.20" y="448.70" width="1.05" height="0.87" fill="#e7d4e8"/>
<rect x="638.20" y="448.70" width="1.05" height="0.87" fill="#e7d4e8"/>
<rect x="639.20" y="448.70" width="1.05" height="0.87" fill="#efe6f0"/>
<rect x="640.20" y="448.70" width="1.05" height="0.87" fill="#c2a5cf"/>
<rect x="641.20" y="448.70" width="2.05" height="0.87" fill="#d9f0d3"/>
<rect x="645.20" y="448.70" width="1.05" height="0.87" fill="#d9f0d3"/>
<rect x="648.20" y="448.70" width="1.05" height="0.87" fill="#e7d4e8"/>
<rect x="652.20" y="448.70" width="2.05" height="0.87" fill="#d9f0d3"/>
<rect x="612.20" y="449.52" width="2.05" height="0.87" fill="#762a83"/>
<rect x="614.20" y="449.52" width="1.05" height="0.87" fill="#5b1567"/>
<rect x="615.20" y="449.52" width="1.05" height="0.87" fill="#762a83"/>
<rect x="616.20" y="449.52" width="1.05" height="0.87" fill="#9c68a9"/>
<rect x="617.20" y="449.52" width="1.05" height="0.87" fill="#e7d4e8"/>
<rect x="618.20" y="449.52" width="1.05" height="0.87" fill="#c2a5cf"/>
<rect x="619.20" y="449.52" width="1.05" height="0.87" fill="#e7d4e8"/>
<rect x="620.20" y="449.52" width="1.05" height="0.87" fill="#9c68a9"/>
<rect x="621.20" y="449.52" width="1.05" height="0.87" fill="#d4bcdc"/>
<rect x="622.20" y="449.52" width="1.05" height="0.87" fill="#efe6f0"/>
<rect x="623.20" y="449.52" width="1.05" height="0.87" fill="#e7d4e8"/>
<rect x="624.20" y="449.52" width="1.05" height="0.87" fill="#5b1567"/>
<rect x="625.20" y="449.52" width="3.05" height="0.87" fill="#762a83"/>
<rect x="628.20" y="449.52" width="1.05" height="0.87" fill="#5b1567"/>
<rect x="629.20" y="449.52" width="2.05" height="0.87" fill="#762a83"/>
<rect x="631.20" y="449.52" width="1.05" height="0.87" fill="#5b1567"/>
<rect x="632.20" y="449.52" width="2.05" height="0.87" fill="#9c68a9"/>
<rect x="634.20" y="449.52" width="3.05" height="0.87" fill="#762a83"/>
<rect x="637.20" y="449.52" width="1.05" height="0.87" fill="#5b1567"/>
<rect x="638.20" y="449.52" width="3.05" height="0.87" fill="#762a83"/>
<rect x="645.20" y="449.52" width="1.05" height="0.87" fill="#e8f4e5"/>
<rect x="646.20" y="449.52" width="2.05" height="0.87" fill="#d9f0d3"/>
<rect x="650.20" y="449.52" width="1.05" height="0.87" fill="#e7d4e8"/>
<rect x="609.20" y="450.34" width="3.05" height="0.87" fill="#d9f0d3"/>
<rect x="612.20" y="450.34" width="1.05" height="0.87" fill="#9c68a9"/>
<rect x="613.20" y="450.34" width="1.05" height="0.87" fill="#d9f0d3"/>
<rect x="614.20" y="450.34" width="2.05" height="0.87" fill="#5b1567"/>
<rect x="616.20" y="450.34" width="2.05" height="0.87" fill="#40004b"/>
<rect x="618.20" y="450.34" width="1.05" height="0.87" fill="#5b1567"/>
<rect x="619.20" y="450.34" width="2.05" height="0.87" fill="#40004b"/>
<rect x="621.20" y="450.34" width="1.05" height="0.87" fill="#762a83"/>
<rect x="622.20" y="450.34" width="2.05" height="0.87" fill="#5b1567"/>
<rect x="624.20" y="450.34" width="2.05" height="0.87" fill="#762a83"/>
<rect x="626.20" y="450.34" width="1.05" height="0.87" fill="#5b1567"/>
<rect x="627.20" y="450.34" width="4.05" height="0.87" fill="#40004b"/>
<rect x="631.20" y="450.34" width="5.05" height="0.87" fill="#5b1567"/>
<rect x="636.20" y="450.34" width="5.05" height="0.87" fill="#40004b"/>
<rect x="642.20" y="450.34" width="3.05" height="0.87" fill="#d9f0d3"/>
<rect x="611.20" y="451.16" width="1.05" height="0.87" fill="#d9f0d3"/>
<rect x="612.20" y="451.16" width="7.05" height="0.87" fill="#c2a5cf"/>
<rect x="619.20" y="451.16" width="1.05" height="0.87" fill="#d4bcdc"/>
<rect x="620.20" y="451.16" width="3.05" height="0.87" fill="#c2a5cf"/>
<rect x="623.20" y="451.16" width="1.05" height="0.87" fill="#9c68a9"/>
<rect x="624.20" y="451.16" width="2.05" height="0.87" fill="#d4bcdc"/>
<rect x="626.20" y="451.16" width="1.05" height="0.87" fill="#9c68a9"/>
<rect x="627.20" y="451.16" width="2.05" height="0.87" fill="#efe6f0"/>
<rect x="629.20" y="451.16" width="1.05" height="0.87" fill="#9c68a9"/>
<rect x="630.20" y="451.16" width="1.05" height="0.87" fill="#c2a5cf"/>
<rect x="631.20" y="451.16" width="1.05" height="0.87" fill="#d4bcdc"/>
<rect x="632.20" y="451.16" width="1.05" height="0.87" fill="#c2a5cf"/>
<rect x="633.20" y="451.16" width="1.05" height="0.87" fill="#9c68a9"/>
<rect x="634.20" y="451.16" width="4.05" height="0.87" fill="#c2a5cf"/>
<rect x="638.20" y="451.16" width="1.05" height="0.87" fill="#9c68a9"/>
<rect x="639.20" y="451.16" width="1.05" height="0.87" fill="#d4bcdc"/>
<rect x="640.20" y="451.16" width="1.05" height="0.87" fill="#c2a5cf"/>
<rect x="645.20" y="451.16" width="1.05" height="0.87" fill="#a6dba0"/>
<rect x="646.20" y="451.16" width="1.05" height="0.87" fill="#d9f0d3"/>
<rect x="647.20" y="451.16" width="3.05" height="0.87" fill="#c0e6ba"/>
<rect x="603.20" y="451.98" width="1.05" height="0.87" fill="#d9f0d3"/>
<rect x="612.20" y="451.98" width="1.05" height="0.87" fill="#e7d4e8"/>
<rect x="613.20" y="451.98" width="2.05" height="0.87" fill="#d4bcdc"/>
<rect x="615.20" y="451.98" width="1.05" height="0.87" fill="#efe6f0"/>
<rect x="616.20" y="451.98" width="1.05" height="0.87" fill="#762a83"/>
<rect x="617.20" y="451.98" width="1.05" height="0.87" fill="#5b1567"/>
<rect x="618.20" y="451.98" width="1.05" height="0.87" fill="#40004b"/>
<rect x="619.20" y="451.98" width="1.05" height="0.87" fill="#762a83"/>
<rect x="620.20" y="451.98" width="1.05" height="0.87" fill="#5b1567"/>
<rect x="621.20" y="451.98" width="1.05" height="0.87" fill="#e7d4e8"/>
<rect x="622.20" y="451.98" width="2.05" height="0.87" fill="#efe6f0"/>
<rect x="625.20" y="451.98" width="2.05" height="0.87" fill="#40004b"/>
<rect x="627.20" y="451.98" width="1.05" height="0.87" fill="#5b1567"/>
<rect x="628.20" y="451.98" width="1.05" height="0.87" fill="#40004b"/>
<rect x="629.20" y="451.98" width="1.05" height="0.87" fill="#762a83"/>
<rect x="631.20" y="451.98" width="1.05" height="0.87" fill="#e7d4e8"/>
<rect x="632.20" y="451.98" width="3.05" height="0.87" fill="#40004b"/>
<rect x="635.20" y="451.98" width="1.05" height="0.87" fill="#5b1567"/>
<rect x="637.20" y="451.98" width="2.05" height="0.87" fill="#5b1567"/>
<rect x="639.20" y="451.98" width="1.05" height="0.87" fill="#40004b"/>
<rect x="640.20" y="451.98" width="1.05" height="0.87" fill="#5b1567"/>
<rect x="650.20" y="451.98" width="1.05" height="0.87" fill="#e7d4e8"/>
<rect x="651.20" y="451.98" width="1.05" height="0.87" fill="#d9f0d3"/>
<rect x="652.20" y="451.98" width="1.05" height="0.87" fill="#e8f4e5"/>
<rect x="653.20" y="451.98" width="1.05" height="0.87" fill="#a6dba0"/>
<rect x="609.20" y="452.79" width="1.05" height="0.87" fill="#a6dba0"/>
<rect x="610.20" y="452.79" width="1.05" height="0.87" fill="#e7d4e8"/>
<rect x="611.20" y="452.79" width="1.05" height="0.87" fill="#d9f0d3"/>
<rect x="612.20" y="452.79" width="2.05" height="0.87" fill="#9c68a9"/>
<rect x="614.20" y="452.79" width="2.05" height="0.87" fill="#c2a5cf"/>
<rect x="616.20" y="452.79" width="6.05" height="0.87" fill="#9c68a9"/>
<rect x="622.20" y="452.79" width="2.05" height="0.87" fill="#762a83"/>
<rect x="624.20" y="452.79" width="1.05" height="0.87" fill="#9c68a9"/>
<rect x="625.20" y="452.79" width="1.05" height="0.87" fill="#762a83"/>
<rect x="626.20" y="452.79" width="1.05" height="0.87" fill="#efe6f0"/>
<rect x="627.20" y="452.79" width="1.05" height="0.87" fill="#762a83"/>
<rect x="628.20" y="452.79" width="5.05" height="0.87" fill="#9c68a9"/>
<rect x="633.20" y="452.79" width="1.05" height="0.87" fill="#c2a5cf"/>
<rect x="634.20" y="452.79" width="3.05" height="0.87" fill="#9c68a9"/>
<rect x="637.20" y="452.79" width="1.05" height="0.87" fill="#762a83"/>
<rect x="638.20" y="452.79" width="1.05" height="0.87" fill="#9c68a9"/>
<rect x="639.20" y="452.79" width="1.05" height="0.87" fill="#762a83"/>
<rect x="640.20" y="452.79" width="1.05" height="0.87" fill="#c2a5cf"/>
<rect x="643.20" y="452.79" width="3.05" height="0.87" fill="#c0e6ba"/>
<rect x="612.20" y="453.61" width="1.05" height="0.87" fill="#9c68a9"/>
<rect x="613.20" y="453.61" width="2.05" height="0.87" fill="#762a83"/>
<rect x="615.20" y="453.61" width="1.05" height="0.87" fill="#5b1567"/>
<rect x="616.20" y="453.61" width="1.05" height="0.87" fill="#762a83"/>
<rect x="617.20" y="453.61" width="1.05" height="0.87" fill="#9c68a9"/>
<rect x="618.20" y="453.61" width="1.05" height="0.87" fill="#5b1567"/>
<rect x="619.20" y="453.61" width="1.05" height="0.87" fill="#762a83"/>
<rect x="620.20" y="453.61" width="1.05" height="0.87" fill="#5b1567"/>
<rect x="621.20" y="453.61" width="1.05" height="0.87" fill="#e7d4e8"/>
<rect x="622.20" y="453.61" width="1.05" height="0.87" fill="#762a83"/>
<rect x="623.20" y="453.61" width="1.05" height="0.87" fill="#9c68a9"/>
<rect x="624.20" y="453.61" width="1.05" height="0.87" fill="#762a83"/>
<rect x="625.20" y="453.61" width="1.05" height="0.87" fill="#5b1567"/>
<rect x="626.20" y="453.61" width="1.05" height="0.87" fill="#762a83"/>
<rect x="627.20" y="453.61" width="1.05" height="0.87" fill="#9c68a9"/>
<rect x="628.20" y="453.61" width="1.05" height="0.87" fill="#5b1567"/>
<rect x="629.20" y="453.61" width="8.05" height="0.87" fill="#762a83"/>
<rect x="639.20" y="453.61" width="1.05" height="0.87" fill="#d4bcdc"/>
<rect x="640.20" y="453.61" width="1.05" height="0.87" fill="#5b1567"/>
<rect x="641.20" y="453.61" width="3.05" height="0.87" fill="#d9f0d3"/>
<rect x="651.20" y="453.61" width="1.05" height="0.87" fill="#d9f0d3"/>
<rect x="652.20" y="453.61" width="2.05" height="0.87" fill="#c0e6ba"/>
<rect x="608.20" y="454.43" width="4.05" height="0.87" fill="#d9f0d3"/>
<rect x="614.20" y="454.43" width="1.05" height="0.87" fill="#d4bcdc"/>
<rect x="615.20" y="454.43" width="1.05" height="0.87" fill="#efe6f0"/>
<rect x="616.20" y="454.43" width="2.05" height="0.87" fill="#d4bcdc"/>
<rect x="618.20" y="454.43" width="3.05" height="0.87" fill="#e7d4e8"/>
<rect x="621.20" y="454.43" width="1.05" height="0.87" fill="#c2a5cf"/>
<rect x="622.20" y="454.43" width="1.05" height="0.87" fill="#e7d4e8"/>
<rect x="623.20" y="454.43" width="2.05" height="0.87" fill="#efe6f0"/>
<rect x="625.20" y="454.43" width="1.05" height="0.87" fill="#d4bcdc"/>
<rect x="626.20" y="454.43" width="1.05" height="0.87" fill="#9c68a9"/>
<rect x="627.20" y="454.43" width="1.05" height="0.87" fill="#c2a5cf"/>
<rect x="628.20" y="454.43" width="1.05" height="0.87" fill="#d4bcdc"/>
<rect x="629.20" y="454.43" width="1.05" height="0.87" fill="#c2a5cf"/>
<rect x="630.20" y="454.43" width="3.05" height="0.87" fill="#d4bcdc"/>
<rect x="633.20" y="454.43" width="1.05" height="0.87" fill="#efe6f0"/>
<rect x="634.20" y="454.43" width="1.05" height="0.87" fill="#e7d4e8"/>
<rect x="635.20" y="454.43" width="1.05" height="0.87" fill="#d4bcdc"/>
<rect x="636.20" y="454.43" width="1.05" height="0.87" fill="#c2a5cf"/>
<rect x="637.20" y="454.43" width="1.05" height="0.87" fill="#d4bcdc"/>
<rect x="638.20" y="454.43" width="2.05" height="0.87" fill="#e7d4e8"/>
<rect x="640.20" y="454.43" width="1.05" height="0.87" fill="#efe6f0"/>
<rect x="645.20" y="454.43" width="2.05" height="0.87" fill="#c0e6ba"/>
<rect x="598.20" y="455.25" width="2.05" height="0.87" fill="#a6dba0"/>
<rect x="601.20" y="455.25" width="2.05" height="0.87" fill="#a6dba0"/>
<rect x="603.20" y="455.25" width="3.05" height="0.87" fill="#c0e6ba"/>
<rect x="606.20" y="455.25" width="1.05" height="0.87" fill="#a6dba0"/>
<rect x="608.20" y="455.25" width="1.05" height="0.87" fill="#a6dba0"/>
<rect x="611.20" y="455.25" width="1.05" height="0.87" fill="#a6dba0"/>
<rect x="612.20" y="455.25" width="1.05" height="0.87" fill="#e7d4e8"/>
<rect x="613.20" y="455.25" width="1.05" height="0.87" fill="#c2a5cf"/>
<rect x="614.20" y="455.25" width="2.05" height="0.87" fill="#e8f4e5"/>
<rect x="616.20" y="455.25" width="1.05" height="0.87" fill="#d4bcdc"/>
<rect x="617.20" y="455.25" width="2.05" height="0.87" fill="#e7d4e8"/>
<rect x="621.20" y="455.25" width="1.05" height="0.87" fill="#d9f0d3"/>
<rect x="622.20" y="455.25" width="1.05" height="0.87" fill="#e7d4e8"/>
<rect x="623.20" y="455.25" width="1.05" height="0.87" fill="#d9f0d3"/>
<rect x="624.20" y="455.25" width="1.05" height="0.87" fill="#d4bcdc"/>
<rect x="625.20" y="455.25" width="1.05" height="0.87" fill="#efe6f0"/>
<rect x="626.20" y="455.25" width="1.05" height="0.87" fill="#d4bcdc"/>
<rect x="627.20" y="455.25" width="1.05" height="0.87" fill="#efe6f0"/>
<rect x="628.20" y="455.25" width="1.05" height="0.87" fill="#d9f0d3"/>
<rect x="630.20" y="455.25" width="1.05" height="0.87" fill="#e8f4e5"/>
<rect x="631.20" y="455.25" width="1.05" height="0.87" fill="#d4bcdc"/>
<rect x="632.20" y="455.25" width="1.05" height="0.87" fill="#d9f0d3"/>
<rect x="633.20" y="455.25" width="1.05" height="0.87" fill="#e7d4e8"/>
<rect x="634.20" y="455.25" width="1.05" height="0.87" fill="#d4bcdc"/>
<rect x="635.20" y="455.25" width="1.05" height="0.87" fill="#e8f4e5"/>
<rect x="636.20" y="455.25" width="2.05" height="0.87" fill="#e7d4e8"/>
<rect x="638.20" y="455.25" width="1.05" height="0.87" fill="#d4bcdc"/>
<rect x="639.20" y="455.25" width="1.05" height="0.87" fill="#9c68a9"/>
<rect x="640.20" y="455.25" width="1.05" height="0.87" fill="#d4bcdc"/>
<rect x="646.20" y="455.25" width="1.05" height="0.87" fill="#a6dba0"/>
<rect x="649.20" y="455.25" width="1.05" height="0.87" fill="#d9f0d3"/>
<rect x="650.20" y="455.25" width="1.05" height="0.87" fill="#0e5e29"/>
<rect x="651.20" y="455.25" width="1.05" height="0.87" fill="#d9f0d3"/>
<rect x="652.20" y="455.25" width="1.05" height="0.87" fill="#c0e6ba"/>
<rect x="599.20" y="456.06" width="4.05" height="0.87" fill="#d9f0d3"/>
<rect x="604.20" y="456.06" width="1.05" height="0.87" fill="#a6dba0"/>
<rect x="605.20" y="456.06" width="1.05" height="0.87" fill="#d9f0d3"/>
<rect x="606.20" y="456.06" width="1.05" height="0.87" fill="#c0e6ba"/>
<rect x="607.20" y="456.06" width="1.05" height="0.87" fill="#a6dba0"/>
<rect x="608.20" y="456.06" width="2.05" height="0.87" fill="#d9f0d3"/>
<rect x="612.20" y="456.06" width="2.05" height="0.87" fill="#c2a5cf"/>
<rect x="614.20" y="456.06" width="1.05" height="0.87" fill="#9c68a9"/>
<rect x="615.20" y="456.06" width="1.05" height="0.87" fill="#c2a5cf"/>
<rect x="616.20" y="456.06" width="1.05" height="0.87" fill="#9c68a9"/>
<rect x="617.20" y="456.06" width="1.05" height="0.87" fill="#762a83"/>
<rect x="618.20" y="456.06" width="1.05" height="0.87" fill="#c2a5cf"/>
<rect x="619.20" y="456.06" width="2.05" height="0.87" fill="#d4bcdc"/>
<rect x="621.20" y="456.06" width="1.05" height="0.87" fill="#efe6f0"/>
<rect x="622.20" y="456.06" width="1.05" height="0.87" fill="#9c68a9"/>
<rect x="623.20" y="456.06" width="1.05" height="0.87" fill="#c2a5cf"/>
<rect x="624.20" y="456.06" width="1.05" height="0.87" fill="#5b1567"/>
<rect x="625.20" y="456.06" width="1.05" height="0.87" fill="#762a83"/>
<rect x="626.20" y="456.06" width="2.05" height="0.87" fill="#c2a5cf"/>
<rect x="628.20" y="456.06" width="1.05" height="0.87" fill="#d4bcdc"/>
<rect x="629.20" y="456.06" width="6.05" height="0.87" fill="#c2a5cf"/>
<rect x="635.20" y="456.06" width="2.05" height="0.87" fill="#d4bcdc"/>
<rect x="637.20" y="456.06" width="1.05" height="0.87" fill="#c2a5cf"/>
<rect x="638.20" y="456.06" width="1.05" height="0.87" fill="#e7d4e8"/>
<rect x="639.20" y="456.06" width="1.05" height="0.87" fill="#efe6f0"/>
<rect x="640.20" y="456.06" width="1.05" height="0.87" fill="#9c68a9"/>
<rect x="641.20" y="456.06" width="6.05" height="0.87" fill="#e7d4e8"/>
<rect x="651.20" y="456.06" width="3.05" height="0.87" fill="#d9f0d3"/>
<rect x="600.20" y="456.88" width="2.05" height="0.87" fill="#1b7837"/>
<rect x="602.20" y="456.88" width="3.05" height="0.87" fill="#d9f0d3"/>
<rect x="605.20" y="456.88" width="2.05" height="0.87" fill="#00441b"/>
<rect x="607.20" y="456.88" width="1.05" height="0.87" fill="#d9f0d3"/>
<rect x="608.20" y="456.88" width="1.05" height="0.87" fill="#1b7837"/>
<rect x="611.20" y="456.88" width="1.05" height="0.87" fill="#00441b"/>
<rect x="612.20" y="456.88" width="1.05" height="0.87" fill="#e8f4e5"/>
<rect x="613.20" y="456.88" width="1.05" height="0.87" fill="#d9f0d3"/>
<rect x="614.20" y="456.88" width="1.05" height="0.87" fill="#c2a5cf"/>
<rect x="615.20" y="456.88" width="2.05" height="0.87" fill="#d4bcdc"/>
<rect x="617.20" y="456.88" width="1.05" height="0.87" fill="#40004b"/>
<rect x="618.20" y="456.88" width="1.05" height="0.87" fill="#d9f0d3"/>
<rect x="620.20" y="456.88" width="1.05" height="0.87" fill="#5b1567"/>
<rect x="621.20" y="456.88" width="1.05" height="0.87" fill="#c0e6ba"/>
<rect x="622.20" y="456.88" width="1.05" height="0.87" fill="#efe6f0"/>
<rect x="624.20" y="456.88" width="1.05" height="0.87" fill="#a6dba0"/>
<rect x="626.20" y="456.88" width="1.05" height="0.87" fill="#40004b"/>
<rect x="627.20" y="456.88" width="1.05" height="0.87" fill="#e7d4e8"/>
<rect x="628.20" y="456.88" width="1.05" height="0.87" fill="#5b1567"/>
<rect x="630.20" y="456.88" width="1.05" height="0.87" fill="#40004b"/>
<rect x="631.20" y="456.88" width="1.05" height="0.87" fill="#e7d4e8"/>
<rect x="633.20" y="456.88" width="1.05" height="0.87" fill="#efe6f0"/>
<rect x="635.20" y="456.88" width="1.05" height="0.87" fill="#762a83"/>
<rect x="636.20" y="456.88" width="1.05" height="0.87" fill="#efe6f0"/>
<rect x="637.20" y="456.88" width="2.05" height="0.87" fill="#762a83"/>
<rect x="639.20" y="456.88" width="1.05" height="0.87" fill="#5b1567"/>
<rect x="640.20" y="456.88" width="1.05" height="0.87" fill="#40004b"/>
<rect x="641.20" y="456.88" width="1.05" height="0.87" fill="#1b7837"/>
<rect x="643.20" y="456.88" width="2.05" height="0.87" fill="#1b7837"/>
<rect x="646.20" y="456.88" width="3.05" height="0.87" fill="#1b7837"/>
<rect x="652.20" y="456.88" width="2.05" height="0.87" fill="#1b7837"/>
<rect x="598.20" y="407.00" width="56.00" height="50.70" fill="none" stroke="#666" stroke-width="0.6"/>
<rect x="655.80" y="415.00" width="3.10" height="28.50" fill="url(#prgn)" stroke="none" stroke-width="0.8"/>
<line x1="658.9" y1="416.5" x2="660" y2="416.5" stroke="#555" stroke-width="0.5"/>
<text x="660.6" y="419.8" text-anchor="start" font-size="9.4" fill="#222" stroke="#222" stroke-width="0.16">2</text>
<line x1="658.9" y1="428.8" x2="660" y2="428.8" stroke="#555" stroke-width="0.5"/>
<text x="660.6" y="432.1" text-anchor="start" font-size="9.4" fill="#222" stroke="#222" stroke-width="0.16">0</text>
<line x1="658.9" y1="441.9" x2="660" y2="441.9" stroke="#555" stroke-width="0.5"/>
<text x="660.6" y="445.2" text-anchor="start" font-size="9.4" fill="#222" stroke="#222" stroke-width="0.16">−2</text>
<text transform="translate(578.70,434.2) rotate(-90)" text-anchor="middle" font-size="9.4" fill="#222" stroke="#222" stroke-width="0.16">Cell ID</text>
<text x="593.2" y="426.90000000000003" text-anchor="end" font-size="9.4" fill="#222" stroke="#222" stroke-width="0.16">20</text>
<line x1="596.4" y1="423.6" x2="598.2" y2="423.6" stroke="#444" stroke-width="0.6"/>
<text x="593.2" y="442.8" text-anchor="end" font-size="9.4" fill="#222" stroke="#222" stroke-width="0.16">40</text>
<line x1="596.4" y1="439.5" x2="598.2" y2="439.5" stroke="#444" stroke-width="0.6"/>
<text x="593.2" y="459.40000000000003" text-anchor="end" font-size="9.4" fill="#222" stroke="#222" stroke-width="0.16">60</text>
<line x1="596.4" y1="456.1" x2="598.2" y2="456.1" stroke="#444" stroke-width="0.6"/>
<text transform="translate(683.50,429.2) rotate(-90)" text-anchor="middle" font-size="9.4" fill="#222" stroke="#222" stroke-width="0.16">Average FR (<tspan font-style="italic">z</tspan>)</text>
<path d="M639.2,462.6 L639.2,460.8 L652.3,460.8 L652.3,462.6" fill="none" stroke="#333" stroke-width="0.7"/>
<text x="645.8" y="470.8" text-anchor="middle" font-size="9.4" fill="#222" stroke="#222" stroke-width="0.16">5 s</text>
</svg>
</body></html>
